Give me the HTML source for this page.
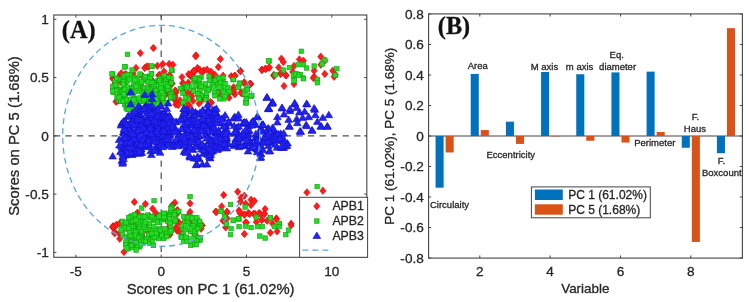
<!DOCTYPE html>
<html><head><meta charset="utf-8"><style>
html,body{margin:0;padding:0;background:#fff;overflow:hidden}
svg{display:block;filter:blur(0.3px)}
text{font-family:"Liberation Sans", sans-serif;stroke:#262626;stroke-width:0.3px}
</style></head><body>
<svg width="749" height="302" viewBox="0 0 749 302">
<rect x="0" y="0" width="749" height="302" fill="#fff"/>
<line x1="53.8" y1="135.85" x2="366.8" y2="135.85" stroke="#505050" stroke-width="1.2" stroke-dasharray="6.3 5.25"/>
<line x1="161.20" y1="15.0" x2="161.20" y2="257.3" stroke="#505050" stroke-width="1.2" stroke-dasharray="6.3 5.9" stroke-dashoffset="1"/>
<path d="M142.0 83.8L145.1 87.5L142.0 91.2L138.8 87.5Z" fill="#ff1c1c" stroke="#dd0a0a" stroke-width="0.6"/>
<path d="M172.1 79.9L175.3 83.6L172.1 87.3L169.0 83.6Z" fill="#ff1c1c" stroke="#dd0a0a" stroke-width="0.6"/>
<path d="M145.5 85.0L148.7 88.7L145.5 92.4L142.4 88.7Z" fill="#ff1c1c" stroke="#dd0a0a" stroke-width="0.6"/>
<path d="M124.8 81.8L128.0 85.5L124.8 89.2L121.7 85.5Z" fill="#ff1c1c" stroke="#dd0a0a" stroke-width="0.6"/>
<path d="M153.3 93.6L156.5 97.3L153.3 101.0L150.2 97.3Z" fill="#ff1c1c" stroke="#dd0a0a" stroke-width="0.6"/>
<path d="M119.0 73.0L122.2 76.7L119.0 80.4L115.9 76.7Z" fill="#ff1c1c" stroke="#dd0a0a" stroke-width="0.6"/>
<path d="M118.8 94.3L122.0 98.0L118.8 101.7L115.7 98.0Z" fill="#ff1c1c" stroke="#dd0a0a" stroke-width="0.6"/>
<path d="M157.4 62.1L160.5 65.8L157.4 69.5L154.2 65.8Z" fill="#ff1c1c" stroke="#dd0a0a" stroke-width="0.6"/>
<path d="M175.9 100.8L179.0 104.5L175.9 108.2L172.7 104.5Z" fill="#ff1c1c" stroke="#dd0a0a" stroke-width="0.6"/>
<path d="M154.9 86.2L158.0 89.9L154.9 93.6L151.7 89.9Z" fill="#ff1c1c" stroke="#dd0a0a" stroke-width="0.6"/>
<path d="M146.8 62.8L150.0 66.5L146.8 70.2L143.7 66.5Z" fill="#ff1c1c" stroke="#dd0a0a" stroke-width="0.6"/>
<path d="M125.2 70.5L128.3 74.2L125.2 77.9L122.0 74.2Z" fill="#ff1c1c" stroke="#dd0a0a" stroke-width="0.6"/>
<path d="M114.9 79.8L118.1 83.5L114.9 87.2L111.8 83.5Z" fill="#ff1c1c" stroke="#dd0a0a" stroke-width="0.6"/>
<path d="M141.2 95.7L144.3 99.4L141.2 103.1L138.0 99.4Z" fill="#ff1c1c" stroke="#dd0a0a" stroke-width="0.6"/>
<path d="M146.2 87.2L149.4 90.9L146.2 94.6L143.1 90.9Z" fill="#ff1c1c" stroke="#dd0a0a" stroke-width="0.6"/>
<path d="M145.0 88.1L148.1 91.8L145.0 95.5L141.8 91.8Z" fill="#ff1c1c" stroke="#dd0a0a" stroke-width="0.6"/>
<path d="M142.3 72.0L145.4 75.7L142.3 79.4L139.1 75.7Z" fill="#ff1c1c" stroke="#dd0a0a" stroke-width="0.6"/>
<path d="M166.8 90.0L169.9 93.7L166.8 97.4L163.6 93.7Z" fill="#ff1c1c" stroke="#dd0a0a" stroke-width="0.6"/>
<path d="M133.2 69.9L136.3 73.6L133.2 77.3L130.0 73.6Z" fill="#ff1c1c" stroke="#dd0a0a" stroke-width="0.6"/>
<path d="M162.0 77.1L165.2 80.8L162.0 84.5L158.9 80.8Z" fill="#ff1c1c" stroke="#dd0a0a" stroke-width="0.6"/>
<path d="M167.2 76.5L170.3 80.2L167.2 83.9L164.0 80.2Z" fill="#ff1c1c" stroke="#dd0a0a" stroke-width="0.6"/>
<path d="M174.3 95.9L177.5 99.6L174.3 103.3L171.2 99.6Z" fill="#ff1c1c" stroke="#dd0a0a" stroke-width="0.6"/>
<path d="M171.3 80.0L174.4 83.7L171.3 87.4L168.1 83.7Z" fill="#ff1c1c" stroke="#dd0a0a" stroke-width="0.6"/>
<path d="M117.7 86.7L120.8 90.4L117.7 94.1L114.5 90.4Z" fill="#ff1c1c" stroke="#dd0a0a" stroke-width="0.6"/>
<path d="M162.8 71.6L166.0 75.3L162.8 79.0L159.7 75.3Z" fill="#ff1c1c" stroke="#dd0a0a" stroke-width="0.6"/>
<path d="M118.6 74.3L121.7 78.0L118.6 81.7L115.4 78.0Z" fill="#ff1c1c" stroke="#dd0a0a" stroke-width="0.6"/>
<path d="M174.7 92.1L177.9 95.8L174.7 99.5L171.6 95.8Z" fill="#ff1c1c" stroke="#dd0a0a" stroke-width="0.6"/>
<path d="M120.6 70.6L123.7 74.3L120.6 78.0L117.4 74.3Z" fill="#ff1c1c" stroke="#dd0a0a" stroke-width="0.6"/>
<path d="M164.0 67.8L167.2 71.5L164.0 75.2L160.9 71.5Z" fill="#ff1c1c" stroke="#dd0a0a" stroke-width="0.6"/>
<path d="M148.8 79.1L151.9 82.8L148.8 86.5L145.6 82.8Z" fill="#ff1c1c" stroke="#dd0a0a" stroke-width="0.6"/>
<path d="M125.2 91.0L128.4 94.7L125.2 98.4L122.1 94.7Z" fill="#ff1c1c" stroke="#dd0a0a" stroke-width="0.6"/>
<path d="M121.4 87.3L124.5 91.0L121.4 94.7L118.2 91.0Z" fill="#ff1c1c" stroke="#dd0a0a" stroke-width="0.6"/>
<path d="M120.5 78.0L123.6 81.7L120.5 85.4L117.3 81.7Z" fill="#ff1c1c" stroke="#dd0a0a" stroke-width="0.6"/>
<path d="M126.6 71.6L129.8 75.3L126.6 79.0L123.5 75.3Z" fill="#ff1c1c" stroke="#dd0a0a" stroke-width="0.6"/>
<path d="M175.1 94.0L178.3 97.7L175.1 101.4L172.0 97.7Z" fill="#ff1c1c" stroke="#dd0a0a" stroke-width="0.6"/>
<path d="M132.5 97.5L135.6 101.2L132.5 104.9L129.3 101.2Z" fill="#ff1c1c" stroke="#dd0a0a" stroke-width="0.6"/>
<path d="M126.5 76.9L129.6 80.6L126.5 84.3L123.3 80.6Z" fill="#ff1c1c" stroke="#dd0a0a" stroke-width="0.6"/>
<path d="M167.7 87.3L170.8 91.0L167.7 94.7L164.5 91.0Z" fill="#ff1c1c" stroke="#dd0a0a" stroke-width="0.6"/>
<path d="M126.6 71.1L129.8 74.8L126.6 78.5L123.5 74.8Z" fill="#ff1c1c" stroke="#dd0a0a" stroke-width="0.6"/>
<path d="M162.5 74.1L165.6 77.8L162.5 81.5L159.3 77.8Z" fill="#ff1c1c" stroke="#dd0a0a" stroke-width="0.6"/>
<path d="M195.2 67.2L198.3 70.9L195.2 74.6L192.0 70.9Z" fill="#ff1c1c" stroke="#dd0a0a" stroke-width="0.6"/>
<path d="M183.2 87.6L186.4 91.3L183.2 95.0L180.1 91.3Z" fill="#ff1c1c" stroke="#dd0a0a" stroke-width="0.6"/>
<path d="M192.1 88.4L195.2 92.1L192.1 95.8L188.9 92.1Z" fill="#ff1c1c" stroke="#dd0a0a" stroke-width="0.6"/>
<path d="M199.6 82.4L202.7 86.1L199.6 89.8L196.4 86.1Z" fill="#ff1c1c" stroke="#dd0a0a" stroke-width="0.6"/>
<path d="M233.6 83.6L236.8 87.3L233.6 91.0L230.5 87.3Z" fill="#ff1c1c" stroke="#dd0a0a" stroke-width="0.6"/>
<path d="M211.3 99.0L214.5 102.7L211.3 106.4L208.2 102.7Z" fill="#ff1c1c" stroke="#dd0a0a" stroke-width="0.6"/>
<path d="M188.6 70.5L191.8 74.2L188.6 77.9L185.5 74.2Z" fill="#ff1c1c" stroke="#dd0a0a" stroke-width="0.6"/>
<path d="M192.5 71.9L195.6 75.6L192.5 79.3L189.3 75.6Z" fill="#ff1c1c" stroke="#dd0a0a" stroke-width="0.6"/>
<path d="M189.4 102.3L192.6 106.0L189.4 109.7L186.3 106.0Z" fill="#ff1c1c" stroke="#dd0a0a" stroke-width="0.6"/>
<path d="M229.2 88.4L232.3 92.1L229.2 95.8L226.0 92.1Z" fill="#ff1c1c" stroke="#dd0a0a" stroke-width="0.6"/>
<path d="M202.4 68.5L205.6 72.2L202.4 75.9L199.3 72.2Z" fill="#ff1c1c" stroke="#dd0a0a" stroke-width="0.6"/>
<path d="M191.8 92.5L195.0 96.2L191.8 99.9L188.7 96.2Z" fill="#ff1c1c" stroke="#dd0a0a" stroke-width="0.6"/>
<path d="M192.9 97.2L196.1 100.9L192.9 104.6L189.8 100.9Z" fill="#ff1c1c" stroke="#dd0a0a" stroke-width="0.6"/>
<path d="M212.6 76.0L215.7 79.7L212.6 83.4L209.4 79.7Z" fill="#ff1c1c" stroke="#dd0a0a" stroke-width="0.6"/>
<path d="M188.2 93.1L191.3 96.8L188.2 100.5L185.0 96.8Z" fill="#ff1c1c" stroke="#dd0a0a" stroke-width="0.6"/>
<path d="M182.0 73.4L185.1 77.1L182.0 80.8L178.8 77.1Z" fill="#ff1c1c" stroke="#dd0a0a" stroke-width="0.6"/>
<path d="M210.4 98.4L213.6 102.1L210.4 105.8L207.3 102.1Z" fill="#ff1c1c" stroke="#dd0a0a" stroke-width="0.6"/>
<path d="M213.6 75.5L216.8 79.2L213.6 82.9L210.5 79.2Z" fill="#ff1c1c" stroke="#dd0a0a" stroke-width="0.6"/>
<path d="M231.2 72.5L234.4 76.2L231.2 79.9L228.1 76.2Z" fill="#ff1c1c" stroke="#dd0a0a" stroke-width="0.6"/>
<path d="M203.9 66.7L207.0 70.4L203.9 74.1L200.7 70.4Z" fill="#ff1c1c" stroke="#dd0a0a" stroke-width="0.6"/>
<path d="M188.2 79.1L191.4 82.8L188.2 86.5L185.1 82.8Z" fill="#ff1c1c" stroke="#dd0a0a" stroke-width="0.6"/>
<path d="M211.2 69.6L214.3 73.3L211.2 77.0L208.0 73.3Z" fill="#ff1c1c" stroke="#dd0a0a" stroke-width="0.6"/>
<path d="M199.0 99.9L202.2 103.6L199.0 107.3L195.9 103.6Z" fill="#ff1c1c" stroke="#dd0a0a" stroke-width="0.6"/>
<path d="M234.9 90.6L238.0 94.3L234.9 98.0L231.7 94.3Z" fill="#ff1c1c" stroke="#dd0a0a" stroke-width="0.6"/>
<path d="M218.1 87.7L221.2 91.4L218.1 95.1L214.9 91.4Z" fill="#ff1c1c" stroke="#dd0a0a" stroke-width="0.6"/>
<path d="M206.0 93.5L209.1 97.2L206.0 100.9L202.8 97.2Z" fill="#ff1c1c" stroke="#dd0a0a" stroke-width="0.6"/>
<path d="M182.4 86.1L185.5 89.8L182.4 93.5L179.2 89.8Z" fill="#ff1c1c" stroke="#dd0a0a" stroke-width="0.6"/>
<path d="M220.8 92.4L223.9 96.1L220.8 99.8L217.6 96.1Z" fill="#ff1c1c" stroke="#dd0a0a" stroke-width="0.6"/>
<path d="M198.4 91.7L201.6 95.4L198.4 99.1L195.3 95.4Z" fill="#ff1c1c" stroke="#dd0a0a" stroke-width="0.6"/>
<path d="M202.2 95.9L205.3 99.6L202.2 103.3L199.0 99.6Z" fill="#ff1c1c" stroke="#dd0a0a" stroke-width="0.6"/>
<path d="M191.4 227.1L194.6 230.8L191.4 234.5L188.3 230.8Z" fill="#ff1c1c" stroke="#dd0a0a" stroke-width="0.6"/>
<path d="M169.5 218.5L172.6 222.2L169.5 225.9L166.3 222.2Z" fill="#ff1c1c" stroke="#dd0a0a" stroke-width="0.6"/>
<path d="M165.6 228.7L168.8 232.4L165.6 236.1L162.5 232.4Z" fill="#ff1c1c" stroke="#dd0a0a" stroke-width="0.6"/>
<path d="M119.4 230.1L122.5 233.8L119.4 237.5L116.2 233.8Z" fill="#ff1c1c" stroke="#dd0a0a" stroke-width="0.6"/>
<path d="M179.0 218.8L182.1 222.5L179.0 226.2L175.8 222.5Z" fill="#ff1c1c" stroke="#dd0a0a" stroke-width="0.6"/>
<path d="M179.6 227.4L182.8 231.1L179.6 234.8L176.5 231.1Z" fill="#ff1c1c" stroke="#dd0a0a" stroke-width="0.6"/>
<path d="M119.7 235.1L122.9 238.8L119.7 242.5L116.6 238.8Z" fill="#ff1c1c" stroke="#dd0a0a" stroke-width="0.6"/>
<path d="M114.7 228.4L117.9 232.1L114.7 235.8L111.6 232.1Z" fill="#ff1c1c" stroke="#dd0a0a" stroke-width="0.6"/>
<path d="M156.2 211.7L159.4 215.4L156.2 219.1L153.1 215.4Z" fill="#ff1c1c" stroke="#dd0a0a" stroke-width="0.6"/>
<path d="M176.2 223.7L179.4 227.4L176.2 231.1L173.1 227.4Z" fill="#ff1c1c" stroke="#dd0a0a" stroke-width="0.6"/>
<path d="M139.7 231.8L142.8 235.5L139.7 239.2L136.5 235.5Z" fill="#ff1c1c" stroke="#dd0a0a" stroke-width="0.6"/>
<path d="M195.3 231.0L198.5 234.7L195.3 238.4L192.2 234.7Z" fill="#ff1c1c" stroke="#dd0a0a" stroke-width="0.6"/>
<path d="M142.1 231.3L145.2 235.0L142.1 238.7L138.9 235.0Z" fill="#ff1c1c" stroke="#dd0a0a" stroke-width="0.6"/>
<path d="M130.3 220.7L133.4 224.4L130.3 228.1L127.1 224.4Z" fill="#ff1c1c" stroke="#dd0a0a" stroke-width="0.6"/>
<path d="M193.0 218.6L196.1 222.3L193.0 226.0L189.8 222.3Z" fill="#ff1c1c" stroke="#dd0a0a" stroke-width="0.6"/>
<path d="M165.6 215.5L168.8 219.2L165.6 222.9L162.5 219.2Z" fill="#ff1c1c" stroke="#dd0a0a" stroke-width="0.6"/>
<path d="M124.5 223.6L127.7 227.3L124.5 231.0L121.4 227.3Z" fill="#ff1c1c" stroke="#dd0a0a" stroke-width="0.6"/>
<path d="M137.5 208.9L140.6 212.6L137.5 216.3L134.3 212.6Z" fill="#ff1c1c" stroke="#dd0a0a" stroke-width="0.6"/>
<path d="M153.5 213.7L156.6 217.4L153.5 221.1L150.3 217.4Z" fill="#ff1c1c" stroke="#dd0a0a" stroke-width="0.6"/>
<path d="M131.7 219.9L134.8 223.6L131.7 227.3L128.5 223.6Z" fill="#ff1c1c" stroke="#dd0a0a" stroke-width="0.6"/>
<path d="M169.6 223.5L172.7 227.2L169.6 230.9L166.4 227.2Z" fill="#ff1c1c" stroke="#dd0a0a" stroke-width="0.6"/>
<path d="M141.0 239.1L144.2 242.8L141.0 246.5L137.9 242.8Z" fill="#ff1c1c" stroke="#dd0a0a" stroke-width="0.6"/>
<path d="M202.3 221.7L205.5 225.4L202.3 229.1L199.2 225.4Z" fill="#ff1c1c" stroke="#dd0a0a" stroke-width="0.6"/>
<path d="M177.2 227.0L180.3 230.7L177.2 234.4L174.0 230.7Z" fill="#ff1c1c" stroke="#dd0a0a" stroke-width="0.6"/>
<path d="M140.4 236.9L143.6 240.6L140.4 244.3L137.3 240.6Z" fill="#ff1c1c" stroke="#dd0a0a" stroke-width="0.6"/>
<path d="M188.3 212.0L191.5 215.7L188.3 219.4L185.2 215.7Z" fill="#ff1c1c" stroke="#dd0a0a" stroke-width="0.6"/>
<path d="M169.9 221.4L173.0 225.1L169.9 228.8L166.7 225.1Z" fill="#ff1c1c" stroke="#dd0a0a" stroke-width="0.6"/>
<path d="M170.0 230.8L173.1 234.5L170.0 238.2L166.8 234.5Z" fill="#ff1c1c" stroke="#dd0a0a" stroke-width="0.6"/>
<path d="M175.0 210.3L178.1 214.0L175.0 217.7L171.8 214.0Z" fill="#ff1c1c" stroke="#dd0a0a" stroke-width="0.6"/>
<path d="M155.7 209.3L158.9 213.0L155.7 216.7L152.6 213.0Z" fill="#ff1c1c" stroke="#dd0a0a" stroke-width="0.6"/>
<path d="M113.0 222.5L116.1 226.2L113.0 229.9L109.8 226.2Z" fill="#ff1c1c" stroke="#dd0a0a" stroke-width="0.6"/>
<path d="M177.7 209.4L180.9 213.1L177.7 216.8L174.6 213.1Z" fill="#ff1c1c" stroke="#dd0a0a" stroke-width="0.6"/>
<path d="M137.1 216.9L140.2 220.6L137.1 224.3L133.9 220.6Z" fill="#ff1c1c" stroke="#dd0a0a" stroke-width="0.6"/>
<path d="M176.2 224.7L179.3 228.4L176.2 232.1L173.0 228.4Z" fill="#ff1c1c" stroke="#dd0a0a" stroke-width="0.6"/>
<path d="M124.0 221.7L127.1 225.4L124.0 229.1L120.8 225.4Z" fill="#ff1c1c" stroke="#dd0a0a" stroke-width="0.6"/>
<path d="M146.7 226.9L149.8 230.6L146.7 234.3L143.5 230.6Z" fill="#ff1c1c" stroke="#dd0a0a" stroke-width="0.6"/>
<path d="M198.9 222.2L202.0 225.9L198.9 229.6L195.7 225.9Z" fill="#ff1c1c" stroke="#dd0a0a" stroke-width="0.6"/>
<path d="M171.9 210.5L175.1 214.2L171.9 217.9L168.8 214.2Z" fill="#ff1c1c" stroke="#dd0a0a" stroke-width="0.6"/>
<path d="M131.6 241.8L134.8 245.5L131.6 249.2L128.5 245.5Z" fill="#ff1c1c" stroke="#dd0a0a" stroke-width="0.6"/>
<path d="M190.7 217.0L193.9 220.7L190.7 224.4L187.6 220.7Z" fill="#ff1c1c" stroke="#dd0a0a" stroke-width="0.6"/>
<path d="M153.4 44.3L156.6 48.0L153.4 51.7L150.2 48.0Z" fill="#ff1c1c" stroke="#dd0a0a" stroke-width="0.6"/>
<path d="M140.3 49.4L143.5 53.1L140.3 56.8L137.2 53.1Z" fill="#ff1c1c" stroke="#dd0a0a" stroke-width="0.6"/>
<path d="M162.8 60.3L166.0 64.0L162.8 67.7L159.7 64.0Z" fill="#ff1c1c" stroke="#dd0a0a" stroke-width="0.6"/>
<path d="M169.2 60.3L172.3 64.0L169.2 67.7L166.0 64.0Z" fill="#ff1c1c" stroke="#dd0a0a" stroke-width="0.6"/>
<path d="M172.8 61.0L176.0 64.7L172.8 68.4L169.7 64.7Z" fill="#ff1c1c" stroke="#dd0a0a" stroke-width="0.6"/>
<path d="M196.1 51.7L199.2 55.4L196.1 59.1L192.9 55.4Z" fill="#ff1c1c" stroke="#dd0a0a" stroke-width="0.6"/>
<path d="M136.0 64.3L139.2 68.0L136.0 71.7L132.8 68.0Z" fill="#ff1c1c" stroke="#dd0a0a" stroke-width="0.6"/>
<path d="M144.7 64.3L147.8 68.0L144.7 71.7L141.5 68.0Z" fill="#ff1c1c" stroke="#dd0a0a" stroke-width="0.6"/>
<path d="M148.7 63.0L151.8 66.7L148.7 70.4L145.5 66.7Z" fill="#ff1c1c" stroke="#dd0a0a" stroke-width="0.6"/>
<path d="M121.4 69.7L124.6 73.4L121.4 77.1L118.2 73.4Z" fill="#ff1c1c" stroke="#dd0a0a" stroke-width="0.6"/>
<path d="M158.7 71.7L161.8 75.4L158.7 79.1L155.5 75.4Z" fill="#ff1c1c" stroke="#dd0a0a" stroke-width="0.6"/>
<path d="M169.4 72.3L172.6 76.0L169.4 79.7L166.2 76.0Z" fill="#ff1c1c" stroke="#dd0a0a" stroke-width="0.6"/>
<path d="M193.5 67.7L196.7 71.4L193.5 75.1L190.3 71.4Z" fill="#ff1c1c" stroke="#dd0a0a" stroke-width="0.6"/>
<path d="M190.8 71.7L194.0 75.4L190.8 79.1L187.7 75.4Z" fill="#ff1c1c" stroke="#dd0a0a" stroke-width="0.6"/>
<path d="M197.5 64.3L200.7 68.0L197.5 71.7L194.3 68.0Z" fill="#ff1c1c" stroke="#dd0a0a" stroke-width="0.6"/>
<path d="M112.7 74.6L115.9 78.3L112.7 82.0L109.5 78.3Z" fill="#ff1c1c" stroke="#dd0a0a" stroke-width="0.6"/>
<path d="M117.4 96.7L120.6 100.4L117.4 104.1L114.2 100.4Z" fill="#ff1c1c" stroke="#dd0a0a" stroke-width="0.6"/>
<path d="M116.0 98.0L119.2 101.7L116.0 105.4L112.8 101.7Z" fill="#ff1c1c" stroke="#dd0a0a" stroke-width="0.6"/>
<path d="M176.1 88.7L179.2 92.4L176.1 96.1L172.9 92.4Z" fill="#ff1c1c" stroke="#dd0a0a" stroke-width="0.6"/>
<path d="M177.4 100.0L180.6 103.7L177.4 107.4L174.2 103.7Z" fill="#ff1c1c" stroke="#dd0a0a" stroke-width="0.6"/>
<path d="M182.8 79.3L186.0 83.0L182.8 86.7L179.7 83.0Z" fill="#ff1c1c" stroke="#dd0a0a" stroke-width="0.6"/>
<path d="M188.1 89.3L191.2 93.0L188.1 96.7L184.9 93.0Z" fill="#ff1c1c" stroke="#dd0a0a" stroke-width="0.6"/>
<path d="M188.1 101.3L191.2 105.0L188.1 108.7L184.9 105.0Z" fill="#ff1c1c" stroke="#dd0a0a" stroke-width="0.6"/>
<path d="M180.1 96.7L183.2 100.4L180.1 104.1L176.9 100.4Z" fill="#ff1c1c" stroke="#dd0a0a" stroke-width="0.6"/>
<path d="M190.8 72.6L194.0 76.3L190.8 80.0L187.7 76.3Z" fill="#ff1c1c" stroke="#dd0a0a" stroke-width="0.6"/>
<path d="M198.1 79.3L201.2 83.0L198.1 86.7L194.9 83.0Z" fill="#ff1c1c" stroke="#dd0a0a" stroke-width="0.6"/>
<path d="M150.7 75.3L153.8 79.0L150.7 82.7L147.5 79.0Z" fill="#ff1c1c" stroke="#dd0a0a" stroke-width="0.6"/>
<path d="M146.7 88.7L149.8 92.4L146.7 96.1L143.5 92.4Z" fill="#ff1c1c" stroke="#dd0a0a" stroke-width="0.6"/>
<path d="M160.1 96.7L163.2 100.4L160.1 104.1L156.9 100.4Z" fill="#ff1c1c" stroke="#dd0a0a" stroke-width="0.6"/>
<path d="M126.7 75.3L129.8 79.0L126.7 82.7L123.5 79.0Z" fill="#ff1c1c" stroke="#dd0a0a" stroke-width="0.6"/>
<path d="M113.9 76.1L117.1 79.8L113.9 83.5L110.8 79.8Z" fill="#ff1c1c" stroke="#dd0a0a" stroke-width="0.6"/>
<path d="M151.6 76.1L154.8 79.8L151.6 83.5L148.4 79.8Z" fill="#ff1c1c" stroke="#dd0a0a" stroke-width="0.6"/>
<path d="M159.6 71.2L162.8 74.9L159.6 78.6L156.4 74.9Z" fill="#ff1c1c" stroke="#dd0a0a" stroke-width="0.6"/>
<path d="M169.5 71.2L172.7 74.9L169.5 78.6L166.3 74.9Z" fill="#ff1c1c" stroke="#dd0a0a" stroke-width="0.6"/>
<path d="M175.5 87.0L178.7 90.7L175.5 94.4L172.3 90.7Z" fill="#ff1c1c" stroke="#dd0a0a" stroke-width="0.6"/>
<path d="M117.9 97.0L121.1 100.7L117.9 104.4L114.8 100.7Z" fill="#ff1c1c" stroke="#dd0a0a" stroke-width="0.6"/>
<path d="M159.6 97.0L162.8 100.7L159.6 104.4L156.4 100.7Z" fill="#ff1c1c" stroke="#dd0a0a" stroke-width="0.6"/>
<path d="M195.7 52.6L198.8 56.3L195.7 60.0L192.5 56.3Z" fill="#ff1c1c" stroke="#dd0a0a" stroke-width="0.6"/>
<path d="M220.4 55.3L223.6 59.0L220.4 62.7L217.2 59.0Z" fill="#ff1c1c" stroke="#dd0a0a" stroke-width="0.6"/>
<path d="M218.4 63.3L221.6 67.0L218.4 70.7L215.2 67.0Z" fill="#ff1c1c" stroke="#dd0a0a" stroke-width="0.6"/>
<path d="M191.0 71.3L194.2 75.0L191.0 78.7L187.8 75.0Z" fill="#ff1c1c" stroke="#dd0a0a" stroke-width="0.6"/>
<path d="M193.7 67.3L196.8 71.0L193.7 74.7L190.5 71.0Z" fill="#ff1c1c" stroke="#dd0a0a" stroke-width="0.6"/>
<path d="M199.7 66.0L202.8 69.7L199.7 73.4L196.5 69.7Z" fill="#ff1c1c" stroke="#dd0a0a" stroke-width="0.6"/>
<path d="M201.7 68.0L204.8 71.7L201.7 75.4L198.5 71.7Z" fill="#ff1c1c" stroke="#dd0a0a" stroke-width="0.6"/>
<path d="M207.0 66.0L210.2 69.7L207.0 73.4L203.8 69.7Z" fill="#ff1c1c" stroke="#dd0a0a" stroke-width="0.6"/>
<path d="M211.0 68.0L214.2 71.7L211.0 75.4L207.8 71.7Z" fill="#ff1c1c" stroke="#dd0a0a" stroke-width="0.6"/>
<path d="M215.0 71.3L218.2 75.0L215.0 78.7L211.8 75.0Z" fill="#ff1c1c" stroke="#dd0a0a" stroke-width="0.6"/>
<path d="M223.1 72.0L226.2 75.7L223.1 79.4L219.9 75.7Z" fill="#ff1c1c" stroke="#dd0a0a" stroke-width="0.6"/>
<path d="M235.1 72.0L238.2 75.7L235.1 79.4L231.9 75.7Z" fill="#ff1c1c" stroke="#dd0a0a" stroke-width="0.6"/>
<path d="M240.4 67.3L243.6 71.0L240.4 74.7L237.2 71.0Z" fill="#ff1c1c" stroke="#dd0a0a" stroke-width="0.6"/>
<path d="M244.4 78.7L247.6 82.4L244.4 86.1L241.2 82.4Z" fill="#ff1c1c" stroke="#dd0a0a" stroke-width="0.6"/>
<path d="M250.4 80.0L253.6 83.7L250.4 87.4L247.2 83.7Z" fill="#ff1c1c" stroke="#dd0a0a" stroke-width="0.6"/>
<path d="M233.1 87.3L236.2 91.0L233.1 94.7L229.9 91.0Z" fill="#ff1c1c" stroke="#dd0a0a" stroke-width="0.6"/>
<path d="M183.0 80.0L186.2 83.7L183.0 87.4L179.8 83.7Z" fill="#ff1c1c" stroke="#dd0a0a" stroke-width="0.6"/>
<path d="M175.0 87.3L178.2 91.0L175.0 94.7L171.8 91.0Z" fill="#ff1c1c" stroke="#dd0a0a" stroke-width="0.6"/>
<path d="M261.8 66.0L264.9 69.7L261.8 73.4L258.7 69.7Z" fill="#ff1c1c" stroke="#dd0a0a" stroke-width="0.6"/>
<path d="M265.8 65.3L268.9 69.0L265.8 72.7L262.7 69.0Z" fill="#ff1c1c" stroke="#dd0a0a" stroke-width="0.6"/>
<path d="M269.1 64.0L272.2 67.7L269.1 71.4L266.0 67.7Z" fill="#ff1c1c" stroke="#dd0a0a" stroke-width="0.6"/>
<path d="M273.8 71.3L276.9 75.0L273.8 78.7L270.7 75.0Z" fill="#ff1c1c" stroke="#dd0a0a" stroke-width="0.6"/>
<path d="M187.7 101.3L190.8 105.0L187.7 108.7L184.5 105.0Z" fill="#ff1c1c" stroke="#dd0a0a" stroke-width="0.6"/>
<path d="M178.3 101.3L181.5 105.0L178.3 108.7L175.2 105.0Z" fill="#ff1c1c" stroke="#dd0a0a" stroke-width="0.6"/>
<path d="M229.1 94.0L232.2 97.7L229.1 101.4L225.9 97.7Z" fill="#ff1c1c" stroke="#dd0a0a" stroke-width="0.6"/>
<path d="M232.4 87.3L235.6 91.0L232.4 94.7L229.2 91.0Z" fill="#ff1c1c" stroke="#dd0a0a" stroke-width="0.6"/>
<path d="M241.1 88.7L244.2 92.4L241.1 96.1L237.9 92.4Z" fill="#ff1c1c" stroke="#dd0a0a" stroke-width="0.6"/>
<path d="M262.0 66.3L265.1 70.0L262.0 73.7L258.9 70.0Z" fill="#ff1c1c" stroke="#dd0a0a" stroke-width="0.6"/>
<path d="M265.4 65.0L268.5 68.7L265.4 72.4L262.2 68.7Z" fill="#ff1c1c" stroke="#dd0a0a" stroke-width="0.6"/>
<path d="M269.4 63.7L272.5 67.4L269.4 71.1L266.2 67.4Z" fill="#ff1c1c" stroke="#dd0a0a" stroke-width="0.6"/>
<path d="M281.4 55.0L284.5 58.7L281.4 62.4L278.2 58.7Z" fill="#ff1c1c" stroke="#dd0a0a" stroke-width="0.6"/>
<path d="M283.4 58.3L286.5 62.0L283.4 65.7L280.2 62.0Z" fill="#ff1c1c" stroke="#dd0a0a" stroke-width="0.6"/>
<path d="M278.7 63.7L281.8 67.4L278.7 71.1L275.6 67.4Z" fill="#ff1c1c" stroke="#dd0a0a" stroke-width="0.6"/>
<path d="M274.0 71.7L277.1 75.4L274.0 79.1L270.9 75.4Z" fill="#ff1c1c" stroke="#dd0a0a" stroke-width="0.6"/>
<path d="M280.7 69.7L283.8 73.4L280.7 77.1L277.6 73.4Z" fill="#ff1c1c" stroke="#dd0a0a" stroke-width="0.6"/>
<path d="M286.0 71.7L289.1 75.4L286.0 79.1L282.9 75.4Z" fill="#ff1c1c" stroke="#dd0a0a" stroke-width="0.6"/>
<path d="M294.0 62.3L297.1 66.0L294.0 69.7L290.9 66.0Z" fill="#ff1c1c" stroke="#dd0a0a" stroke-width="0.6"/>
<path d="M292.7 68.3L295.8 72.0L292.7 75.7L289.6 72.0Z" fill="#ff1c1c" stroke="#dd0a0a" stroke-width="0.6"/>
<path d="M299.4 55.7L302.5 59.4L299.4 63.1L296.2 59.4Z" fill="#ff1c1c" stroke="#dd0a0a" stroke-width="0.6"/>
<path d="M303.4 57.0L306.5 60.7L303.4 64.4L300.2 60.7Z" fill="#ff1c1c" stroke="#dd0a0a" stroke-width="0.6"/>
<path d="M314.1 67.0L317.2 70.7L314.1 74.4L311.0 70.7Z" fill="#ff1c1c" stroke="#dd0a0a" stroke-width="0.6"/>
<path d="M314.1 73.0L317.2 76.7L314.1 80.4L311.0 76.7Z" fill="#ff1c1c" stroke="#dd0a0a" stroke-width="0.6"/>
<path d="M320.8 53.0L323.9 56.7L320.8 60.4L317.7 56.7Z" fill="#ff1c1c" stroke="#dd0a0a" stroke-width="0.6"/>
<path d="M324.8 57.0L327.9 60.7L324.8 64.4L321.7 60.7Z" fill="#ff1c1c" stroke="#dd0a0a" stroke-width="0.6"/>
<path d="M320.8 61.0L323.9 64.7L320.8 68.4L317.7 64.7Z" fill="#ff1c1c" stroke="#dd0a0a" stroke-width="0.6"/>
<path d="M324.8 70.3L327.9 74.0L324.8 77.7L321.7 74.0Z" fill="#ff1c1c" stroke="#dd0a0a" stroke-width="0.6"/>
<path d="M332.8 67.0L335.9 70.7L332.8 74.4L329.7 70.7Z" fill="#ff1c1c" stroke="#dd0a0a" stroke-width="0.6"/>
<path d="M335.4 71.0L338.5 74.7L335.4 78.4L332.2 74.7Z" fill="#ff1c1c" stroke="#dd0a0a" stroke-width="0.6"/>
<path d="M284.0 82.3L287.1 86.0L284.0 89.7L280.9 86.0Z" fill="#ff1c1c" stroke="#dd0a0a" stroke-width="0.6"/>
<path d="M294.0 80.3L297.1 84.0L294.0 87.7L290.9 84.0Z" fill="#ff1c1c" stroke="#dd0a0a" stroke-width="0.6"/>
<path d="M313.4 74.3L316.5 78.0L313.4 81.7L310.2 78.0Z" fill="#ff1c1c" stroke="#dd0a0a" stroke-width="0.6"/>
<path d="M334.1 73.0L337.2 76.7L334.1 80.4L331.0 76.7Z" fill="#ff1c1c" stroke="#dd0a0a" stroke-width="0.6"/>
<path d="M250.7 80.3L253.8 84.0L250.7 87.7L247.5 84.0Z" fill="#ff1c1c" stroke="#dd0a0a" stroke-width="0.6"/>
<path d="M274.0 72.3L277.1 76.0L274.0 79.7L270.9 76.0Z" fill="#ff1c1c" stroke="#dd0a0a" stroke-width="0.6"/>
<path d="M286.0 71.6L289.1 75.3L286.0 79.0L282.9 75.3Z" fill="#ff1c1c" stroke="#dd0a0a" stroke-width="0.6"/>
<path d="M280.7 70.3L283.8 74.0L280.7 77.7L277.6 74.0Z" fill="#ff1c1c" stroke="#dd0a0a" stroke-width="0.6"/>
<path d="M240.4 67.6L243.6 71.3L240.4 75.0L237.2 71.3Z" fill="#ff1c1c" stroke="#dd0a0a" stroke-width="0.6"/>
<path d="M234.6 72.2L237.8 75.9L234.6 79.6L231.4 75.9Z" fill="#ff1c1c" stroke="#dd0a0a" stroke-width="0.6"/>
<path d="M233.5 87.3L236.7 91.0L233.5 94.7L230.3 91.0Z" fill="#ff1c1c" stroke="#dd0a0a" stroke-width="0.6"/>
<path d="M243.9 79.2L247.1 82.9L243.9 86.6L240.8 82.9Z" fill="#ff1c1c" stroke="#dd0a0a" stroke-width="0.6"/>
<path d="M249.7 80.3L252.8 84.0L249.7 87.7L246.5 84.0Z" fill="#ff1c1c" stroke="#dd0a0a" stroke-width="0.6"/>
<path d="M241.6 89.6L244.8 93.3L241.6 97.0L238.4 93.3Z" fill="#ff1c1c" stroke="#dd0a0a" stroke-width="0.6"/>
<path d="M306.9 188.7L310.0 192.4L306.9 196.1L303.8 192.4Z" fill="#ff1c1c" stroke="#dd0a0a" stroke-width="0.6"/>
<path d="M322.9 187.1L326.0 190.8L322.9 194.5L319.8 190.8Z" fill="#ff1c1c" stroke="#dd0a0a" stroke-width="0.6"/>
<path d="M134.4 198.3L137.6 202.0L134.4 205.7L131.2 202.0Z" fill="#ff1c1c" stroke="#dd0a0a" stroke-width="0.6"/>
<path d="M145.4 200.3L148.6 204.0L145.4 207.7L142.2 204.0Z" fill="#ff1c1c" stroke="#dd0a0a" stroke-width="0.6"/>
<path d="M152.7 205.0L155.8 208.7L152.7 212.4L149.5 208.7Z" fill="#ff1c1c" stroke="#dd0a0a" stroke-width="0.6"/>
<path d="M174.8 199.0L178.0 202.7L174.8 206.4L171.7 202.7Z" fill="#ff1c1c" stroke="#dd0a0a" stroke-width="0.6"/>
<path d="M172.1 201.7L175.2 205.4L172.1 209.1L168.9 205.4Z" fill="#ff1c1c" stroke="#dd0a0a" stroke-width="0.6"/>
<path d="M190.1 199.7L193.2 203.4L190.1 207.1L186.9 203.4Z" fill="#ff1c1c" stroke="#dd0a0a" stroke-width="0.6"/>
<path d="M190.1 208.3L193.2 212.0L190.1 215.7L186.9 212.0Z" fill="#ff1c1c" stroke="#dd0a0a" stroke-width="0.6"/>
<path d="M177.4 206.3L180.6 210.0L177.4 213.7L174.2 210.0Z" fill="#ff1c1c" stroke="#dd0a0a" stroke-width="0.6"/>
<path d="M176.1 216.3L179.2 220.0L176.1 223.7L172.9 220.0Z" fill="#ff1c1c" stroke="#dd0a0a" stroke-width="0.6"/>
<path d="M184.8 217.7L188.0 221.4L184.8 225.1L181.7 221.4Z" fill="#ff1c1c" stroke="#dd0a0a" stroke-width="0.6"/>
<path d="M157.4 213.0L160.6 216.7L157.4 220.4L154.2 216.7Z" fill="#ff1c1c" stroke="#dd0a0a" stroke-width="0.6"/>
<path d="M149.4 212.3L152.6 216.0L149.4 219.7L146.2 216.0Z" fill="#ff1c1c" stroke="#dd0a0a" stroke-width="0.6"/>
<path d="M136.0 211.0L139.2 214.7L136.0 218.4L132.8 214.7Z" fill="#ff1c1c" stroke="#dd0a0a" stroke-width="0.6"/>
<path d="M120.0 219.7L123.2 223.4L120.0 227.1L116.8 223.4Z" fill="#ff1c1c" stroke="#dd0a0a" stroke-width="0.6"/>
<path d="M116.0 221.7L119.2 225.4L116.0 229.1L112.8 225.4Z" fill="#ff1c1c" stroke="#dd0a0a" stroke-width="0.6"/>
<path d="M112.7 223.7L115.9 227.4L112.7 231.1L109.5 227.4Z" fill="#ff1c1c" stroke="#dd0a0a" stroke-width="0.6"/>
<path d="M113.4 223.0L116.6 226.7L113.4 230.4L110.2 226.7Z" fill="#ff1c1c" stroke="#dd0a0a" stroke-width="0.6"/>
<path d="M116.7 221.0L119.9 224.7L116.7 228.4L113.5 224.7Z" fill="#ff1c1c" stroke="#dd0a0a" stroke-width="0.6"/>
<path d="M120.0 219.6L123.2 223.3L120.0 227.0L116.8 223.3Z" fill="#ff1c1c" stroke="#dd0a0a" stroke-width="0.6"/>
<path d="M114.7 229.7L117.9 233.4L114.7 237.1L111.5 233.4Z" fill="#ff1c1c" stroke="#dd0a0a" stroke-width="0.6"/>
<path d="M124.0 248.3L127.2 252.0L124.0 255.7L120.8 252.0Z" fill="#ff1c1c" stroke="#dd0a0a" stroke-width="0.6"/>
<path d="M144.0 236.3L147.2 240.0L144.0 243.7L140.8 240.0Z" fill="#ff1c1c" stroke="#dd0a0a" stroke-width="0.6"/>
<path d="M149.4 233.0L152.6 236.7L149.4 240.4L146.2 236.7Z" fill="#ff1c1c" stroke="#dd0a0a" stroke-width="0.6"/>
<path d="M160.1 229.7L163.2 233.4L160.1 237.1L156.9 233.4Z" fill="#ff1c1c" stroke="#dd0a0a" stroke-width="0.6"/>
<path d="M223.7 191.3L226.8 195.0L223.7 198.7L220.5 195.0Z" fill="#ff1c1c" stroke="#dd0a0a" stroke-width="0.6"/>
<path d="M237.7 188.0L240.8 191.7L237.7 195.4L234.5 191.7Z" fill="#ff1c1c" stroke="#dd0a0a" stroke-width="0.6"/>
<path d="M241.1 194.0L244.2 197.7L241.1 201.4L237.9 197.7Z" fill="#ff1c1c" stroke="#dd0a0a" stroke-width="0.6"/>
<path d="M244.4 192.0L247.6 195.7L244.4 199.4L241.2 195.7Z" fill="#ff1c1c" stroke="#dd0a0a" stroke-width="0.6"/>
<path d="M240.4 198.0L243.6 201.7L240.4 205.4L237.2 201.7Z" fill="#ff1c1c" stroke="#dd0a0a" stroke-width="0.6"/>
<path d="M251.1 196.0L254.2 199.7L251.1 203.4L247.9 199.7Z" fill="#ff1c1c" stroke="#dd0a0a" stroke-width="0.6"/>
<path d="M254.4 197.3L257.6 201.0L254.4 204.7L251.2 201.0Z" fill="#ff1c1c" stroke="#dd0a0a" stroke-width="0.6"/>
<path d="M251.1 201.3L254.2 205.0L251.1 208.7L247.9 205.0Z" fill="#ff1c1c" stroke="#dd0a0a" stroke-width="0.6"/>
<path d="M245.7 200.0L248.8 203.7L245.7 207.4L242.5 203.7Z" fill="#ff1c1c" stroke="#dd0a0a" stroke-width="0.6"/>
<path d="M221.7 202.7L224.8 206.4L221.7 210.1L218.5 206.4Z" fill="#ff1c1c" stroke="#dd0a0a" stroke-width="0.6"/>
<path d="M215.7 208.0L218.8 211.7L215.7 215.4L212.5 211.7Z" fill="#ff1c1c" stroke="#dd0a0a" stroke-width="0.6"/>
<path d="M227.0 208.0L230.2 211.7L227.0 215.4L223.8 211.7Z" fill="#ff1c1c" stroke="#dd0a0a" stroke-width="0.6"/>
<path d="M239.1 206.7L242.2 210.4L239.1 214.1L235.9 210.4Z" fill="#ff1c1c" stroke="#dd0a0a" stroke-width="0.6"/>
<path d="M240.4 210.0L243.6 213.7L240.4 217.4L237.2 213.7Z" fill="#ff1c1c" stroke="#dd0a0a" stroke-width="0.6"/>
<path d="M244.4 210.7L247.6 214.4L244.4 218.1L241.2 214.4Z" fill="#ff1c1c" stroke="#dd0a0a" stroke-width="0.6"/>
<path d="M248.4 209.3L251.6 213.0L248.4 216.7L245.2 213.0Z" fill="#ff1c1c" stroke="#dd0a0a" stroke-width="0.6"/>
<path d="M253.7 210.0L256.8 213.7L253.7 217.4L250.5 213.7Z" fill="#ff1c1c" stroke="#dd0a0a" stroke-width="0.6"/>
<path d="M259.1 209.3L262.2 213.0L259.1 216.7L256.0 213.0Z" fill="#ff1c1c" stroke="#dd0a0a" stroke-width="0.6"/>
<path d="M265.1 205.3L268.2 209.0L265.1 212.7L262.0 209.0Z" fill="#ff1c1c" stroke="#dd0a0a" stroke-width="0.6"/>
<path d="M264.4 210.0L267.5 213.7L264.4 217.4L261.2 213.7Z" fill="#ff1c1c" stroke="#dd0a0a" stroke-width="0.6"/>
<path d="M261.8 216.0L264.9 219.7L261.8 223.4L258.7 219.7Z" fill="#ff1c1c" stroke="#dd0a0a" stroke-width="0.6"/>
<path d="M276.4 214.7L279.5 218.4L276.4 222.1L273.2 218.4Z" fill="#ff1c1c" stroke="#dd0a0a" stroke-width="0.6"/>
<path d="M291.1 220.0L294.2 223.7L291.1 227.4L288.0 223.7Z" fill="#ff1c1c" stroke="#dd0a0a" stroke-width="0.6"/>
<path d="M245.7 218.7L248.8 222.4L245.7 226.1L242.5 222.4Z" fill="#ff1c1c" stroke="#dd0a0a" stroke-width="0.6"/>
<path d="M196.3 215.3L199.5 219.0L196.3 222.7L193.2 219.0Z" fill="#ff1c1c" stroke="#dd0a0a" stroke-width="0.6"/>
<path d="M227.0 214.7L230.2 218.4L227.0 222.1L223.8 218.4Z" fill="#ff1c1c" stroke="#dd0a0a" stroke-width="0.6"/>
<path d="M216.4 208.3L219.6 212.0L216.4 215.7L213.2 212.0Z" fill="#ff1c1c" stroke="#dd0a0a" stroke-width="0.6"/>
<path d="M227.0 209.0L230.2 212.7L227.0 216.4L223.8 212.7Z" fill="#ff1c1c" stroke="#dd0a0a" stroke-width="0.6"/>
<path d="M239.7 208.3L242.8 212.0L239.7 215.7L236.5 212.0Z" fill="#ff1c1c" stroke="#dd0a0a" stroke-width="0.6"/>
<path d="M244.4 211.0L247.6 214.7L244.4 218.4L241.2 214.7Z" fill="#ff1c1c" stroke="#dd0a0a" stroke-width="0.6"/>
<path d="M249.7 210.3L252.8 214.0L249.7 217.7L246.5 214.0Z" fill="#ff1c1c" stroke="#dd0a0a" stroke-width="0.6"/>
<path d="M255.1 210.3L258.2 214.0L255.1 217.7L251.9 214.0Z" fill="#ff1c1c" stroke="#dd0a0a" stroke-width="0.6"/>
<path d="M260.4 210.3L263.5 214.0L260.4 217.7L257.2 214.0Z" fill="#ff1c1c" stroke="#dd0a0a" stroke-width="0.6"/>
<path d="M264.4 210.3L267.5 214.0L264.4 217.7L261.2 214.0Z" fill="#ff1c1c" stroke="#dd0a0a" stroke-width="0.6"/>
<path d="M246.4 219.0L249.6 222.7L246.4 226.4L243.2 222.7Z" fill="#ff1c1c" stroke="#dd0a0a" stroke-width="0.6"/>
<path d="M256.4 218.3L259.5 222.0L256.4 225.7L253.2 222.0Z" fill="#ff1c1c" stroke="#dd0a0a" stroke-width="0.6"/>
<path d="M261.8 216.3L264.9 220.0L261.8 223.7L258.7 220.0Z" fill="#ff1c1c" stroke="#dd0a0a" stroke-width="0.6"/>
<path d="M267.1 217.0L270.2 220.7L267.1 224.4L264.0 220.7Z" fill="#ff1c1c" stroke="#dd0a0a" stroke-width="0.6"/>
<path d="M276.4 215.6L279.5 219.3L276.4 223.0L273.2 219.3Z" fill="#ff1c1c" stroke="#dd0a0a" stroke-width="0.6"/>
<path d="M272.4 219.7L275.5 223.4L272.4 227.1L269.2 223.4Z" fill="#ff1c1c" stroke="#dd0a0a" stroke-width="0.6"/>
<path d="M277.1 227.7L280.2 231.4L277.1 235.1L274.0 231.4Z" fill="#ff1c1c" stroke="#dd0a0a" stroke-width="0.6"/>
<path d="M270.4 229.0L273.5 232.7L270.4 236.4L267.2 232.7Z" fill="#ff1c1c" stroke="#dd0a0a" stroke-width="0.6"/>
<path d="M244.4 230.3L247.6 234.0L244.4 237.7L241.2 234.0Z" fill="#ff1c1c" stroke="#dd0a0a" stroke-width="0.6"/>
<path d="M291.1 221.7L294.2 225.4L291.1 229.1L288.0 225.4Z" fill="#ff1c1c" stroke="#dd0a0a" stroke-width="0.6"/>
<path d="M225.7 223.7L228.8 227.4L225.7 231.1L222.5 227.4Z" fill="#ff1c1c" stroke="#dd0a0a" stroke-width="0.6"/>
<path d="M223.0 217.0L226.2 220.7L223.0 224.4L219.8 220.7Z" fill="#ff1c1c" stroke="#dd0a0a" stroke-width="0.6"/>
<path d="M201.0 225.0L204.2 228.7L201.0 232.4L197.8 228.7Z" fill="#ff1c1c" stroke="#dd0a0a" stroke-width="0.6"/>
<path d="M197.0 215.6L200.2 219.3L197.0 223.0L193.8 219.3Z" fill="#ff1c1c" stroke="#dd0a0a" stroke-width="0.6"/>
<rect x="114.8" y="87.6" width="4.5" height="4.5" fill="#22dd22" stroke="#14a314" stroke-width="0.6"/>
<rect x="143.3" y="99.4" width="4.5" height="4.5" fill="#22dd22" stroke="#14a314" stroke-width="0.6"/>
<rect x="158.5" y="78.0" width="4.5" height="4.5" fill="#22dd22" stroke="#14a314" stroke-width="0.6"/>
<rect x="130.2" y="100.1" width="4.5" height="4.5" fill="#22dd22" stroke="#14a314" stroke-width="0.6"/>
<rect x="118.3" y="77.1" width="4.5" height="4.5" fill="#22dd22" stroke="#14a314" stroke-width="0.6"/>
<rect x="141.3" y="97.8" width="4.5" height="4.5" fill="#22dd22" stroke="#14a314" stroke-width="0.6"/>
<rect x="161.0" y="96.6" width="4.5" height="4.5" fill="#22dd22" stroke="#14a314" stroke-width="0.6"/>
<rect x="167.4" y="89.5" width="4.5" height="4.5" fill="#22dd22" stroke="#14a314" stroke-width="0.6"/>
<rect x="123.3" y="90.7" width="4.5" height="4.5" fill="#22dd22" stroke="#14a314" stroke-width="0.6"/>
<rect x="127.5" y="98.0" width="4.5" height="4.5" fill="#22dd22" stroke="#14a314" stroke-width="0.6"/>
<rect x="148.7" y="90.6" width="4.5" height="4.5" fill="#22dd22" stroke="#14a314" stroke-width="0.6"/>
<rect x="161.2" y="91.9" width="4.5" height="4.5" fill="#22dd22" stroke="#14a314" stroke-width="0.6"/>
<rect x="128.8" y="85.5" width="4.5" height="4.5" fill="#22dd22" stroke="#14a314" stroke-width="0.6"/>
<rect x="122.5" y="102.4" width="4.5" height="4.5" fill="#22dd22" stroke="#14a314" stroke-width="0.6"/>
<rect x="168.8" y="90.6" width="4.5" height="4.5" fill="#22dd22" stroke="#14a314" stroke-width="0.6"/>
<rect x="144.7" y="79.0" width="4.5" height="4.5" fill="#22dd22" stroke="#14a314" stroke-width="0.6"/>
<rect x="142.4" y="89.9" width="4.5" height="4.5" fill="#22dd22" stroke="#14a314" stroke-width="0.6"/>
<rect x="168.9" y="90.3" width="4.5" height="4.5" fill="#22dd22" stroke="#14a314" stroke-width="0.6"/>
<rect x="134.2" y="100.6" width="4.5" height="4.5" fill="#22dd22" stroke="#14a314" stroke-width="0.6"/>
<rect x="144.1" y="89.4" width="4.5" height="4.5" fill="#22dd22" stroke="#14a314" stroke-width="0.6"/>
<rect x="142.6" y="86.6" width="4.5" height="4.5" fill="#22dd22" stroke="#14a314" stroke-width="0.6"/>
<rect x="126.2" y="88.8" width="4.5" height="4.5" fill="#22dd22" stroke="#14a314" stroke-width="0.6"/>
<rect x="117.5" y="87.4" width="4.5" height="4.5" fill="#22dd22" stroke="#14a314" stroke-width="0.6"/>
<rect x="138.8" y="83.2" width="4.5" height="4.5" fill="#22dd22" stroke="#14a314" stroke-width="0.6"/>
<rect x="121.4" y="94.0" width="4.5" height="4.5" fill="#22dd22" stroke="#14a314" stroke-width="0.6"/>
<rect x="166.2" y="76.4" width="4.5" height="4.5" fill="#22dd22" stroke="#14a314" stroke-width="0.6"/>
<rect x="121.6" y="79.9" width="4.5" height="4.5" fill="#22dd22" stroke="#14a314" stroke-width="0.6"/>
<rect x="151.7" y="83.3" width="4.5" height="4.5" fill="#22dd22" stroke="#14a314" stroke-width="0.6"/>
<rect x="131.4" y="94.1" width="4.5" height="4.5" fill="#22dd22" stroke="#14a314" stroke-width="0.6"/>
<rect x="116.1" y="98.1" width="4.5" height="4.5" fill="#22dd22" stroke="#14a314" stroke-width="0.6"/>
<rect x="117.2" y="90.1" width="4.5" height="4.5" fill="#22dd22" stroke="#14a314" stroke-width="0.6"/>
<rect x="125.0" y="78.9" width="4.5" height="4.5" fill="#22dd22" stroke="#14a314" stroke-width="0.6"/>
<rect x="142.1" y="87.5" width="4.5" height="4.5" fill="#22dd22" stroke="#14a314" stroke-width="0.6"/>
<rect x="132.7" y="86.6" width="4.5" height="4.5" fill="#22dd22" stroke="#14a314" stroke-width="0.6"/>
<rect x="142.0" y="77.5" width="4.5" height="4.5" fill="#22dd22" stroke="#14a314" stroke-width="0.6"/>
<rect x="122.2" y="94.5" width="4.5" height="4.5" fill="#22dd22" stroke="#14a314" stroke-width="0.6"/>
<rect x="148.7" y="90.8" width="4.5" height="4.5" fill="#22dd22" stroke="#14a314" stroke-width="0.6"/>
<rect x="161.7" y="93.8" width="4.5" height="4.5" fill="#22dd22" stroke="#14a314" stroke-width="0.6"/>
<rect x="162.0" y="80.1" width="4.5" height="4.5" fill="#22dd22" stroke="#14a314" stroke-width="0.6"/>
<rect x="154.9" y="100.9" width="4.5" height="4.5" fill="#22dd22" stroke="#14a314" stroke-width="0.6"/>
<rect x="164.8" y="83.1" width="4.5" height="4.5" fill="#22dd22" stroke="#14a314" stroke-width="0.6"/>
<rect x="129.0" y="105.0" width="4.5" height="4.5" fill="#22dd22" stroke="#14a314" stroke-width="0.6"/>
<rect x="163.9" y="76.6" width="4.5" height="4.5" fill="#22dd22" stroke="#14a314" stroke-width="0.6"/>
<rect x="124.4" y="97.9" width="4.5" height="4.5" fill="#22dd22" stroke="#14a314" stroke-width="0.6"/>
<rect x="125.6" y="75.2" width="4.5" height="4.5" fill="#22dd22" stroke="#14a314" stroke-width="0.6"/>
<rect x="160.5" y="86.9" width="4.5" height="4.5" fill="#22dd22" stroke="#14a314" stroke-width="0.6"/>
<rect x="157.9" y="76.3" width="4.5" height="4.5" fill="#22dd22" stroke="#14a314" stroke-width="0.6"/>
<rect x="134.3" y="96.4" width="4.5" height="4.5" fill="#22dd22" stroke="#14a314" stroke-width="0.6"/>
<rect x="168.8" y="75.9" width="4.5" height="4.5" fill="#22dd22" stroke="#14a314" stroke-width="0.6"/>
<rect x="140.6" y="99.0" width="4.5" height="4.5" fill="#22dd22" stroke="#14a314" stroke-width="0.6"/>
<rect x="140.4" y="96.4" width="4.5" height="4.5" fill="#22dd22" stroke="#14a314" stroke-width="0.6"/>
<rect x="121.3" y="74.3" width="4.5" height="4.5" fill="#22dd22" stroke="#14a314" stroke-width="0.6"/>
<rect x="143.4" y="90.3" width="4.5" height="4.5" fill="#22dd22" stroke="#14a314" stroke-width="0.6"/>
<rect x="144.4" y="77.0" width="4.5" height="4.5" fill="#22dd22" stroke="#14a314" stroke-width="0.6"/>
<rect x="121.0" y="79.1" width="4.5" height="4.5" fill="#22dd22" stroke="#14a314" stroke-width="0.6"/>
<rect x="166.3" y="75.2" width="4.5" height="4.5" fill="#22dd22" stroke="#14a314" stroke-width="0.6"/>
<rect x="137.9" y="99.3" width="4.5" height="4.5" fill="#22dd22" stroke="#14a314" stroke-width="0.6"/>
<rect x="129.7" y="88.6" width="4.5" height="4.5" fill="#22dd22" stroke="#14a314" stroke-width="0.6"/>
<rect x="141.2" y="87.2" width="4.5" height="4.5" fill="#22dd22" stroke="#14a314" stroke-width="0.6"/>
<rect x="152.5" y="102.1" width="4.5" height="4.5" fill="#22dd22" stroke="#14a314" stroke-width="0.6"/>
<rect x="120.8" y="88.1" width="4.5" height="4.5" fill="#22dd22" stroke="#14a314" stroke-width="0.6"/>
<rect x="154.8" y="86.3" width="4.5" height="4.5" fill="#22dd22" stroke="#14a314" stroke-width="0.6"/>
<rect x="121.7" y="77.7" width="4.5" height="4.5" fill="#22dd22" stroke="#14a314" stroke-width="0.6"/>
<rect x="164.2" y="100.6" width="4.5" height="4.5" fill="#22dd22" stroke="#14a314" stroke-width="0.6"/>
<rect x="152.7" y="102.7" width="4.5" height="4.5" fill="#22dd22" stroke="#14a314" stroke-width="0.6"/>
<rect x="148.1" y="86.3" width="4.5" height="4.5" fill="#22dd22" stroke="#14a314" stroke-width="0.6"/>
<rect x="146.3" y="89.9" width="4.5" height="4.5" fill="#22dd22" stroke="#14a314" stroke-width="0.6"/>
<rect x="125.5" y="104.6" width="4.5" height="4.5" fill="#22dd22" stroke="#14a314" stroke-width="0.6"/>
<rect x="155.2" y="99.8" width="4.5" height="4.5" fill="#22dd22" stroke="#14a314" stroke-width="0.6"/>
<rect x="159.4" y="86.4" width="4.5" height="4.5" fill="#22dd22" stroke="#14a314" stroke-width="0.6"/>
<rect x="152.1" y="99.4" width="4.5" height="4.5" fill="#22dd22" stroke="#14a314" stroke-width="0.6"/>
<rect x="156.4" y="86.4" width="4.5" height="4.5" fill="#22dd22" stroke="#14a314" stroke-width="0.6"/>
<rect x="130.6" y="88.6" width="4.5" height="4.5" fill="#22dd22" stroke="#14a314" stroke-width="0.6"/>
<rect x="110.4" y="84.6" width="4.5" height="4.5" fill="#22dd22" stroke="#14a314" stroke-width="0.6"/>
<rect x="148.7" y="94.2" width="4.5" height="4.5" fill="#22dd22" stroke="#14a314" stroke-width="0.6"/>
<rect x="123.9" y="105.8" width="4.5" height="4.5" fill="#22dd22" stroke="#14a314" stroke-width="0.6"/>
<rect x="150.4" y="83.9" width="4.5" height="4.5" fill="#22dd22" stroke="#14a314" stroke-width="0.6"/>
<rect x="150.0" y="92.3" width="4.5" height="4.5" fill="#22dd22" stroke="#14a314" stroke-width="0.6"/>
<rect x="142.3" y="85.8" width="4.5" height="4.5" fill="#22dd22" stroke="#14a314" stroke-width="0.6"/>
<rect x="170.7" y="94.9" width="4.5" height="4.5" fill="#22dd22" stroke="#14a314" stroke-width="0.6"/>
<rect x="152.5" y="99.2" width="4.5" height="4.5" fill="#22dd22" stroke="#14a314" stroke-width="0.6"/>
<rect x="147.3" y="98.3" width="4.5" height="4.5" fill="#22dd22" stroke="#14a314" stroke-width="0.6"/>
<rect x="125.4" y="86.2" width="4.5" height="4.5" fill="#22dd22" stroke="#14a314" stroke-width="0.6"/>
<rect x="112.8" y="78.8" width="4.5" height="4.5" fill="#22dd22" stroke="#14a314" stroke-width="0.6"/>
<rect x="132.7" y="75.3" width="4.5" height="4.5" fill="#22dd22" stroke="#14a314" stroke-width="0.6"/>
<rect x="125.1" y="104.4" width="4.5" height="4.5" fill="#22dd22" stroke="#14a314" stroke-width="0.6"/>
<rect x="143.3" y="90.0" width="4.5" height="4.5" fill="#22dd22" stroke="#14a314" stroke-width="0.6"/>
<rect x="168.7" y="92.2" width="4.5" height="4.5" fill="#22dd22" stroke="#14a314" stroke-width="0.6"/>
<rect x="170.5" y="94.7" width="4.5" height="4.5" fill="#22dd22" stroke="#14a314" stroke-width="0.6"/>
<rect x="146.2" y="99.1" width="4.5" height="4.5" fill="#22dd22" stroke="#14a314" stroke-width="0.6"/>
<rect x="119.5" y="88.7" width="4.5" height="4.5" fill="#22dd22" stroke="#14a314" stroke-width="0.6"/>
<rect x="120.1" y="89.6" width="4.5" height="4.5" fill="#22dd22" stroke="#14a314" stroke-width="0.6"/>
<rect x="147.0" y="73.9" width="4.5" height="4.5" fill="#22dd22" stroke="#14a314" stroke-width="0.6"/>
<rect x="167.4" y="86.9" width="4.5" height="4.5" fill="#22dd22" stroke="#14a314" stroke-width="0.6"/>
<rect x="141.9" y="93.3" width="4.5" height="4.5" fill="#22dd22" stroke="#14a314" stroke-width="0.6"/>
<rect x="132.1" y="82.0" width="4.5" height="4.5" fill="#22dd22" stroke="#14a314" stroke-width="0.6"/>
<rect x="149.7" y="91.9" width="4.5" height="4.5" fill="#22dd22" stroke="#14a314" stroke-width="0.6"/>
<rect x="127.0" y="97.5" width="4.5" height="4.5" fill="#22dd22" stroke="#14a314" stroke-width="0.6"/>
<rect x="127.8" y="72.3" width="4.5" height="4.5" fill="#22dd22" stroke="#14a314" stroke-width="0.6"/>
<rect x="124.7" y="73.3" width="4.5" height="4.5" fill="#22dd22" stroke="#14a314" stroke-width="0.6"/>
<rect x="119.3" y="98.9" width="4.5" height="4.5" fill="#22dd22" stroke="#14a314" stroke-width="0.6"/>
<rect x="133.5" y="104.1" width="4.5" height="4.5" fill="#22dd22" stroke="#14a314" stroke-width="0.6"/>
<rect x="136.0" y="88.9" width="4.5" height="4.5" fill="#22dd22" stroke="#14a314" stroke-width="0.6"/>
<rect x="169.1" y="80.5" width="4.5" height="4.5" fill="#22dd22" stroke="#14a314" stroke-width="0.6"/>
<rect x="141.7" y="105.5" width="4.5" height="4.5" fill="#22dd22" stroke="#14a314" stroke-width="0.6"/>
<rect x="153.8" y="88.6" width="4.5" height="4.5" fill="#22dd22" stroke="#14a314" stroke-width="0.6"/>
<rect x="146.6" y="75.9" width="4.5" height="4.5" fill="#22dd22" stroke="#14a314" stroke-width="0.6"/>
<rect x="147.8" y="88.2" width="4.5" height="4.5" fill="#22dd22" stroke="#14a314" stroke-width="0.6"/>
<rect x="122.2" y="73.6" width="4.5" height="4.5" fill="#22dd22" stroke="#14a314" stroke-width="0.6"/>
<rect x="142.0" y="76.2" width="4.5" height="4.5" fill="#22dd22" stroke="#14a314" stroke-width="0.6"/>
<rect x="136.8" y="95.8" width="4.5" height="4.5" fill="#22dd22" stroke="#14a314" stroke-width="0.6"/>
<rect x="137.5" y="81.2" width="4.5" height="4.5" fill="#22dd22" stroke="#14a314" stroke-width="0.6"/>
<rect x="145.3" y="86.9" width="4.5" height="4.5" fill="#22dd22" stroke="#14a314" stroke-width="0.6"/>
<rect x="157.2" y="90.9" width="4.5" height="4.5" fill="#22dd22" stroke="#14a314" stroke-width="0.6"/>
<rect x="154.5" y="80.3" width="4.5" height="4.5" fill="#22dd22" stroke="#14a314" stroke-width="0.6"/>
<rect x="157.6" y="94.2" width="4.5" height="4.5" fill="#22dd22" stroke="#14a314" stroke-width="0.6"/>
<rect x="131.7" y="81.5" width="4.5" height="4.5" fill="#22dd22" stroke="#14a314" stroke-width="0.6"/>
<rect x="151.5" y="92.1" width="4.5" height="4.5" fill="#22dd22" stroke="#14a314" stroke-width="0.6"/>
<rect x="145.8" y="94.5" width="4.5" height="4.5" fill="#22dd22" stroke="#14a314" stroke-width="0.6"/>
<rect x="155.7" y="78.6" width="4.5" height="4.5" fill="#22dd22" stroke="#14a314" stroke-width="0.6"/>
<rect x="124.9" y="107.0" width="4.5" height="4.5" fill="#22dd22" stroke="#14a314" stroke-width="0.6"/>
<rect x="126.3" y="87.1" width="4.5" height="4.5" fill="#22dd22" stroke="#14a314" stroke-width="0.6"/>
<rect x="147.8" y="75.4" width="4.5" height="4.5" fill="#22dd22" stroke="#14a314" stroke-width="0.6"/>
<rect x="142.8" y="74.4" width="4.5" height="4.5" fill="#22dd22" stroke="#14a314" stroke-width="0.6"/>
<rect x="115.0" y="96.1" width="4.5" height="4.5" fill="#22dd22" stroke="#14a314" stroke-width="0.6"/>
<rect x="143.3" y="94.5" width="4.5" height="4.5" fill="#22dd22" stroke="#14a314" stroke-width="0.6"/>
<rect x="132.5" y="89.0" width="4.5" height="4.5" fill="#22dd22" stroke="#14a314" stroke-width="0.6"/>
<rect x="122.6" y="84.1" width="4.5" height="4.5" fill="#22dd22" stroke="#14a314" stroke-width="0.6"/>
<rect x="155.2" y="101.9" width="4.5" height="4.5" fill="#22dd22" stroke="#14a314" stroke-width="0.6"/>
<rect x="114.3" y="76.1" width="4.5" height="4.5" fill="#22dd22" stroke="#14a314" stroke-width="0.6"/>
<rect x="159.1" y="94.2" width="4.5" height="4.5" fill="#22dd22" stroke="#14a314" stroke-width="0.6"/>
<rect x="156.6" y="79.4" width="4.5" height="4.5" fill="#22dd22" stroke="#14a314" stroke-width="0.6"/>
<rect x="135.6" y="81.0" width="4.5" height="4.5" fill="#22dd22" stroke="#14a314" stroke-width="0.6"/>
<rect x="159.2" y="85.0" width="4.5" height="4.5" fill="#22dd22" stroke="#14a314" stroke-width="0.6"/>
<rect x="129.6" y="91.5" width="4.5" height="4.5" fill="#22dd22" stroke="#14a314" stroke-width="0.6"/>
<rect x="135.8" y="85.0" width="4.5" height="4.5" fill="#22dd22" stroke="#14a314" stroke-width="0.6"/>
<rect x="144.2" y="89.2" width="4.5" height="4.5" fill="#22dd22" stroke="#14a314" stroke-width="0.6"/>
<rect x="151.6" y="82.5" width="4.5" height="4.5" fill="#22dd22" stroke="#14a314" stroke-width="0.6"/>
<rect x="122.8" y="95.6" width="4.5" height="4.5" fill="#22dd22" stroke="#14a314" stroke-width="0.6"/>
<rect x="114.7" y="82.7" width="4.5" height="4.5" fill="#22dd22" stroke="#14a314" stroke-width="0.6"/>
<rect x="154.0" y="96.7" width="4.5" height="4.5" fill="#22dd22" stroke="#14a314" stroke-width="0.6"/>
<rect x="127.0" y="76.9" width="4.5" height="4.5" fill="#22dd22" stroke="#14a314" stroke-width="0.6"/>
<rect x="131.6" y="97.9" width="4.5" height="4.5" fill="#22dd22" stroke="#14a314" stroke-width="0.6"/>
<rect x="132.1" y="76.0" width="4.5" height="4.5" fill="#22dd22" stroke="#14a314" stroke-width="0.6"/>
<rect x="153.0" y="92.2" width="4.5" height="4.5" fill="#22dd22" stroke="#14a314" stroke-width="0.6"/>
<rect x="165.5" y="87.5" width="4.5" height="4.5" fill="#22dd22" stroke="#14a314" stroke-width="0.6"/>
<rect x="158.7" y="82.7" width="4.5" height="4.5" fill="#22dd22" stroke="#14a314" stroke-width="0.6"/>
<rect x="129.1" y="86.1" width="4.5" height="4.5" fill="#22dd22" stroke="#14a314" stroke-width="0.6"/>
<rect x="124.9" y="84.8" width="4.5" height="4.5" fill="#22dd22" stroke="#14a314" stroke-width="0.6"/>
<rect x="132.0" y="84.8" width="4.5" height="4.5" fill="#22dd22" stroke="#14a314" stroke-width="0.6"/>
<rect x="133.9" y="85.7" width="4.5" height="4.5" fill="#22dd22" stroke="#14a314" stroke-width="0.6"/>
<rect x="121.6" y="92.0" width="4.5" height="4.5" fill="#22dd22" stroke="#14a314" stroke-width="0.6"/>
<rect x="158.4" y="91.2" width="4.5" height="4.5" fill="#22dd22" stroke="#14a314" stroke-width="0.6"/>
<rect x="160.8" y="92.0" width="4.5" height="4.5" fill="#22dd22" stroke="#14a314" stroke-width="0.6"/>
<rect x="120.5" y="99.1" width="4.5" height="4.5" fill="#22dd22" stroke="#14a314" stroke-width="0.6"/>
<rect x="163.5" y="81.9" width="4.5" height="4.5" fill="#22dd22" stroke="#14a314" stroke-width="0.6"/>
<rect x="111.1" y="90.3" width="4.5" height="4.5" fill="#22dd22" stroke="#14a314" stroke-width="0.6"/>
<rect x="142.9" y="92.2" width="4.5" height="4.5" fill="#22dd22" stroke="#14a314" stroke-width="0.6"/>
<rect x="168.7" y="95.2" width="4.5" height="4.5" fill="#22dd22" stroke="#14a314" stroke-width="0.6"/>
<rect x="143.1" y="100.1" width="4.5" height="4.5" fill="#22dd22" stroke="#14a314" stroke-width="0.6"/>
<rect x="114.9" y="94.6" width="4.5" height="4.5" fill="#22dd22" stroke="#14a314" stroke-width="0.6"/>
<rect x="118.5" y="98.6" width="4.5" height="4.5" fill="#22dd22" stroke="#14a314" stroke-width="0.6"/>
<rect x="149.3" y="80.6" width="4.5" height="4.5" fill="#22dd22" stroke="#14a314" stroke-width="0.6"/>
<rect x="123.2" y="99.3" width="4.5" height="4.5" fill="#22dd22" stroke="#14a314" stroke-width="0.6"/>
<rect x="141.6" y="99.3" width="4.5" height="4.5" fill="#22dd22" stroke="#14a314" stroke-width="0.6"/>
<rect x="133.8" y="83.9" width="4.5" height="4.5" fill="#22dd22" stroke="#14a314" stroke-width="0.6"/>
<rect x="168.8" y="96.0" width="4.5" height="4.5" fill="#22dd22" stroke="#14a314" stroke-width="0.6"/>
<rect x="139.9" y="91.1" width="4.5" height="4.5" fill="#22dd22" stroke="#14a314" stroke-width="0.6"/>
<rect x="153.7" y="97.2" width="4.5" height="4.5" fill="#22dd22" stroke="#14a314" stroke-width="0.6"/>
<rect x="165.6" y="86.5" width="4.5" height="4.5" fill="#22dd22" stroke="#14a314" stroke-width="0.6"/>
<rect x="160.2" y="95.8" width="4.5" height="4.5" fill="#22dd22" stroke="#14a314" stroke-width="0.6"/>
<rect x="161.8" y="100.8" width="4.5" height="4.5" fill="#22dd22" stroke="#14a314" stroke-width="0.6"/>
<rect x="168.2" y="94.8" width="4.5" height="4.5" fill="#22dd22" stroke="#14a314" stroke-width="0.6"/>
<rect x="141.7" y="97.3" width="4.5" height="4.5" fill="#22dd22" stroke="#14a314" stroke-width="0.6"/>
<rect x="158.7" y="86.9" width="4.5" height="4.5" fill="#22dd22" stroke="#14a314" stroke-width="0.6"/>
<rect x="135.4" y="77.0" width="4.5" height="4.5" fill="#22dd22" stroke="#14a314" stroke-width="0.6"/>
<rect x="132.7" y="77.8" width="4.5" height="4.5" fill="#22dd22" stroke="#14a314" stroke-width="0.6"/>
<rect x="122.2" y="87.0" width="4.5" height="4.5" fill="#22dd22" stroke="#14a314" stroke-width="0.6"/>
<rect x="127.6" y="106.7" width="4.5" height="4.5" fill="#22dd22" stroke="#14a314" stroke-width="0.6"/>
<rect x="113.4" y="82.9" width="4.5" height="4.5" fill="#22dd22" stroke="#14a314" stroke-width="0.6"/>
<rect x="116.8" y="95.1" width="4.5" height="4.5" fill="#22dd22" stroke="#14a314" stroke-width="0.6"/>
<rect x="157.1" y="78.2" width="4.5" height="4.5" fill="#22dd22" stroke="#14a314" stroke-width="0.6"/>
<rect x="113.6" y="88.3" width="4.5" height="4.5" fill="#22dd22" stroke="#14a314" stroke-width="0.6"/>
<rect x="145.4" y="104.5" width="4.5" height="4.5" fill="#22dd22" stroke="#14a314" stroke-width="0.6"/>
<rect x="121.0" y="79.6" width="4.5" height="4.5" fill="#22dd22" stroke="#14a314" stroke-width="0.6"/>
<rect x="124.1" y="97.6" width="4.5" height="4.5" fill="#22dd22" stroke="#14a314" stroke-width="0.6"/>
<rect x="146.0" y="79.8" width="4.5" height="4.5" fill="#22dd22" stroke="#14a314" stroke-width="0.6"/>
<rect x="121.0" y="81.9" width="4.5" height="4.5" fill="#22dd22" stroke="#14a314" stroke-width="0.6"/>
<rect x="120.3" y="99.0" width="4.5" height="4.5" fill="#22dd22" stroke="#14a314" stroke-width="0.6"/>
<rect x="128.8" y="91.5" width="4.5" height="4.5" fill="#22dd22" stroke="#14a314" stroke-width="0.6"/>
<rect x="159.6" y="89.0" width="4.5" height="4.5" fill="#22dd22" stroke="#14a314" stroke-width="0.6"/>
<rect x="125.6" y="103.7" width="4.5" height="4.5" fill="#22dd22" stroke="#14a314" stroke-width="0.6"/>
<rect x="165.5" y="84.1" width="4.5" height="4.5" fill="#22dd22" stroke="#14a314" stroke-width="0.6"/>
<rect x="143.1" y="106.2" width="4.5" height="4.5" fill="#22dd22" stroke="#14a314" stroke-width="0.6"/>
<rect x="139.2" y="79.7" width="4.5" height="4.5" fill="#22dd22" stroke="#14a314" stroke-width="0.6"/>
<rect x="158.6" y="85.6" width="4.5" height="4.5" fill="#22dd22" stroke="#14a314" stroke-width="0.6"/>
<rect x="141.9" y="90.3" width="4.5" height="4.5" fill="#22dd22" stroke="#14a314" stroke-width="0.6"/>
<rect x="126.5" y="107.4" width="4.5" height="4.5" fill="#22dd22" stroke="#14a314" stroke-width="0.6"/>
<rect x="149.9" y="80.3" width="4.5" height="4.5" fill="#22dd22" stroke="#14a314" stroke-width="0.6"/>
<rect x="110.4" y="88.8" width="4.5" height="4.5" fill="#22dd22" stroke="#14a314" stroke-width="0.6"/>
<rect x="197.1" y="95.9" width="4.5" height="4.5" fill="#22dd22" stroke="#14a314" stroke-width="0.6"/>
<rect x="214.8" y="90.3" width="4.5" height="4.5" fill="#22dd22" stroke="#14a314" stroke-width="0.6"/>
<rect x="194.5" y="80.3" width="4.5" height="4.5" fill="#22dd22" stroke="#14a314" stroke-width="0.6"/>
<rect x="223.0" y="87.7" width="4.5" height="4.5" fill="#22dd22" stroke="#14a314" stroke-width="0.6"/>
<rect x="191.6" y="88.3" width="4.5" height="4.5" fill="#22dd22" stroke="#14a314" stroke-width="0.6"/>
<rect x="185.6" y="95.1" width="4.5" height="4.5" fill="#22dd22" stroke="#14a314" stroke-width="0.6"/>
<rect x="221.8" y="96.6" width="4.5" height="4.5" fill="#22dd22" stroke="#14a314" stroke-width="0.6"/>
<rect x="215.0" y="75.6" width="4.5" height="4.5" fill="#22dd22" stroke="#14a314" stroke-width="0.6"/>
<rect x="202.7" y="86.3" width="4.5" height="4.5" fill="#22dd22" stroke="#14a314" stroke-width="0.6"/>
<rect x="227.4" y="89.8" width="4.5" height="4.5" fill="#22dd22" stroke="#14a314" stroke-width="0.6"/>
<rect x="222.3" y="81.6" width="4.5" height="4.5" fill="#22dd22" stroke="#14a314" stroke-width="0.6"/>
<rect x="218.8" y="84.8" width="4.5" height="4.5" fill="#22dd22" stroke="#14a314" stroke-width="0.6"/>
<rect x="220.7" y="78.8" width="4.5" height="4.5" fill="#22dd22" stroke="#14a314" stroke-width="0.6"/>
<rect x="206.0" y="88.0" width="4.5" height="4.5" fill="#22dd22" stroke="#14a314" stroke-width="0.6"/>
<rect x="185.9" y="96.9" width="4.5" height="4.5" fill="#22dd22" stroke="#14a314" stroke-width="0.6"/>
<rect x="193.9" y="81.8" width="4.5" height="4.5" fill="#22dd22" stroke="#14a314" stroke-width="0.6"/>
<rect x="202.0" y="93.5" width="4.5" height="4.5" fill="#22dd22" stroke="#14a314" stroke-width="0.6"/>
<rect x="196.5" y="92.7" width="4.5" height="4.5" fill="#22dd22" stroke="#14a314" stroke-width="0.6"/>
<rect x="183.2" y="84.2" width="4.5" height="4.5" fill="#22dd22" stroke="#14a314" stroke-width="0.6"/>
<rect x="220.9" y="91.7" width="4.5" height="4.5" fill="#22dd22" stroke="#14a314" stroke-width="0.6"/>
<rect x="214.7" y="79.6" width="4.5" height="4.5" fill="#22dd22" stroke="#14a314" stroke-width="0.6"/>
<rect x="207.1" y="86.0" width="4.5" height="4.5" fill="#22dd22" stroke="#14a314" stroke-width="0.6"/>
<rect x="219.3" y="78.7" width="4.5" height="4.5" fill="#22dd22" stroke="#14a314" stroke-width="0.6"/>
<rect x="209.8" y="81.2" width="4.5" height="4.5" fill="#22dd22" stroke="#14a314" stroke-width="0.6"/>
<rect x="197.3" y="88.4" width="4.5" height="4.5" fill="#22dd22" stroke="#14a314" stroke-width="0.6"/>
<rect x="193.3" y="82.5" width="4.5" height="4.5" fill="#22dd22" stroke="#14a314" stroke-width="0.6"/>
<rect x="198.1" y="92.1" width="4.5" height="4.5" fill="#22dd22" stroke="#14a314" stroke-width="0.6"/>
<rect x="191.1" y="78.5" width="4.5" height="4.5" fill="#22dd22" stroke="#14a314" stroke-width="0.6"/>
<rect x="215.8" y="82.3" width="4.5" height="4.5" fill="#22dd22" stroke="#14a314" stroke-width="0.6"/>
<rect x="226.9" y="89.1" width="4.5" height="4.5" fill="#22dd22" stroke="#14a314" stroke-width="0.6"/>
<rect x="215.4" y="82.4" width="4.5" height="4.5" fill="#22dd22" stroke="#14a314" stroke-width="0.6"/>
<rect x="220.7" y="75.4" width="4.5" height="4.5" fill="#22dd22" stroke="#14a314" stroke-width="0.6"/>
<rect x="213.0" y="93.3" width="4.5" height="4.5" fill="#22dd22" stroke="#14a314" stroke-width="0.6"/>
<rect x="187.1" y="84.4" width="4.5" height="4.5" fill="#22dd22" stroke="#14a314" stroke-width="0.6"/>
<rect x="221.3" y="89.9" width="4.5" height="4.5" fill="#22dd22" stroke="#14a314" stroke-width="0.6"/>
<rect x="198.9" y="74.9" width="4.5" height="4.5" fill="#22dd22" stroke="#14a314" stroke-width="0.6"/>
<rect x="225.6" y="85.1" width="4.5" height="4.5" fill="#22dd22" stroke="#14a314" stroke-width="0.6"/>
<rect x="204.4" y="91.5" width="4.5" height="4.5" fill="#22dd22" stroke="#14a314" stroke-width="0.6"/>
<rect x="217.6" y="96.6" width="4.5" height="4.5" fill="#22dd22" stroke="#14a314" stroke-width="0.6"/>
<rect x="197.8" y="82.4" width="4.5" height="4.5" fill="#22dd22" stroke="#14a314" stroke-width="0.6"/>
<rect x="198.6" y="93.0" width="4.5" height="4.5" fill="#22dd22" stroke="#14a314" stroke-width="0.6"/>
<rect x="212.1" y="90.4" width="4.5" height="4.5" fill="#22dd22" stroke="#14a314" stroke-width="0.6"/>
<rect x="195.5" y="91.6" width="4.5" height="4.5" fill="#22dd22" stroke="#14a314" stroke-width="0.6"/>
<rect x="183.3" y="83.7" width="4.5" height="4.5" fill="#22dd22" stroke="#14a314" stroke-width="0.6"/>
<rect x="204.2" y="95.6" width="4.5" height="4.5" fill="#22dd22" stroke="#14a314" stroke-width="0.6"/>
<rect x="165.0" y="230.7" width="4.5" height="4.5" fill="#22dd22" stroke="#14a314" stroke-width="0.6"/>
<rect x="127.6" y="237.5" width="4.5" height="4.5" fill="#22dd22" stroke="#14a314" stroke-width="0.6"/>
<rect x="169.3" y="227.9" width="4.5" height="4.5" fill="#22dd22" stroke="#14a314" stroke-width="0.6"/>
<rect x="138.5" y="225.8" width="4.5" height="4.5" fill="#22dd22" stroke="#14a314" stroke-width="0.6"/>
<rect x="126.7" y="235.1" width="4.5" height="4.5" fill="#22dd22" stroke="#14a314" stroke-width="0.6"/>
<rect x="129.8" y="245.3" width="4.5" height="4.5" fill="#22dd22" stroke="#14a314" stroke-width="0.6"/>
<rect x="151.0" y="234.4" width="4.5" height="4.5" fill="#22dd22" stroke="#14a314" stroke-width="0.6"/>
<rect x="137.2" y="244.6" width="4.5" height="4.5" fill="#22dd22" stroke="#14a314" stroke-width="0.6"/>
<rect x="139.0" y="224.1" width="4.5" height="4.5" fill="#22dd22" stroke="#14a314" stroke-width="0.6"/>
<rect x="125.7" y="246.6" width="4.5" height="4.5" fill="#22dd22" stroke="#14a314" stroke-width="0.6"/>
<rect x="126.3" y="243.5" width="4.5" height="4.5" fill="#22dd22" stroke="#14a314" stroke-width="0.6"/>
<rect x="149.2" y="228.4" width="4.5" height="4.5" fill="#22dd22" stroke="#14a314" stroke-width="0.6"/>
<rect x="150.1" y="215.4" width="4.5" height="4.5" fill="#22dd22" stroke="#14a314" stroke-width="0.6"/>
<rect x="164.5" y="230.2" width="4.5" height="4.5" fill="#22dd22" stroke="#14a314" stroke-width="0.6"/>
<rect x="125.6" y="240.0" width="4.5" height="4.5" fill="#22dd22" stroke="#14a314" stroke-width="0.6"/>
<rect x="134.9" y="243.2" width="4.5" height="4.5" fill="#22dd22" stroke="#14a314" stroke-width="0.6"/>
<rect x="132.2" y="229.0" width="4.5" height="4.5" fill="#22dd22" stroke="#14a314" stroke-width="0.6"/>
<rect x="165.3" y="211.9" width="4.5" height="4.5" fill="#22dd22" stroke="#14a314" stroke-width="0.6"/>
<rect x="155.6" y="217.3" width="4.5" height="4.5" fill="#22dd22" stroke="#14a314" stroke-width="0.6"/>
<rect x="156.3" y="236.2" width="4.5" height="4.5" fill="#22dd22" stroke="#14a314" stroke-width="0.6"/>
<rect x="140.1" y="229.8" width="4.5" height="4.5" fill="#22dd22" stroke="#14a314" stroke-width="0.6"/>
<rect x="129.9" y="224.3" width="4.5" height="4.5" fill="#22dd22" stroke="#14a314" stroke-width="0.6"/>
<rect x="126.8" y="220.8" width="4.5" height="4.5" fill="#22dd22" stroke="#14a314" stroke-width="0.6"/>
<rect x="147.9" y="215.4" width="4.5" height="4.5" fill="#22dd22" stroke="#14a314" stroke-width="0.6"/>
<rect x="150.6" y="218.4" width="4.5" height="4.5" fill="#22dd22" stroke="#14a314" stroke-width="0.6"/>
<rect x="145.1" y="221.9" width="4.5" height="4.5" fill="#22dd22" stroke="#14a314" stroke-width="0.6"/>
<rect x="153.7" y="234.1" width="4.5" height="4.5" fill="#22dd22" stroke="#14a314" stroke-width="0.6"/>
<rect x="141.7" y="222.8" width="4.5" height="4.5" fill="#22dd22" stroke="#14a314" stroke-width="0.6"/>
<rect x="148.2" y="226.9" width="4.5" height="4.5" fill="#22dd22" stroke="#14a314" stroke-width="0.6"/>
<rect x="159.7" y="230.0" width="4.5" height="4.5" fill="#22dd22" stroke="#14a314" stroke-width="0.6"/>
<rect x="160.9" y="217.2" width="4.5" height="4.5" fill="#22dd22" stroke="#14a314" stroke-width="0.6"/>
<rect x="125.7" y="223.4" width="4.5" height="4.5" fill="#22dd22" stroke="#14a314" stroke-width="0.6"/>
<rect x="146.9" y="221.2" width="4.5" height="4.5" fill="#22dd22" stroke="#14a314" stroke-width="0.6"/>
<rect x="121.7" y="234.3" width="4.5" height="4.5" fill="#22dd22" stroke="#14a314" stroke-width="0.6"/>
<rect x="148.2" y="214.3" width="4.5" height="4.5" fill="#22dd22" stroke="#14a314" stroke-width="0.6"/>
<rect x="135.9" y="221.2" width="4.5" height="4.5" fill="#22dd22" stroke="#14a314" stroke-width="0.6"/>
<rect x="142.3" y="239.2" width="4.5" height="4.5" fill="#22dd22" stroke="#14a314" stroke-width="0.6"/>
<rect x="131.2" y="236.6" width="4.5" height="4.5" fill="#22dd22" stroke="#14a314" stroke-width="0.6"/>
<rect x="124.3" y="238.6" width="4.5" height="4.5" fill="#22dd22" stroke="#14a314" stroke-width="0.6"/>
<rect x="125.7" y="227.4" width="4.5" height="4.5" fill="#22dd22" stroke="#14a314" stroke-width="0.6"/>
<rect x="132.4" y="216.9" width="4.5" height="4.5" fill="#22dd22" stroke="#14a314" stroke-width="0.6"/>
<rect x="141.0" y="219.4" width="4.5" height="4.5" fill="#22dd22" stroke="#14a314" stroke-width="0.6"/>
<rect x="136.0" y="225.7" width="4.5" height="4.5" fill="#22dd22" stroke="#14a314" stroke-width="0.6"/>
<rect x="145.2" y="212.8" width="4.5" height="4.5" fill="#22dd22" stroke="#14a314" stroke-width="0.6"/>
<rect x="135.3" y="244.3" width="4.5" height="4.5" fill="#22dd22" stroke="#14a314" stroke-width="0.6"/>
<rect x="169.0" y="212.4" width="4.5" height="4.5" fill="#22dd22" stroke="#14a314" stroke-width="0.6"/>
<rect x="165.7" y="219.3" width="4.5" height="4.5" fill="#22dd22" stroke="#14a314" stroke-width="0.6"/>
<rect x="130.1" y="231.6" width="4.5" height="4.5" fill="#22dd22" stroke="#14a314" stroke-width="0.6"/>
<rect x="129.5" y="242.5" width="4.5" height="4.5" fill="#22dd22" stroke="#14a314" stroke-width="0.6"/>
<rect x="159.4" y="217.5" width="4.5" height="4.5" fill="#22dd22" stroke="#14a314" stroke-width="0.6"/>
<rect x="131.3" y="217.3" width="4.5" height="4.5" fill="#22dd22" stroke="#14a314" stroke-width="0.6"/>
<rect x="158.5" y="212.4" width="4.5" height="4.5" fill="#22dd22" stroke="#14a314" stroke-width="0.6"/>
<rect x="128.9" y="214.1" width="4.5" height="4.5" fill="#22dd22" stroke="#14a314" stroke-width="0.6"/>
<rect x="139.6" y="232.9" width="4.5" height="4.5" fill="#22dd22" stroke="#14a314" stroke-width="0.6"/>
<rect x="168.3" y="229.7" width="4.5" height="4.5" fill="#22dd22" stroke="#14a314" stroke-width="0.6"/>
<rect x="131.6" y="217.0" width="4.5" height="4.5" fill="#22dd22" stroke="#14a314" stroke-width="0.6"/>
<rect x="134.3" y="231.9" width="4.5" height="4.5" fill="#22dd22" stroke="#14a314" stroke-width="0.6"/>
<rect x="143.4" y="227.0" width="4.5" height="4.5" fill="#22dd22" stroke="#14a314" stroke-width="0.6"/>
<rect x="152.3" y="216.3" width="4.5" height="4.5" fill="#22dd22" stroke="#14a314" stroke-width="0.6"/>
<rect x="132.8" y="239.1" width="4.5" height="4.5" fill="#22dd22" stroke="#14a314" stroke-width="0.6"/>
<rect x="161.1" y="214.6" width="4.5" height="4.5" fill="#22dd22" stroke="#14a314" stroke-width="0.6"/>
<rect x="134.4" y="227.9" width="4.5" height="4.5" fill="#22dd22" stroke="#14a314" stroke-width="0.6"/>
<rect x="129.2" y="243.2" width="4.5" height="4.5" fill="#22dd22" stroke="#14a314" stroke-width="0.6"/>
<rect x="144.6" y="236.8" width="4.5" height="4.5" fill="#22dd22" stroke="#14a314" stroke-width="0.6"/>
<rect x="149.9" y="232.1" width="4.5" height="4.5" fill="#22dd22" stroke="#14a314" stroke-width="0.6"/>
<rect x="138.9" y="232.7" width="4.5" height="4.5" fill="#22dd22" stroke="#14a314" stroke-width="0.6"/>
<rect x="162.6" y="226.5" width="4.5" height="4.5" fill="#22dd22" stroke="#14a314" stroke-width="0.6"/>
<rect x="147.1" y="240.9" width="4.5" height="4.5" fill="#22dd22" stroke="#14a314" stroke-width="0.6"/>
<rect x="157.1" y="226.7" width="4.5" height="4.5" fill="#22dd22" stroke="#14a314" stroke-width="0.6"/>
<rect x="172.0" y="211.4" width="4.5" height="4.5" fill="#22dd22" stroke="#14a314" stroke-width="0.6"/>
<rect x="162.4" y="211.0" width="4.5" height="4.5" fill="#22dd22" stroke="#14a314" stroke-width="0.6"/>
<rect x="143.4" y="237.8" width="4.5" height="4.5" fill="#22dd22" stroke="#14a314" stroke-width="0.6"/>
<rect x="132.0" y="225.3" width="4.5" height="4.5" fill="#22dd22" stroke="#14a314" stroke-width="0.6"/>
<rect x="131.1" y="229.3" width="4.5" height="4.5" fill="#22dd22" stroke="#14a314" stroke-width="0.6"/>
<rect x="152.2" y="235.2" width="4.5" height="4.5" fill="#22dd22" stroke="#14a314" stroke-width="0.6"/>
<rect x="119.7" y="225.6" width="4.5" height="4.5" fill="#22dd22" stroke="#14a314" stroke-width="0.6"/>
<rect x="143.1" y="223.2" width="4.5" height="4.5" fill="#22dd22" stroke="#14a314" stroke-width="0.6"/>
<rect x="133.5" y="238.9" width="4.5" height="4.5" fill="#22dd22" stroke="#14a314" stroke-width="0.6"/>
<rect x="150.6" y="227.7" width="4.5" height="4.5" fill="#22dd22" stroke="#14a314" stroke-width="0.6"/>
<rect x="163.1" y="214.2" width="4.5" height="4.5" fill="#22dd22" stroke="#14a314" stroke-width="0.6"/>
<rect x="126.9" y="217.4" width="4.5" height="4.5" fill="#22dd22" stroke="#14a314" stroke-width="0.6"/>
<rect x="153.5" y="226.9" width="4.5" height="4.5" fill="#22dd22" stroke="#14a314" stroke-width="0.6"/>
<rect x="133.6" y="229.7" width="4.5" height="4.5" fill="#22dd22" stroke="#14a314" stroke-width="0.6"/>
<rect x="123.7" y="239.9" width="4.5" height="4.5" fill="#22dd22" stroke="#14a314" stroke-width="0.6"/>
<rect x="128.4" y="215.0" width="4.5" height="4.5" fill="#22dd22" stroke="#14a314" stroke-width="0.6"/>
<rect x="127.7" y="234.1" width="4.5" height="4.5" fill="#22dd22" stroke="#14a314" stroke-width="0.6"/>
<rect x="122.2" y="221.8" width="4.5" height="4.5" fill="#22dd22" stroke="#14a314" stroke-width="0.6"/>
<rect x="139.2" y="213.3" width="4.5" height="4.5" fill="#22dd22" stroke="#14a314" stroke-width="0.6"/>
<rect x="146.2" y="237.2" width="4.5" height="4.5" fill="#22dd22" stroke="#14a314" stroke-width="0.6"/>
<rect x="174.0" y="210.1" width="4.5" height="4.5" fill="#22dd22" stroke="#14a314" stroke-width="0.6"/>
<rect x="144.2" y="236.5" width="4.5" height="4.5" fill="#22dd22" stroke="#14a314" stroke-width="0.6"/>
<rect x="168.6" y="210.0" width="4.5" height="4.5" fill="#22dd22" stroke="#14a314" stroke-width="0.6"/>
<rect x="140.8" y="216.9" width="4.5" height="4.5" fill="#22dd22" stroke="#14a314" stroke-width="0.6"/>
<rect x="161.5" y="236.0" width="4.5" height="4.5" fill="#22dd22" stroke="#14a314" stroke-width="0.6"/>
<rect x="131.6" y="214.9" width="4.5" height="4.5" fill="#22dd22" stroke="#14a314" stroke-width="0.6"/>
<rect x="149.7" y="214.4" width="4.5" height="4.5" fill="#22dd22" stroke="#14a314" stroke-width="0.6"/>
<rect x="139.1" y="218.6" width="4.5" height="4.5" fill="#22dd22" stroke="#14a314" stroke-width="0.6"/>
<rect x="121.0" y="221.5" width="4.5" height="4.5" fill="#22dd22" stroke="#14a314" stroke-width="0.6"/>
<rect x="138.0" y="234.3" width="4.5" height="4.5" fill="#22dd22" stroke="#14a314" stroke-width="0.6"/>
<rect x="167.2" y="229.7" width="4.5" height="4.5" fill="#22dd22" stroke="#14a314" stroke-width="0.6"/>
<rect x="168.4" y="224.1" width="4.5" height="4.5" fill="#22dd22" stroke="#14a314" stroke-width="0.6"/>
<rect x="140.8" y="240.8" width="4.5" height="4.5" fill="#22dd22" stroke="#14a314" stroke-width="0.6"/>
<rect x="140.1" y="238.1" width="4.5" height="4.5" fill="#22dd22" stroke="#14a314" stroke-width="0.6"/>
<rect x="130.8" y="219.0" width="4.5" height="4.5" fill="#22dd22" stroke="#14a314" stroke-width="0.6"/>
<rect x="129.0" y="227.9" width="4.5" height="4.5" fill="#22dd22" stroke="#14a314" stroke-width="0.6"/>
<rect x="130.8" y="224.3" width="4.5" height="4.5" fill="#22dd22" stroke="#14a314" stroke-width="0.6"/>
<rect x="136.0" y="223.4" width="4.5" height="4.5" fill="#22dd22" stroke="#14a314" stroke-width="0.6"/>
<rect x="167.1" y="212.8" width="4.5" height="4.5" fill="#22dd22" stroke="#14a314" stroke-width="0.6"/>
<rect x="157.5" y="219.7" width="4.5" height="4.5" fill="#22dd22" stroke="#14a314" stroke-width="0.6"/>
<rect x="128.9" y="215.3" width="4.5" height="4.5" fill="#22dd22" stroke="#14a314" stroke-width="0.6"/>
<rect x="158.8" y="215.6" width="4.5" height="4.5" fill="#22dd22" stroke="#14a314" stroke-width="0.6"/>
<rect x="171.2" y="219.6" width="4.5" height="4.5" fill="#22dd22" stroke="#14a314" stroke-width="0.6"/>
<rect x="161.6" y="235.6" width="4.5" height="4.5" fill="#22dd22" stroke="#14a314" stroke-width="0.6"/>
<rect x="169.5" y="204.6" width="4.5" height="4.5" fill="#22dd22" stroke="#14a314" stroke-width="0.6"/>
<rect x="136.8" y="220.7" width="4.5" height="4.5" fill="#22dd22" stroke="#14a314" stroke-width="0.6"/>
<rect x="123.4" y="242.6" width="4.5" height="4.5" fill="#22dd22" stroke="#14a314" stroke-width="0.6"/>
<rect x="137.0" y="237.7" width="4.5" height="4.5" fill="#22dd22" stroke="#14a314" stroke-width="0.6"/>
<rect x="140.8" y="214.2" width="4.5" height="4.5" fill="#22dd22" stroke="#14a314" stroke-width="0.6"/>
<rect x="136.2" y="222.4" width="4.5" height="4.5" fill="#22dd22" stroke="#14a314" stroke-width="0.6"/>
<rect x="158.3" y="215.2" width="4.5" height="4.5" fill="#22dd22" stroke="#14a314" stroke-width="0.6"/>
<rect x="159.4" y="233.1" width="4.5" height="4.5" fill="#22dd22" stroke="#14a314" stroke-width="0.6"/>
<rect x="134.4" y="235.1" width="4.5" height="4.5" fill="#22dd22" stroke="#14a314" stroke-width="0.6"/>
<rect x="141.4" y="220.8" width="4.5" height="4.5" fill="#22dd22" stroke="#14a314" stroke-width="0.6"/>
<rect x="167.2" y="213.7" width="4.5" height="4.5" fill="#22dd22" stroke="#14a314" stroke-width="0.6"/>
<rect x="135.1" y="218.9" width="4.5" height="4.5" fill="#22dd22" stroke="#14a314" stroke-width="0.6"/>
<rect x="120.1" y="231.5" width="4.5" height="4.5" fill="#22dd22" stroke="#14a314" stroke-width="0.6"/>
<rect x="150.4" y="239.3" width="4.5" height="4.5" fill="#22dd22" stroke="#14a314" stroke-width="0.6"/>
<rect x="173.4" y="216.9" width="4.5" height="4.5" fill="#22dd22" stroke="#14a314" stroke-width="0.6"/>
<rect x="130.9" y="234.1" width="4.5" height="4.5" fill="#22dd22" stroke="#14a314" stroke-width="0.6"/>
<rect x="167.4" y="214.1" width="4.5" height="4.5" fill="#22dd22" stroke="#14a314" stroke-width="0.6"/>
<rect x="142.7" y="221.0" width="4.5" height="4.5" fill="#22dd22" stroke="#14a314" stroke-width="0.6"/>
<rect x="122.1" y="220.6" width="4.5" height="4.5" fill="#22dd22" stroke="#14a314" stroke-width="0.6"/>
<rect x="137.1" y="225.6" width="4.5" height="4.5" fill="#22dd22" stroke="#14a314" stroke-width="0.6"/>
<rect x="141.3" y="224.7" width="4.5" height="4.5" fill="#22dd22" stroke="#14a314" stroke-width="0.6"/>
<rect x="128.1" y="233.0" width="4.5" height="4.5" fill="#22dd22" stroke="#14a314" stroke-width="0.6"/>
<rect x="137.9" y="222.3" width="4.5" height="4.5" fill="#22dd22" stroke="#14a314" stroke-width="0.6"/>
<rect x="127.2" y="229.4" width="4.5" height="4.5" fill="#22dd22" stroke="#14a314" stroke-width="0.6"/>
<rect x="158.0" y="228.1" width="4.5" height="4.5" fill="#22dd22" stroke="#14a314" stroke-width="0.6"/>
<rect x="140.7" y="219.8" width="4.5" height="4.5" fill="#22dd22" stroke="#14a314" stroke-width="0.6"/>
<rect x="122.3" y="221.5" width="4.5" height="4.5" fill="#22dd22" stroke="#14a314" stroke-width="0.6"/>
<rect x="121.8" y="225.6" width="4.5" height="4.5" fill="#22dd22" stroke="#14a314" stroke-width="0.6"/>
<rect x="151.6" y="224.4" width="4.5" height="4.5" fill="#22dd22" stroke="#14a314" stroke-width="0.6"/>
<rect x="137.0" y="214.9" width="4.5" height="4.5" fill="#22dd22" stroke="#14a314" stroke-width="0.6"/>
<rect x="120.1" y="219.0" width="4.5" height="4.5" fill="#22dd22" stroke="#14a314" stroke-width="0.6"/>
<rect x="168.7" y="228.6" width="4.5" height="4.5" fill="#22dd22" stroke="#14a314" stroke-width="0.6"/>
<rect x="133.4" y="233.1" width="4.5" height="4.5" fill="#22dd22" stroke="#14a314" stroke-width="0.6"/>
<rect x="129.2" y="224.4" width="4.5" height="4.5" fill="#22dd22" stroke="#14a314" stroke-width="0.6"/>
<rect x="139.1" y="229.1" width="4.5" height="4.5" fill="#22dd22" stroke="#14a314" stroke-width="0.6"/>
<rect x="153.9" y="231.1" width="4.5" height="4.5" fill="#22dd22" stroke="#14a314" stroke-width="0.6"/>
<rect x="141.8" y="222.0" width="4.5" height="4.5" fill="#22dd22" stroke="#14a314" stroke-width="0.6"/>
<rect x="134.2" y="240.3" width="4.5" height="4.5" fill="#22dd22" stroke="#14a314" stroke-width="0.6"/>
<rect x="168.0" y="220.6" width="4.5" height="4.5" fill="#22dd22" stroke="#14a314" stroke-width="0.6"/>
<rect x="169.7" y="205.4" width="4.5" height="4.5" fill="#22dd22" stroke="#14a314" stroke-width="0.6"/>
<rect x="126.4" y="226.1" width="4.5" height="4.5" fill="#22dd22" stroke="#14a314" stroke-width="0.6"/>
<rect x="136.0" y="219.6" width="4.5" height="4.5" fill="#22dd22" stroke="#14a314" stroke-width="0.6"/>
<rect x="173.5" y="210.3" width="4.5" height="4.5" fill="#22dd22" stroke="#14a314" stroke-width="0.6"/>
<rect x="129.5" y="213.8" width="4.5" height="4.5" fill="#22dd22" stroke="#14a314" stroke-width="0.6"/>
<rect x="156.8" y="214.1" width="4.5" height="4.5" fill="#22dd22" stroke="#14a314" stroke-width="0.6"/>
<rect x="118.8" y="227.7" width="4.5" height="4.5" fill="#22dd22" stroke="#14a314" stroke-width="0.6"/>
<rect x="140.8" y="214.3" width="4.5" height="4.5" fill="#22dd22" stroke="#14a314" stroke-width="0.6"/>
<rect x="146.4" y="232.4" width="4.5" height="4.5" fill="#22dd22" stroke="#14a314" stroke-width="0.6"/>
<rect x="149.4" y="231.2" width="4.5" height="4.5" fill="#22dd22" stroke="#14a314" stroke-width="0.6"/>
<rect x="173.0" y="218.4" width="4.5" height="4.5" fill="#22dd22" stroke="#14a314" stroke-width="0.6"/>
<rect x="138.2" y="242.7" width="4.5" height="4.5" fill="#22dd22" stroke="#14a314" stroke-width="0.6"/>
<rect x="136.3" y="235.3" width="4.5" height="4.5" fill="#22dd22" stroke="#14a314" stroke-width="0.6"/>
<rect x="192.4" y="233.4" width="4.5" height="4.5" fill="#22dd22" stroke="#14a314" stroke-width="0.6"/>
<rect x="198.0" y="238.0" width="4.5" height="4.5" fill="#22dd22" stroke="#14a314" stroke-width="0.6"/>
<rect x="181.1" y="231.3" width="4.5" height="4.5" fill="#22dd22" stroke="#14a314" stroke-width="0.6"/>
<rect x="188.1" y="229.4" width="4.5" height="4.5" fill="#22dd22" stroke="#14a314" stroke-width="0.6"/>
<rect x="185.5" y="220.2" width="4.5" height="4.5" fill="#22dd22" stroke="#14a314" stroke-width="0.6"/>
<rect x="193.5" y="228.4" width="4.5" height="4.5" fill="#22dd22" stroke="#14a314" stroke-width="0.6"/>
<rect x="182.7" y="219.0" width="4.5" height="4.5" fill="#22dd22" stroke="#14a314" stroke-width="0.6"/>
<rect x="184.6" y="216.6" width="4.5" height="4.5" fill="#22dd22" stroke="#14a314" stroke-width="0.6"/>
<rect x="188.5" y="214.9" width="4.5" height="4.5" fill="#22dd22" stroke="#14a314" stroke-width="0.6"/>
<rect x="179.9" y="234.0" width="4.5" height="4.5" fill="#22dd22" stroke="#14a314" stroke-width="0.6"/>
<rect x="180.1" y="225.7" width="4.5" height="4.5" fill="#22dd22" stroke="#14a314" stroke-width="0.6"/>
<rect x="194.0" y="226.6" width="4.5" height="4.5" fill="#22dd22" stroke="#14a314" stroke-width="0.6"/>
<rect x="181.2" y="239.3" width="4.5" height="4.5" fill="#22dd22" stroke="#14a314" stroke-width="0.6"/>
<rect x="183.1" y="227.5" width="4.5" height="4.5" fill="#22dd22" stroke="#14a314" stroke-width="0.6"/>
<rect x="194.5" y="223.7" width="4.5" height="4.5" fill="#22dd22" stroke="#14a314" stroke-width="0.6"/>
<rect x="192.8" y="219.1" width="4.5" height="4.5" fill="#22dd22" stroke="#14a314" stroke-width="0.6"/>
<rect x="192.8" y="221.5" width="4.5" height="4.5" fill="#22dd22" stroke="#14a314" stroke-width="0.6"/>
<rect x="184.8" y="235.8" width="4.5" height="4.5" fill="#22dd22" stroke="#14a314" stroke-width="0.6"/>
<rect x="195.4" y="238.1" width="4.5" height="4.5" fill="#22dd22" stroke="#14a314" stroke-width="0.6"/>
<rect x="189.7" y="224.6" width="4.5" height="4.5" fill="#22dd22" stroke="#14a314" stroke-width="0.6"/>
<rect x="192.6" y="231.3" width="4.5" height="4.5" fill="#22dd22" stroke="#14a314" stroke-width="0.6"/>
<rect x="195.2" y="237.2" width="4.5" height="4.5" fill="#22dd22" stroke="#14a314" stroke-width="0.6"/>
<rect x="180.4" y="223.2" width="4.5" height="4.5" fill="#22dd22" stroke="#14a314" stroke-width="0.6"/>
<rect x="191.8" y="218.4" width="4.5" height="4.5" fill="#22dd22" stroke="#14a314" stroke-width="0.6"/>
<rect x="190.0" y="241.8" width="4.5" height="4.5" fill="#22dd22" stroke="#14a314" stroke-width="0.6"/>
<rect x="192.2" y="224.6" width="4.5" height="4.5" fill="#22dd22" stroke="#14a314" stroke-width="0.6"/>
<rect x="191.0" y="223.8" width="4.5" height="4.5" fill="#22dd22" stroke="#14a314" stroke-width="0.6"/>
<rect x="178.8" y="234.3" width="4.5" height="4.5" fill="#22dd22" stroke="#14a314" stroke-width="0.6"/>
<rect x="183.8" y="234.9" width="4.5" height="4.5" fill="#22dd22" stroke="#14a314" stroke-width="0.6"/>
<rect x="189.1" y="226.7" width="4.5" height="4.5" fill="#22dd22" stroke="#14a314" stroke-width="0.6"/>
<rect x="185.6" y="221.0" width="4.5" height="4.5" fill="#22dd22" stroke="#14a314" stroke-width="0.6"/>
<rect x="194.6" y="238.4" width="4.5" height="4.5" fill="#22dd22" stroke="#14a314" stroke-width="0.6"/>
<rect x="183.7" y="223.7" width="4.5" height="4.5" fill="#22dd22" stroke="#14a314" stroke-width="0.6"/>
<rect x="190.7" y="236.0" width="4.5" height="4.5" fill="#22dd22" stroke="#14a314" stroke-width="0.6"/>
<rect x="198.4" y="223.6" width="4.5" height="4.5" fill="#22dd22" stroke="#14a314" stroke-width="0.6"/>
<rect x="192.3" y="228.8" width="4.5" height="4.5" fill="#22dd22" stroke="#14a314" stroke-width="0.6"/>
<rect x="194.6" y="215.6" width="4.5" height="4.5" fill="#22dd22" stroke="#14a314" stroke-width="0.6"/>
<rect x="181.4" y="214.3" width="4.5" height="4.5" fill="#22dd22" stroke="#14a314" stroke-width="0.6"/>
<rect x="197.4" y="219.0" width="4.5" height="4.5" fill="#22dd22" stroke="#14a314" stroke-width="0.6"/>
<rect x="188.0" y="214.7" width="4.5" height="4.5" fill="#22dd22" stroke="#14a314" stroke-width="0.6"/>
<rect x="125.2" y="52.1" width="4.5" height="4.5" fill="#22dd22" stroke="#14a314" stroke-width="0.6"/>
<rect x="122.8" y="64.5" width="4.5" height="4.5" fill="#22dd22" stroke="#14a314" stroke-width="0.6"/>
<rect x="149.8" y="64.2" width="4.5" height="4.5" fill="#22dd22" stroke="#14a314" stroke-width="0.6"/>
<rect x="169.8" y="68.2" width="4.5" height="4.5" fill="#22dd22" stroke="#14a314" stroke-width="0.6"/>
<rect x="110.5" y="71.8" width="4.5" height="4.5" fill="#22dd22" stroke="#14a314" stroke-width="0.6"/>
<rect x="129.8" y="67.8" width="4.5" height="4.5" fill="#22dd22" stroke="#14a314" stroke-width="0.6"/>
<rect x="125.2" y="72.5" width="4.5" height="4.5" fill="#22dd22" stroke="#14a314" stroke-width="0.6"/>
<rect x="137.8" y="71.8" width="4.5" height="4.5" fill="#22dd22" stroke="#14a314" stroke-width="0.6"/>
<rect x="149.2" y="71.2" width="4.5" height="4.5" fill="#22dd22" stroke="#14a314" stroke-width="0.6"/>
<rect x="161.8" y="73.2" width="4.5" height="4.5" fill="#22dd22" stroke="#14a314" stroke-width="0.6"/>
<rect x="193.8" y="75.8" width="4.5" height="4.5" fill="#22dd22" stroke="#14a314" stroke-width="0.6"/>
<rect x="122.5" y="64.7" width="4.5" height="4.5" fill="#22dd22" stroke="#14a314" stroke-width="0.6"/>
<rect x="149.3" y="63.7" width="4.5" height="4.5" fill="#22dd22" stroke="#14a314" stroke-width="0.6"/>
<rect x="169.2" y="67.7" width="4.5" height="4.5" fill="#22dd22" stroke="#14a314" stroke-width="0.6"/>
<rect x="149.3" y="71.7" width="4.5" height="4.5" fill="#22dd22" stroke="#14a314" stroke-width="0.6"/>
<rect x="109.7" y="71.7" width="4.5" height="4.5" fill="#22dd22" stroke="#14a314" stroke-width="0.6"/>
<rect x="179.2" y="86.2" width="4.5" height="4.5" fill="#22dd22" stroke="#14a314" stroke-width="0.6"/>
<rect x="184.6" y="85.5" width="4.5" height="4.5" fill="#22dd22" stroke="#14a314" stroke-width="0.6"/>
<rect x="180.6" y="90.8" width="4.5" height="4.5" fill="#22dd22" stroke="#14a314" stroke-width="0.6"/>
<rect x="183.2" y="95.5" width="4.5" height="4.5" fill="#22dd22" stroke="#14a314" stroke-width="0.6"/>
<rect x="181.2" y="100.8" width="4.5" height="4.5" fill="#22dd22" stroke="#14a314" stroke-width="0.6"/>
<rect x="191.2" y="88.8" width="4.5" height="4.5" fill="#22dd22" stroke="#14a314" stroke-width="0.6"/>
<rect x="192.6" y="76.8" width="4.5" height="4.5" fill="#22dd22" stroke="#14a314" stroke-width="0.6"/>
<rect x="196.6" y="95.5" width="4.5" height="4.5" fill="#22dd22" stroke="#14a314" stroke-width="0.6"/>
<rect x="266.9" y="58.8" width="4.5" height="4.5" fill="#22dd22" stroke="#14a314" stroke-width="0.6"/>
<rect x="192.8" y="76.2" width="4.5" height="4.5" fill="#22dd22" stroke="#14a314" stroke-width="0.6"/>
<rect x="197.4" y="77.5" width="4.5" height="4.5" fill="#22dd22" stroke="#14a314" stroke-width="0.6"/>
<rect x="206.8" y="74.2" width="4.5" height="4.5" fill="#22dd22" stroke="#14a314" stroke-width="0.6"/>
<rect x="207.4" y="78.2" width="4.5" height="4.5" fill="#22dd22" stroke="#14a314" stroke-width="0.6"/>
<rect x="212.8" y="78.2" width="4.5" height="4.5" fill="#22dd22" stroke="#14a314" stroke-width="0.6"/>
<rect x="216.8" y="76.8" width="4.5" height="4.5" fill="#22dd22" stroke="#14a314" stroke-width="0.6"/>
<rect x="218.2" y="80.2" width="4.5" height="4.5" fill="#22dd22" stroke="#14a314" stroke-width="0.6"/>
<rect x="222.8" y="81.5" width="4.5" height="4.5" fill="#22dd22" stroke="#14a314" stroke-width="0.6"/>
<rect x="203.4" y="81.5" width="4.5" height="4.5" fill="#22dd22" stroke="#14a314" stroke-width="0.6"/>
<rect x="198.8" y="84.2" width="4.5" height="4.5" fill="#22dd22" stroke="#14a314" stroke-width="0.6"/>
<rect x="192.8" y="83.5" width="4.5" height="4.5" fill="#22dd22" stroke="#14a314" stroke-width="0.6"/>
<rect x="184.8" y="84.8" width="4.5" height="4.5" fill="#22dd22" stroke="#14a314" stroke-width="0.6"/>
<rect x="178.1" y="86.2" width="4.5" height="4.5" fill="#22dd22" stroke="#14a314" stroke-width="0.6"/>
<rect x="230.8" y="77.5" width="4.5" height="4.5" fill="#22dd22" stroke="#14a314" stroke-width="0.6"/>
<rect x="237.6" y="80.8" width="4.5" height="4.5" fill="#22dd22" stroke="#14a314" stroke-width="0.6"/>
<rect x="236.2" y="84.8" width="4.5" height="4.5" fill="#22dd22" stroke="#14a314" stroke-width="0.6"/>
<rect x="244.8" y="85.5" width="4.5" height="4.5" fill="#22dd22" stroke="#14a314" stroke-width="0.6"/>
<rect x="242.2" y="88.8" width="4.5" height="4.5" fill="#22dd22" stroke="#14a314" stroke-width="0.6"/>
<rect x="211.4" y="84.8" width="4.5" height="4.5" fill="#22dd22" stroke="#14a314" stroke-width="0.6"/>
<rect x="216.8" y="84.8" width="4.5" height="4.5" fill="#22dd22" stroke="#14a314" stroke-width="0.6"/>
<rect x="206.2" y="87.5" width="4.5" height="4.5" fill="#22dd22" stroke="#14a314" stroke-width="0.6"/>
<rect x="180.8" y="100.2" width="4.5" height="4.5" fill="#22dd22" stroke="#14a314" stroke-width="0.6"/>
<rect x="203.4" y="97.5" width="4.5" height="4.5" fill="#22dd22" stroke="#14a314" stroke-width="0.6"/>
<rect x="196.8" y="96.8" width="4.5" height="4.5" fill="#22dd22" stroke="#14a314" stroke-width="0.6"/>
<rect x="212.8" y="93.5" width="4.5" height="4.5" fill="#22dd22" stroke="#14a314" stroke-width="0.6"/>
<rect x="222.8" y="94.2" width="4.5" height="4.5" fill="#22dd22" stroke="#14a314" stroke-width="0.6"/>
<rect x="243.6" y="100.2" width="4.5" height="4.5" fill="#22dd22" stroke="#14a314" stroke-width="0.6"/>
<rect x="244.2" y="96.2" width="4.5" height="4.5" fill="#22dd22" stroke="#14a314" stroke-width="0.6"/>
<rect x="249.6" y="93.5" width="4.5" height="4.5" fill="#22dd22" stroke="#14a314" stroke-width="0.6"/>
<rect x="242.2" y="92.2" width="4.5" height="4.5" fill="#22dd22" stroke="#14a314" stroke-width="0.6"/>
<rect x="244.8" y="87.5" width="4.5" height="4.5" fill="#22dd22" stroke="#14a314" stroke-width="0.6"/>
<rect x="236.2" y="84.8" width="4.5" height="4.5" fill="#22dd22" stroke="#14a314" stroke-width="0.6"/>
<rect x="299.1" y="49.0" width="4.5" height="4.5" fill="#22dd22" stroke="#14a314" stroke-width="0.6"/>
<rect x="266.4" y="58.5" width="4.5" height="4.5" fill="#22dd22" stroke="#14a314" stroke-width="0.6"/>
<rect x="287.1" y="65.2" width="4.5" height="4.5" fill="#22dd22" stroke="#14a314" stroke-width="0.6"/>
<rect x="295.9" y="62.5" width="4.5" height="4.5" fill="#22dd22" stroke="#14a314" stroke-width="0.6"/>
<rect x="301.1" y="62.5" width="4.5" height="4.5" fill="#22dd22" stroke="#14a314" stroke-width="0.6"/>
<rect x="304.4" y="65.8" width="4.5" height="4.5" fill="#22dd22" stroke="#14a314" stroke-width="0.6"/>
<rect x="281.1" y="67.8" width="4.5" height="4.5" fill="#22dd22" stroke="#14a314" stroke-width="0.6"/>
<rect x="273.1" y="72.5" width="4.5" height="4.5" fill="#22dd22" stroke="#14a314" stroke-width="0.6"/>
<rect x="291.8" y="71.8" width="4.5" height="4.5" fill="#22dd22" stroke="#14a314" stroke-width="0.6"/>
<rect x="295.1" y="71.8" width="4.5" height="4.5" fill="#22dd22" stroke="#14a314" stroke-width="0.6"/>
<rect x="298.4" y="72.5" width="4.5" height="4.5" fill="#22dd22" stroke="#14a314" stroke-width="0.6"/>
<rect x="311.9" y="63.8" width="4.5" height="4.5" fill="#22dd22" stroke="#14a314" stroke-width="0.6"/>
<rect x="322.6" y="57.8" width="4.5" height="4.5" fill="#22dd22" stroke="#14a314" stroke-width="0.6"/>
<rect x="319.9" y="61.8" width="4.5" height="4.5" fill="#22dd22" stroke="#14a314" stroke-width="0.6"/>
<rect x="334.6" y="66.5" width="4.5" height="4.5" fill="#22dd22" stroke="#14a314" stroke-width="0.6"/>
<rect x="333.1" y="73.2" width="4.5" height="4.5" fill="#22dd22" stroke="#14a314" stroke-width="0.6"/>
<rect x="301.1" y="75.8" width="4.5" height="4.5" fill="#22dd22" stroke="#14a314" stroke-width="0.6"/>
<rect x="315.1" y="77.2" width="4.5" height="4.5" fill="#22dd22" stroke="#14a314" stroke-width="0.6"/>
<rect x="291.8" y="76.5" width="4.5" height="4.5" fill="#22dd22" stroke="#14a314" stroke-width="0.6"/>
<rect x="291.8" y="78.5" width="4.5" height="4.5" fill="#22dd22" stroke="#14a314" stroke-width="0.6"/>
<rect x="301.1" y="76.5" width="4.5" height="4.5" fill="#22dd22" stroke="#14a314" stroke-width="0.6"/>
<rect x="315.1" y="77.8" width="4.5" height="4.5" fill="#22dd22" stroke="#14a314" stroke-width="0.6"/>
<rect x="315.1" y="80.5" width="4.5" height="4.5" fill="#22dd22" stroke="#14a314" stroke-width="0.6"/>
<rect x="333.1" y="73.0" width="4.5" height="4.5" fill="#22dd22" stroke="#14a314" stroke-width="0.6"/>
<rect x="291.1" y="73.0" width="4.5" height="4.5" fill="#22dd22" stroke="#14a314" stroke-width="0.6"/>
<rect x="293.8" y="71.8" width="4.5" height="4.5" fill="#22dd22" stroke="#14a314" stroke-width="0.6"/>
<rect x="296.4" y="73.0" width="4.5" height="4.5" fill="#22dd22" stroke="#14a314" stroke-width="0.6"/>
<rect x="249.1" y="93.8" width="4.5" height="4.5" fill="#22dd22" stroke="#14a314" stroke-width="0.6"/>
<rect x="231.2" y="77.2" width="4.5" height="4.5" fill="#22dd22" stroke="#14a314" stroke-width="0.6"/>
<rect x="237.1" y="81.8" width="4.5" height="4.5" fill="#22dd22" stroke="#14a314" stroke-width="0.6"/>
<rect x="235.8" y="85.2" width="4.5" height="4.5" fill="#22dd22" stroke="#14a314" stroke-width="0.6"/>
<rect x="245.2" y="87.5" width="4.5" height="4.5" fill="#22dd22" stroke="#14a314" stroke-width="0.6"/>
<rect x="242.8" y="92.2" width="4.5" height="4.5" fill="#22dd22" stroke="#14a314" stroke-width="0.6"/>
<rect x="248.7" y="93.3" width="4.5" height="4.5" fill="#22dd22" stroke="#14a314" stroke-width="0.6"/>
<rect x="243.9" y="96.8" width="4.5" height="4.5" fill="#22dd22" stroke="#14a314" stroke-width="0.6"/>
<rect x="243.9" y="100.8" width="4.5" height="4.5" fill="#22dd22" stroke="#14a314" stroke-width="0.6"/>
<rect x="314.9" y="184.3" width="4.5" height="4.5" fill="#22dd22" stroke="#14a314" stroke-width="0.6"/>
<rect x="151.8" y="198.4" width="4.5" height="4.5" fill="#22dd22" stroke="#14a314" stroke-width="0.6"/>
<rect x="139.4" y="205.8" width="4.5" height="4.5" fill="#22dd22" stroke="#14a314" stroke-width="0.6"/>
<rect x="187.8" y="194.4" width="4.5" height="4.5" fill="#22dd22" stroke="#14a314" stroke-width="0.6"/>
<rect x="168.6" y="206.4" width="4.5" height="4.5" fill="#22dd22" stroke="#14a314" stroke-width="0.6"/>
<rect x="176.6" y="209.2" width="4.5" height="4.5" fill="#22dd22" stroke="#14a314" stroke-width="0.6"/>
<rect x="161.8" y="211.2" width="4.5" height="4.5" fill="#22dd22" stroke="#14a314" stroke-width="0.6"/>
<rect x="171.8" y="212.4" width="4.5" height="4.5" fill="#22dd22" stroke="#14a314" stroke-width="0.6"/>
<rect x="126.4" y="215.2" width="4.5" height="4.5" fill="#22dd22" stroke="#14a314" stroke-width="0.6"/>
<rect x="132.4" y="212.4" width="4.5" height="4.5" fill="#22dd22" stroke="#14a314" stroke-width="0.6"/>
<rect x="142.4" y="214.4" width="4.5" height="4.5" fill="#22dd22" stroke="#14a314" stroke-width="0.6"/>
<rect x="123.8" y="220.4" width="4.5" height="4.5" fill="#22dd22" stroke="#14a314" stroke-width="0.6"/>
<rect x="155.2" y="219.8" width="4.5" height="4.5" fill="#22dd22" stroke="#14a314" stroke-width="0.6"/>
<rect x="161.8" y="215.2" width="4.5" height="4.5" fill="#22dd22" stroke="#14a314" stroke-width="0.6"/>
<rect x="167.2" y="216.4" width="4.5" height="4.5" fill="#22dd22" stroke="#14a314" stroke-width="0.6"/>
<rect x="185.2" y="215.2" width="4.5" height="4.5" fill="#22dd22" stroke="#14a314" stroke-width="0.6"/>
<rect x="189.8" y="215.8" width="4.5" height="4.5" fill="#22dd22" stroke="#14a314" stroke-width="0.6"/>
<rect x="196.6" y="225.2" width="4.5" height="4.5" fill="#22dd22" stroke="#14a314" stroke-width="0.6"/>
<rect x="133.8" y="217.8" width="4.5" height="4.5" fill="#22dd22" stroke="#14a314" stroke-width="0.6"/>
<rect x="143.2" y="219.8" width="4.5" height="4.5" fill="#22dd22" stroke="#14a314" stroke-width="0.6"/>
<rect x="124.5" y="245.8" width="4.5" height="4.5" fill="#22dd22" stroke="#14a314" stroke-width="0.6"/>
<rect x="133.8" y="247.8" width="4.5" height="4.5" fill="#22dd22" stroke="#14a314" stroke-width="0.6"/>
<rect x="151.2" y="243.2" width="4.5" height="4.5" fill="#22dd22" stroke="#14a314" stroke-width="0.6"/>
<rect x="143.2" y="239.2" width="4.5" height="4.5" fill="#22dd22" stroke="#14a314" stroke-width="0.6"/>
<rect x="164.6" y="234.4" width="4.5" height="4.5" fill="#22dd22" stroke="#14a314" stroke-width="0.6"/>
<rect x="188.6" y="243.2" width="4.5" height="4.5" fill="#22dd22" stroke="#14a314" stroke-width="0.6"/>
<rect x="192.6" y="241.8" width="4.5" height="4.5" fill="#22dd22" stroke="#14a314" stroke-width="0.6"/>
<rect x="179.2" y="235.2" width="4.5" height="4.5" fill="#22dd22" stroke="#14a314" stroke-width="0.6"/>
<rect x="184.6" y="239.2" width="4.5" height="4.5" fill="#22dd22" stroke="#14a314" stroke-width="0.6"/>
<rect x="228.2" y="202.2" width="4.5" height="4.5" fill="#22dd22" stroke="#14a314" stroke-width="0.6"/>
<rect x="242.8" y="204.8" width="4.5" height="4.5" fill="#22dd22" stroke="#14a314" stroke-width="0.6"/>
<rect x="218.8" y="208.8" width="4.5" height="4.5" fill="#22dd22" stroke="#14a314" stroke-width="0.6"/>
<rect x="222.2" y="214.8" width="4.5" height="4.5" fill="#22dd22" stroke="#14a314" stroke-width="0.6"/>
<rect x="231.4" y="218.2" width="4.5" height="4.5" fill="#22dd22" stroke="#14a314" stroke-width="0.6"/>
<rect x="236.8" y="216.8" width="4.5" height="4.5" fill="#22dd22" stroke="#14a314" stroke-width="0.6"/>
<rect x="254.1" y="214.8" width="4.5" height="4.5" fill="#22dd22" stroke="#14a314" stroke-width="0.6"/>
<rect x="268.1" y="215.4" width="4.5" height="4.5" fill="#22dd22" stroke="#14a314" stroke-width="0.6"/>
<rect x="276.9" y="221.4" width="4.5" height="4.5" fill="#22dd22" stroke="#14a314" stroke-width="0.6"/>
<rect x="218.8" y="209.1" width="4.5" height="4.5" fill="#22dd22" stroke="#14a314" stroke-width="0.6"/>
<rect x="222.2" y="214.4" width="4.5" height="4.5" fill="#22dd22" stroke="#14a314" stroke-width="0.6"/>
<rect x="230.8" y="217.8" width="4.5" height="4.5" fill="#22dd22" stroke="#14a314" stroke-width="0.6"/>
<rect x="236.2" y="216.4" width="4.5" height="4.5" fill="#22dd22" stroke="#14a314" stroke-width="0.6"/>
<rect x="224.2" y="221.8" width="4.5" height="4.5" fill="#22dd22" stroke="#14a314" stroke-width="0.6"/>
<rect x="228.8" y="226.4" width="4.5" height="4.5" fill="#22dd22" stroke="#14a314" stroke-width="0.6"/>
<rect x="236.8" y="224.4" width="4.5" height="4.5" fill="#22dd22" stroke="#14a314" stroke-width="0.6"/>
<rect x="243.4" y="223.8" width="4.5" height="4.5" fill="#22dd22" stroke="#14a314" stroke-width="0.6"/>
<rect x="248.8" y="225.2" width="4.5" height="4.5" fill="#22dd22" stroke="#14a314" stroke-width="0.6"/>
<rect x="255.4" y="224.4" width="4.5" height="4.5" fill="#22dd22" stroke="#14a314" stroke-width="0.6"/>
<rect x="260.1" y="224.4" width="4.5" height="4.5" fill="#22dd22" stroke="#14a314" stroke-width="0.6"/>
<rect x="254.1" y="215.1" width="4.5" height="4.5" fill="#22dd22" stroke="#14a314" stroke-width="0.6"/>
<rect x="268.1" y="215.8" width="4.5" height="4.5" fill="#22dd22" stroke="#14a314" stroke-width="0.6"/>
<rect x="272.1" y="224.4" width="4.5" height="4.5" fill="#22dd22" stroke="#14a314" stroke-width="0.6"/>
<rect x="276.9" y="221.2" width="4.5" height="4.5" fill="#22dd22" stroke="#14a314" stroke-width="0.6"/>
<rect x="276.9" y="224.4" width="4.5" height="4.5" fill="#22dd22" stroke="#14a314" stroke-width="0.6"/>
<rect x="286.2" y="227.8" width="4.5" height="4.5" fill="#22dd22" stroke="#14a314" stroke-width="0.6"/>
<rect x="283.6" y="232.4" width="4.5" height="4.5" fill="#22dd22" stroke="#14a314" stroke-width="0.6"/>
<rect x="228.2" y="232.4" width="4.5" height="4.5" fill="#22dd22" stroke="#14a314" stroke-width="0.6"/>
<rect x="257.6" y="233.8" width="4.5" height="4.5" fill="#22dd22" stroke="#14a314" stroke-width="0.6"/>
<rect x="262.9" y="235.8" width="4.5" height="4.5" fill="#22dd22" stroke="#14a314" stroke-width="0.6"/>
<rect x="195.4" y="226.4" width="4.5" height="4.5" fill="#22dd22" stroke="#14a314" stroke-width="0.6"/>
<rect x="198.1" y="235.2" width="4.5" height="4.5" fill="#22dd22" stroke="#14a314" stroke-width="0.6"/>
<rect x="194.1" y="242.4" width="4.5" height="4.5" fill="#22dd22" stroke="#14a314" stroke-width="0.6"/>
<path d="M154.0 107.2L157.9 113.6L150.2 113.6Z" fill="#2222f4" stroke="#1010c4" stroke-width="0.6"/>
<path d="M158.1 115.8L162.0 122.2L154.3 122.2Z" fill="#2222f4" stroke="#1010c4" stroke-width="0.6"/>
<path d="M130.7 129.5L134.6 136.0L126.9 136.0Z" fill="#2222f4" stroke="#1010c4" stroke-width="0.6"/>
<path d="M140.2 114.8L144.1 121.3L136.4 121.3Z" fill="#2222f4" stroke="#1010c4" stroke-width="0.6"/>
<path d="M176.6 118.1L180.4 124.6L172.7 124.6Z" fill="#2222f4" stroke="#1010c4" stroke-width="0.6"/>
<path d="M148.4 125.0L152.3 131.5L144.6 131.5Z" fill="#2222f4" stroke="#1010c4" stroke-width="0.6"/>
<path d="M170.7 123.8L174.5 130.3L166.8 130.3Z" fill="#2222f4" stroke="#1010c4" stroke-width="0.6"/>
<path d="M160.3 138.8L164.2 145.2L156.5 145.2Z" fill="#2222f4" stroke="#1010c4" stroke-width="0.6"/>
<path d="M165.0 109.3L168.9 115.8L161.2 115.8Z" fill="#2222f4" stroke="#1010c4" stroke-width="0.6"/>
<path d="M139.8 147.4L143.6 153.8L135.9 153.8Z" fill="#2222f4" stroke="#1010c4" stroke-width="0.6"/>
<path d="M136.4 131.6L140.2 138.1L132.5 138.1Z" fill="#2222f4" stroke="#1010c4" stroke-width="0.6"/>
<path d="M151.4 151.1L155.2 157.6L147.5 157.6Z" fill="#2222f4" stroke="#1010c4" stroke-width="0.6"/>
<path d="M163.7 114.2L167.5 120.7L159.8 120.7Z" fill="#2222f4" stroke="#1010c4" stroke-width="0.6"/>
<path d="M154.8 112.7L158.6 119.1L150.9 119.1Z" fill="#2222f4" stroke="#1010c4" stroke-width="0.6"/>
<path d="M141.8 122.0L145.6 128.5L137.9 128.5Z" fill="#2222f4" stroke="#1010c4" stroke-width="0.6"/>
<path d="M140.2 139.7L144.0 146.2L136.3 146.2Z" fill="#2222f4" stroke="#1010c4" stroke-width="0.6"/>
<path d="M139.4 116.1L143.3 122.6L135.6 122.6Z" fill="#2222f4" stroke="#1010c4" stroke-width="0.6"/>
<path d="M121.5 119.8L125.3 126.2L117.6 126.2Z" fill="#2222f4" stroke="#1010c4" stroke-width="0.6"/>
<path d="M166.2 111.6L170.0 118.1L162.3 118.1Z" fill="#2222f4" stroke="#1010c4" stroke-width="0.6"/>
<path d="M166.3 133.7L170.1 140.2L162.4 140.2Z" fill="#2222f4" stroke="#1010c4" stroke-width="0.6"/>
<path d="M161.9 109.4L165.8 115.9L158.1 115.9Z" fill="#2222f4" stroke="#1010c4" stroke-width="0.6"/>
<path d="M139.2 126.1L143.0 132.6L135.3 132.6Z" fill="#2222f4" stroke="#1010c4" stroke-width="0.6"/>
<path d="M142.8 118.9L146.7 125.4L139.0 125.4Z" fill="#2222f4" stroke="#1010c4" stroke-width="0.6"/>
<path d="M137.1 147.4L141.0 153.9L133.3 153.9Z" fill="#2222f4" stroke="#1010c4" stroke-width="0.6"/>
<path d="M130.2 124.6L134.0 131.1L126.3 131.1Z" fill="#2222f4" stroke="#1010c4" stroke-width="0.6"/>
<path d="M163.7 109.4L167.6 115.9L159.9 115.9Z" fill="#2222f4" stroke="#1010c4" stroke-width="0.6"/>
<path d="M133.9 142.3L137.7 148.8L130.0 148.8Z" fill="#2222f4" stroke="#1010c4" stroke-width="0.6"/>
<path d="M127.7 121.2L131.5 127.7L123.8 127.7Z" fill="#2222f4" stroke="#1010c4" stroke-width="0.6"/>
<path d="M158.8 122.6L162.6 129.1L154.9 129.1Z" fill="#2222f4" stroke="#1010c4" stroke-width="0.6"/>
<path d="M159.4 111.7L163.3 118.2L155.6 118.2Z" fill="#2222f4" stroke="#1010c4" stroke-width="0.6"/>
<path d="M174.1 139.1L177.9 145.6L170.2 145.6Z" fill="#2222f4" stroke="#1010c4" stroke-width="0.6"/>
<path d="M149.8 135.1L153.7 141.6L146.0 141.6Z" fill="#2222f4" stroke="#1010c4" stroke-width="0.6"/>
<path d="M122.9 152.9L126.7 159.4L119.0 159.4Z" fill="#2222f4" stroke="#1010c4" stroke-width="0.6"/>
<path d="M162.6 127.6L166.4 134.0L158.7 134.0Z" fill="#2222f4" stroke="#1010c4" stroke-width="0.6"/>
<path d="M160.9 125.3L164.8 131.8L157.1 131.8Z" fill="#2222f4" stroke="#1010c4" stroke-width="0.6"/>
<path d="M141.5 112.9L145.4 119.3L137.7 119.3Z" fill="#2222f4" stroke="#1010c4" stroke-width="0.6"/>
<path d="M156.4 135.4L160.3 141.9L152.6 141.9Z" fill="#2222f4" stroke="#1010c4" stroke-width="0.6"/>
<path d="M158.3 127.1L162.1 133.6L154.4 133.6Z" fill="#2222f4" stroke="#1010c4" stroke-width="0.6"/>
<path d="M155.9 136.9L159.8 143.4L152.1 143.4Z" fill="#2222f4" stroke="#1010c4" stroke-width="0.6"/>
<path d="M165.9 118.3L169.8 124.8L162.1 124.8Z" fill="#2222f4" stroke="#1010c4" stroke-width="0.6"/>
<path d="M148.9 113.1L152.7 119.6L145.0 119.6Z" fill="#2222f4" stroke="#1010c4" stroke-width="0.6"/>
<path d="M173.0 140.5L176.8 147.0L169.1 147.0Z" fill="#2222f4" stroke="#1010c4" stroke-width="0.6"/>
<path d="M170.0 131.4L173.9 137.9L166.2 137.9Z" fill="#2222f4" stroke="#1010c4" stroke-width="0.6"/>
<path d="M132.3 150.9L136.1 157.4L128.4 157.4Z" fill="#2222f4" stroke="#1010c4" stroke-width="0.6"/>
<path d="M146.3 133.0L150.2 139.5L142.5 139.5Z" fill="#2222f4" stroke="#1010c4" stroke-width="0.6"/>
<path d="M134.3 140.1L138.1 146.6L130.4 146.6Z" fill="#2222f4" stroke="#1010c4" stroke-width="0.6"/>
<path d="M169.3 130.0L173.2 136.5L165.5 136.5Z" fill="#2222f4" stroke="#1010c4" stroke-width="0.6"/>
<path d="M131.7 150.4L135.5 156.9L127.8 156.9Z" fill="#2222f4" stroke="#1010c4" stroke-width="0.6"/>
<path d="M140.2 104.3L144.1 110.8L136.4 110.8Z" fill="#2222f4" stroke="#1010c4" stroke-width="0.6"/>
<path d="M129.3 139.2L133.1 145.6L125.4 145.6Z" fill="#2222f4" stroke="#1010c4" stroke-width="0.6"/>
<path d="M128.6 141.7L132.4 148.2L124.7 148.2Z" fill="#2222f4" stroke="#1010c4" stroke-width="0.6"/>
<path d="M138.4 118.5L142.3 125.0L134.6 125.0Z" fill="#2222f4" stroke="#1010c4" stroke-width="0.6"/>
<path d="M158.4 116.1L162.3 122.5L154.6 122.5Z" fill="#2222f4" stroke="#1010c4" stroke-width="0.6"/>
<path d="M156.6 143.5L160.5 150.0L152.8 150.0Z" fill="#2222f4" stroke="#1010c4" stroke-width="0.6"/>
<path d="M162.9 128.4L166.7 134.9L159.0 134.9Z" fill="#2222f4" stroke="#1010c4" stroke-width="0.6"/>
<path d="M179.9 137.9L183.8 144.4L176.1 144.4Z" fill="#2222f4" stroke="#1010c4" stroke-width="0.6"/>
<path d="M139.7 110.6L143.5 117.1L135.8 117.1Z" fill="#2222f4" stroke="#1010c4" stroke-width="0.6"/>
<path d="M165.8 121.4L169.7 127.9L162.0 127.9Z" fill="#2222f4" stroke="#1010c4" stroke-width="0.6"/>
<path d="M136.4 124.6L140.3 131.1L132.6 131.1Z" fill="#2222f4" stroke="#1010c4" stroke-width="0.6"/>
<path d="M125.1 139.3L128.9 145.8L121.2 145.8Z" fill="#2222f4" stroke="#1010c4" stroke-width="0.6"/>
<path d="M143.2 127.8L147.1 134.3L139.4 134.3Z" fill="#2222f4" stroke="#1010c4" stroke-width="0.6"/>
<path d="M138.9 144.1L142.7 150.5L135.0 150.5Z" fill="#2222f4" stroke="#1010c4" stroke-width="0.6"/>
<path d="M131.2 135.9L135.1 142.3L127.4 142.3Z" fill="#2222f4" stroke="#1010c4" stroke-width="0.6"/>
<path d="M161.7 127.7L165.5 134.2L157.8 134.2Z" fill="#2222f4" stroke="#1010c4" stroke-width="0.6"/>
<path d="M166.3 137.3L170.1 143.8L162.4 143.8Z" fill="#2222f4" stroke="#1010c4" stroke-width="0.6"/>
<path d="M145.9 101.9L149.8 108.4L142.1 108.4Z" fill="#2222f4" stroke="#1010c4" stroke-width="0.6"/>
<path d="M143.9 116.2L147.8 122.7L140.1 122.7Z" fill="#2222f4" stroke="#1010c4" stroke-width="0.6"/>
<path d="M135.2 143.5L139.1 150.0L131.4 150.0Z" fill="#2222f4" stroke="#1010c4" stroke-width="0.6"/>
<path d="M161.4 113.8L165.2 120.3L157.5 120.3Z" fill="#2222f4" stroke="#1010c4" stroke-width="0.6"/>
<path d="M143.4 106.4L147.2 112.9L139.5 112.9Z" fill="#2222f4" stroke="#1010c4" stroke-width="0.6"/>
<path d="M144.0 120.2L147.9 126.7L140.2 126.7Z" fill="#2222f4" stroke="#1010c4" stroke-width="0.6"/>
<path d="M155.8 133.7L159.6 140.2L151.9 140.2Z" fill="#2222f4" stroke="#1010c4" stroke-width="0.6"/>
<path d="M121.9 156.8L125.7 163.3L118.0 163.3Z" fill="#2222f4" stroke="#1010c4" stroke-width="0.6"/>
<path d="M121.1 121.7L124.9 128.1L117.2 128.1Z" fill="#2222f4" stroke="#1010c4" stroke-width="0.6"/>
<path d="M140.8 145.4L144.7 151.8L137.0 151.8Z" fill="#2222f4" stroke="#1010c4" stroke-width="0.6"/>
<path d="M161.2 120.4L165.0 126.8L157.3 126.8Z" fill="#2222f4" stroke="#1010c4" stroke-width="0.6"/>
<path d="M147.4 121.5L151.2 128.0L143.5 128.0Z" fill="#2222f4" stroke="#1010c4" stroke-width="0.6"/>
<path d="M147.1 118.5L150.9 125.0L143.2 125.0Z" fill="#2222f4" stroke="#1010c4" stroke-width="0.6"/>
<path d="M161.3 137.6L165.1 144.1L157.4 144.1Z" fill="#2222f4" stroke="#1010c4" stroke-width="0.6"/>
<path d="M172.2 140.5L176.0 147.0L168.3 147.0Z" fill="#2222f4" stroke="#1010c4" stroke-width="0.6"/>
<path d="M142.7 140.9L146.5 147.4L138.8 147.4Z" fill="#2222f4" stroke="#1010c4" stroke-width="0.6"/>
<path d="M129.5 122.1L133.3 128.6L125.6 128.6Z" fill="#2222f4" stroke="#1010c4" stroke-width="0.6"/>
<path d="M124.9 123.7L128.7 130.2L121.0 130.2Z" fill="#2222f4" stroke="#1010c4" stroke-width="0.6"/>
<path d="M126.5 140.5L130.4 146.9L122.7 146.9Z" fill="#2222f4" stroke="#1010c4" stroke-width="0.6"/>
<path d="M158.0 146.6L161.8 153.1L154.1 153.1Z" fill="#2222f4" stroke="#1010c4" stroke-width="0.6"/>
<path d="M123.3 128.6L127.1 135.1L119.4 135.1Z" fill="#2222f4" stroke="#1010c4" stroke-width="0.6"/>
<path d="M152.0 132.9L155.8 139.3L148.1 139.3Z" fill="#2222f4" stroke="#1010c4" stroke-width="0.6"/>
<path d="M122.7 149.7L126.5 156.2L118.8 156.2Z" fill="#2222f4" stroke="#1010c4" stroke-width="0.6"/>
<path d="M135.8 131.1L139.7 137.6L132.0 137.6Z" fill="#2222f4" stroke="#1010c4" stroke-width="0.6"/>
<path d="M123.6 135.1L127.4 141.6L119.7 141.6Z" fill="#2222f4" stroke="#1010c4" stroke-width="0.6"/>
<path d="M150.3 117.1L154.2 123.5L146.5 123.5Z" fill="#2222f4" stroke="#1010c4" stroke-width="0.6"/>
<path d="M168.6 114.0L172.5 120.4L164.8 120.4Z" fill="#2222f4" stroke="#1010c4" stroke-width="0.6"/>
<path d="M130.0 127.5L133.9 133.9L126.2 133.9Z" fill="#2222f4" stroke="#1010c4" stroke-width="0.6"/>
<path d="M153.5 128.0L157.4 134.4L149.7 134.4Z" fill="#2222f4" stroke="#1010c4" stroke-width="0.6"/>
<path d="M143.0 138.0L146.9 144.5L139.2 144.5Z" fill="#2222f4" stroke="#1010c4" stroke-width="0.6"/>
<path d="M125.6 151.6L129.5 158.1L121.8 158.1Z" fill="#2222f4" stroke="#1010c4" stroke-width="0.6"/>
<path d="M125.8 132.7L129.7 139.2L122.0 139.2Z" fill="#2222f4" stroke="#1010c4" stroke-width="0.6"/>
<path d="M122.7 158.3L126.6 164.7L118.9 164.7Z" fill="#2222f4" stroke="#1010c4" stroke-width="0.6"/>
<path d="M137.7 129.9L141.5 136.4L133.8 136.4Z" fill="#2222f4" stroke="#1010c4" stroke-width="0.6"/>
<path d="M180.3 135.1L184.2 141.6L176.5 141.6Z" fill="#2222f4" stroke="#1010c4" stroke-width="0.6"/>
<path d="M142.2 117.4L146.1 123.9L138.4 123.9Z" fill="#2222f4" stroke="#1010c4" stroke-width="0.6"/>
<path d="M166.0 114.7L169.9 121.2L162.2 121.2Z" fill="#2222f4" stroke="#1010c4" stroke-width="0.6"/>
<path d="M140.4 126.0L144.2 132.5L136.5 132.5Z" fill="#2222f4" stroke="#1010c4" stroke-width="0.6"/>
<path d="M147.9 121.3L151.8 127.8L144.1 127.8Z" fill="#2222f4" stroke="#1010c4" stroke-width="0.6"/>
<path d="M144.7 127.4L148.6 133.9L140.9 133.9Z" fill="#2222f4" stroke="#1010c4" stroke-width="0.6"/>
<path d="M152.8 124.0L156.6 130.5L148.9 130.5Z" fill="#2222f4" stroke="#1010c4" stroke-width="0.6"/>
<path d="M140.7 118.4L144.5 124.9L136.8 124.9Z" fill="#2222f4" stroke="#1010c4" stroke-width="0.6"/>
<path d="M148.4 112.9L152.2 119.4L144.5 119.4Z" fill="#2222f4" stroke="#1010c4" stroke-width="0.6"/>
<path d="M166.7 129.8L170.6 136.3L162.9 136.3Z" fill="#2222f4" stroke="#1010c4" stroke-width="0.6"/>
<path d="M140.2 137.1L144.1 143.6L136.4 143.6Z" fill="#2222f4" stroke="#1010c4" stroke-width="0.6"/>
<path d="M140.5 117.5L144.3 124.0L136.6 124.0Z" fill="#2222f4" stroke="#1010c4" stroke-width="0.6"/>
<path d="M157.0 136.5L160.9 143.0L153.2 143.0Z" fill="#2222f4" stroke="#1010c4" stroke-width="0.6"/>
<path d="M136.7 130.5L140.6 137.0L132.9 137.0Z" fill="#2222f4" stroke="#1010c4" stroke-width="0.6"/>
<path d="M150.6 147.4L154.5 153.8L146.8 153.8Z" fill="#2222f4" stroke="#1010c4" stroke-width="0.6"/>
<path d="M132.4 115.5L136.2 122.0L128.5 122.0Z" fill="#2222f4" stroke="#1010c4" stroke-width="0.6"/>
<path d="M169.9 125.7L173.7 132.2L166.0 132.2Z" fill="#2222f4" stroke="#1010c4" stroke-width="0.6"/>
<path d="M174.3 124.2L178.2 130.7L170.5 130.7Z" fill="#2222f4" stroke="#1010c4" stroke-width="0.6"/>
<path d="M134.7 142.5L138.6 149.0L130.9 149.0Z" fill="#2222f4" stroke="#1010c4" stroke-width="0.6"/>
<path d="M172.4 119.3L176.2 125.8L168.5 125.8Z" fill="#2222f4" stroke="#1010c4" stroke-width="0.6"/>
<path d="M169.4 140.0L173.2 146.5L165.5 146.5Z" fill="#2222f4" stroke="#1010c4" stroke-width="0.6"/>
<path d="M165.8 125.3L169.7 131.7L162.0 131.7Z" fill="#2222f4" stroke="#1010c4" stroke-width="0.6"/>
<path d="M168.9 126.7L172.8 133.2L165.1 133.2Z" fill="#2222f4" stroke="#1010c4" stroke-width="0.6"/>
<path d="M166.9 122.6L170.7 129.1L163.0 129.1Z" fill="#2222f4" stroke="#1010c4" stroke-width="0.6"/>
<path d="M145.9 126.5L149.7 133.0L142.0 133.0Z" fill="#2222f4" stroke="#1010c4" stroke-width="0.6"/>
<path d="M123.1 118.8L127.0 125.3L119.3 125.3Z" fill="#2222f4" stroke="#1010c4" stroke-width="0.6"/>
<path d="M123.0 152.7L126.8 159.1L119.1 159.1Z" fill="#2222f4" stroke="#1010c4" stroke-width="0.6"/>
<path d="M161.0 133.8L164.8 140.3L157.1 140.3Z" fill="#2222f4" stroke="#1010c4" stroke-width="0.6"/>
<path d="M129.6 125.0L133.4 131.5L125.7 131.5Z" fill="#2222f4" stroke="#1010c4" stroke-width="0.6"/>
<path d="M123.5 155.3L127.4 161.8L119.7 161.8Z" fill="#2222f4" stroke="#1010c4" stroke-width="0.6"/>
<path d="M144.8 122.6L148.7 129.1L141.0 129.1Z" fill="#2222f4" stroke="#1010c4" stroke-width="0.6"/>
<path d="M149.1 143.1L152.9 149.6L145.2 149.6Z" fill="#2222f4" stroke="#1010c4" stroke-width="0.6"/>
<path d="M141.8 149.0L145.6 155.5L137.9 155.5Z" fill="#2222f4" stroke="#1010c4" stroke-width="0.6"/>
<path d="M122.3 146.6L126.1 153.1L118.4 153.1Z" fill="#2222f4" stroke="#1010c4" stroke-width="0.6"/>
<path d="M126.5 136.3L130.3 142.8L122.6 142.8Z" fill="#2222f4" stroke="#1010c4" stroke-width="0.6"/>
<path d="M128.9 120.5L132.8 127.0L125.1 127.0Z" fill="#2222f4" stroke="#1010c4" stroke-width="0.6"/>
<path d="M126.3 120.7L130.2 127.2L122.5 127.2Z" fill="#2222f4" stroke="#1010c4" stroke-width="0.6"/>
<path d="M155.8 132.0L159.7 138.4L152.0 138.4Z" fill="#2222f4" stroke="#1010c4" stroke-width="0.6"/>
<path d="M141.8 135.5L145.7 142.0L138.0 142.0Z" fill="#2222f4" stroke="#1010c4" stroke-width="0.6"/>
<path d="M173.1 121.3L177.0 127.8L169.3 127.8Z" fill="#2222f4" stroke="#1010c4" stroke-width="0.6"/>
<path d="M155.3 129.4L159.1 135.8L151.4 135.8Z" fill="#2222f4" stroke="#1010c4" stroke-width="0.6"/>
<path d="M163.1 113.1L167.0 119.6L159.3 119.6Z" fill="#2222f4" stroke="#1010c4" stroke-width="0.6"/>
<path d="M133.0 145.8L136.9 152.3L129.2 152.3Z" fill="#2222f4" stroke="#1010c4" stroke-width="0.6"/>
<path d="M154.7 114.6L158.5 121.1L150.8 121.1Z" fill="#2222f4" stroke="#1010c4" stroke-width="0.6"/>
<path d="M141.1 144.9L144.9 151.4L137.2 151.4Z" fill="#2222f4" stroke="#1010c4" stroke-width="0.6"/>
<path d="M144.9 138.4L148.7 144.9L141.0 144.9Z" fill="#2222f4" stroke="#1010c4" stroke-width="0.6"/>
<path d="M177.8 127.7L181.6 134.2L173.9 134.2Z" fill="#2222f4" stroke="#1010c4" stroke-width="0.6"/>
<path d="M148.6 112.9L152.4 119.4L144.7 119.4Z" fill="#2222f4" stroke="#1010c4" stroke-width="0.6"/>
<path d="M154.2 134.0L158.0 140.5L150.3 140.5Z" fill="#2222f4" stroke="#1010c4" stroke-width="0.6"/>
<path d="M138.0 107.7L141.8 114.2L134.1 114.2Z" fill="#2222f4" stroke="#1010c4" stroke-width="0.6"/>
<path d="M169.1 112.1L173.0 118.6L165.3 118.6Z" fill="#2222f4" stroke="#1010c4" stroke-width="0.6"/>
<path d="M128.7 133.0L132.6 139.4L124.9 139.4Z" fill="#2222f4" stroke="#1010c4" stroke-width="0.6"/>
<path d="M157.1 105.7L160.9 112.1L153.2 112.1Z" fill="#2222f4" stroke="#1010c4" stroke-width="0.6"/>
<path d="M167.8 136.1L171.6 142.6L163.9 142.6Z" fill="#2222f4" stroke="#1010c4" stroke-width="0.6"/>
<path d="M162.6 121.7L166.4 128.2L158.7 128.2Z" fill="#2222f4" stroke="#1010c4" stroke-width="0.6"/>
<path d="M165.2 115.1L169.0 121.6L161.3 121.6Z" fill="#2222f4" stroke="#1010c4" stroke-width="0.6"/>
<path d="M152.1 114.4L155.9 120.9L148.2 120.9Z" fill="#2222f4" stroke="#1010c4" stroke-width="0.6"/>
<path d="M135.2 114.4L139.1 120.8L131.4 120.8Z" fill="#2222f4" stroke="#1010c4" stroke-width="0.6"/>
<path d="M124.1 129.7L127.9 136.1L120.2 136.1Z" fill="#2222f4" stroke="#1010c4" stroke-width="0.6"/>
<path d="M133.8 116.5L137.7 123.0L130.0 123.0Z" fill="#2222f4" stroke="#1010c4" stroke-width="0.6"/>
<path d="M134.2 131.3L138.0 137.7L130.3 137.7Z" fill="#2222f4" stroke="#1010c4" stroke-width="0.6"/>
<path d="M157.0 133.5L160.9 140.0L153.2 140.0Z" fill="#2222f4" stroke="#1010c4" stroke-width="0.6"/>
<path d="M165.6 132.9L169.5 139.4L161.8 139.4Z" fill="#2222f4" stroke="#1010c4" stroke-width="0.6"/>
<path d="M168.5 114.8L172.3 121.3L164.6 121.3Z" fill="#2222f4" stroke="#1010c4" stroke-width="0.6"/>
<path d="M140.0 149.6L143.9 156.1L136.2 156.1Z" fill="#2222f4" stroke="#1010c4" stroke-width="0.6"/>
<path d="M131.1 127.5L135.0 134.0L127.3 134.0Z" fill="#2222f4" stroke="#1010c4" stroke-width="0.6"/>
<path d="M140.6 145.8L144.4 152.2L136.7 152.2Z" fill="#2222f4" stroke="#1010c4" stroke-width="0.6"/>
<path d="M180.1 131.0L184.0 137.5L176.3 137.5Z" fill="#2222f4" stroke="#1010c4" stroke-width="0.6"/>
<path d="M154.1 120.7L157.9 127.2L150.2 127.2Z" fill="#2222f4" stroke="#1010c4" stroke-width="0.6"/>
<path d="M122.6 159.7L126.5 166.2L118.8 166.2Z" fill="#2222f4" stroke="#1010c4" stroke-width="0.6"/>
<path d="M160.3 102.4L164.2 108.9L156.5 108.9Z" fill="#2222f4" stroke="#1010c4" stroke-width="0.6"/>
<path d="M154.0 105.6L157.9 112.1L150.2 112.1Z" fill="#2222f4" stroke="#1010c4" stroke-width="0.6"/>
<path d="M161.0 102.2L164.8 108.6L157.1 108.6Z" fill="#2222f4" stroke="#1010c4" stroke-width="0.6"/>
<path d="M151.0 102.8L154.8 109.3L147.1 109.3Z" fill="#2222f4" stroke="#1010c4" stroke-width="0.6"/>
<path d="M151.4 109.9L155.2 116.3L147.5 116.3Z" fill="#2222f4" stroke="#1010c4" stroke-width="0.6"/>
<path d="M151.3 121.0L155.2 127.5L147.5 127.5Z" fill="#2222f4" stroke="#1010c4" stroke-width="0.6"/>
<path d="M149.4 110.7L153.3 117.2L145.6 117.2Z" fill="#2222f4" stroke="#1010c4" stroke-width="0.6"/>
<path d="M163.6 125.2L167.5 131.7L159.8 131.7Z" fill="#2222f4" stroke="#1010c4" stroke-width="0.6"/>
<path d="M148.5 102.9L152.4 109.4L144.7 109.4Z" fill="#2222f4" stroke="#1010c4" stroke-width="0.6"/>
<path d="M148.6 134.4L152.4 140.9L144.7 140.9Z" fill="#2222f4" stroke="#1010c4" stroke-width="0.6"/>
<path d="M124.3 117.5L128.2 124.0L120.5 124.0Z" fill="#2222f4" stroke="#1010c4" stroke-width="0.6"/>
<path d="M138.2 144.0L142.0 150.4L134.3 150.4Z" fill="#2222f4" stroke="#1010c4" stroke-width="0.6"/>
<path d="M155.8 142.9L159.6 149.4L151.9 149.4Z" fill="#2222f4" stroke="#1010c4" stroke-width="0.6"/>
<path d="M157.3 138.1L161.1 144.6L153.4 144.6Z" fill="#2222f4" stroke="#1010c4" stroke-width="0.6"/>
<path d="M172.3 143.1L176.1 149.5L168.4 149.5Z" fill="#2222f4" stroke="#1010c4" stroke-width="0.6"/>
<path d="M150.9 135.9L154.7 142.4L147.0 142.4Z" fill="#2222f4" stroke="#1010c4" stroke-width="0.6"/>
<path d="M172.5 124.6L176.4 131.0L168.7 131.0Z" fill="#2222f4" stroke="#1010c4" stroke-width="0.6"/>
<path d="M138.2 120.6L142.0 127.0L134.3 127.0Z" fill="#2222f4" stroke="#1010c4" stroke-width="0.6"/>
<path d="M133.1 136.3L136.9 142.8L129.2 142.8Z" fill="#2222f4" stroke="#1010c4" stroke-width="0.6"/>
<path d="M151.3 119.8L155.2 126.3L147.5 126.3Z" fill="#2222f4" stroke="#1010c4" stroke-width="0.6"/>
<path d="M161.6 127.7L165.4 134.2L157.7 134.2Z" fill="#2222f4" stroke="#1010c4" stroke-width="0.6"/>
<path d="M132.5 129.3L136.3 135.7L128.6 135.7Z" fill="#2222f4" stroke="#1010c4" stroke-width="0.6"/>
<path d="M169.1 119.6L172.9 126.1L165.2 126.1Z" fill="#2222f4" stroke="#1010c4" stroke-width="0.6"/>
<path d="M131.4 140.8L135.3 147.3L127.6 147.3Z" fill="#2222f4" stroke="#1010c4" stroke-width="0.6"/>
<path d="M133.0 132.1L136.8 138.6L129.1 138.6Z" fill="#2222f4" stroke="#1010c4" stroke-width="0.6"/>
<path d="M127.7 113.0L131.6 119.5L123.9 119.5Z" fill="#2222f4" stroke="#1010c4" stroke-width="0.6"/>
<path d="M135.8 119.4L139.7 125.9L132.0 125.9Z" fill="#2222f4" stroke="#1010c4" stroke-width="0.6"/>
<path d="M165.1 142.1L169.0 148.6L161.3 148.6Z" fill="#2222f4" stroke="#1010c4" stroke-width="0.6"/>
<path d="M169.5 133.3L173.4 139.8L165.7 139.8Z" fill="#2222f4" stroke="#1010c4" stroke-width="0.6"/>
<path d="M120.4 148.0L124.3 154.5L116.6 154.5Z" fill="#2222f4" stroke="#1010c4" stroke-width="0.6"/>
<path d="M131.9 112.1L135.7 118.5L128.0 118.5Z" fill="#2222f4" stroke="#1010c4" stroke-width="0.6"/>
<path d="M140.6 121.2L144.4 127.7L136.7 127.7Z" fill="#2222f4" stroke="#1010c4" stroke-width="0.6"/>
<path d="M141.7 106.6L145.6 113.1L137.9 113.1Z" fill="#2222f4" stroke="#1010c4" stroke-width="0.6"/>
<path d="M138.3 149.8L142.2 156.3L134.5 156.3Z" fill="#2222f4" stroke="#1010c4" stroke-width="0.6"/>
<path d="M141.2 116.6L145.0 123.1L137.3 123.1Z" fill="#2222f4" stroke="#1010c4" stroke-width="0.6"/>
<path d="M155.9 146.6L159.8 153.0L152.1 153.0Z" fill="#2222f4" stroke="#1010c4" stroke-width="0.6"/>
<path d="M124.8 144.8L128.6 151.3L120.9 151.3Z" fill="#2222f4" stroke="#1010c4" stroke-width="0.6"/>
<path d="M124.4 142.4L128.2 148.9L120.5 148.9Z" fill="#2222f4" stroke="#1010c4" stroke-width="0.6"/>
<path d="M140.7 105.6L144.5 112.1L136.8 112.1Z" fill="#2222f4" stroke="#1010c4" stroke-width="0.6"/>
<path d="M136.2 109.7L140.0 116.2L132.3 116.2Z" fill="#2222f4" stroke="#1010c4" stroke-width="0.6"/>
<path d="M123.5 132.4L127.3 138.9L119.6 138.9Z" fill="#2222f4" stroke="#1010c4" stroke-width="0.6"/>
<path d="M152.3 135.1L156.1 141.6L148.4 141.6Z" fill="#2222f4" stroke="#1010c4" stroke-width="0.6"/>
<path d="M167.6 132.4L171.4 138.9L163.7 138.9Z" fill="#2222f4" stroke="#1010c4" stroke-width="0.6"/>
<path d="M136.3 147.8L140.2 154.3L132.5 154.3Z" fill="#2222f4" stroke="#1010c4" stroke-width="0.6"/>
<path d="M178.8 130.9L182.6 137.4L174.9 137.4Z" fill="#2222f4" stroke="#1010c4" stroke-width="0.6"/>
<path d="M126.1 119.5L129.9 125.9L122.2 125.9Z" fill="#2222f4" stroke="#1010c4" stroke-width="0.6"/>
<path d="M154.2 117.1L158.1 123.6L150.4 123.6Z" fill="#2222f4" stroke="#1010c4" stroke-width="0.6"/>
<path d="M146.7 137.4L150.6 143.9L142.9 143.9Z" fill="#2222f4" stroke="#1010c4" stroke-width="0.6"/>
<path d="M173.4 128.3L177.2 134.8L169.5 134.8Z" fill="#2222f4" stroke="#1010c4" stroke-width="0.6"/>
<path d="M167.6 124.1L171.5 130.6L163.8 130.6Z" fill="#2222f4" stroke="#1010c4" stroke-width="0.6"/>
<path d="M126.9 146.2L130.8 152.7L123.1 152.7Z" fill="#2222f4" stroke="#1010c4" stroke-width="0.6"/>
<path d="M130.2 150.4L134.0 156.8L126.3 156.8Z" fill="#2222f4" stroke="#1010c4" stroke-width="0.6"/>
<path d="M149.4 140.7L153.3 147.2L145.6 147.2Z" fill="#2222f4" stroke="#1010c4" stroke-width="0.6"/>
<path d="M147.1 109.7L150.9 116.2L143.2 116.2Z" fill="#2222f4" stroke="#1010c4" stroke-width="0.6"/>
<path d="M157.7 122.0L161.5 128.5L153.8 128.5Z" fill="#2222f4" stroke="#1010c4" stroke-width="0.6"/>
<path d="M147.6 138.8L151.5 145.3L143.8 145.3Z" fill="#2222f4" stroke="#1010c4" stroke-width="0.6"/>
<path d="M136.9 121.2L140.7 127.7L133.0 127.7Z" fill="#2222f4" stroke="#1010c4" stroke-width="0.6"/>
<path d="M176.0 136.0L179.8 142.5L172.1 142.5Z" fill="#2222f4" stroke="#1010c4" stroke-width="0.6"/>
<path d="M143.8 133.3L147.6 139.8L139.9 139.8Z" fill="#2222f4" stroke="#1010c4" stroke-width="0.6"/>
<path d="M146.8 119.6L150.6 126.1L142.9 126.1Z" fill="#2222f4" stroke="#1010c4" stroke-width="0.6"/>
<path d="M134.9 109.0L138.8 115.4L131.1 115.4Z" fill="#2222f4" stroke="#1010c4" stroke-width="0.6"/>
<path d="M164.9 113.2L168.8 119.7L161.1 119.7Z" fill="#2222f4" stroke="#1010c4" stroke-width="0.6"/>
<path d="M155.3 108.1L159.1 114.6L151.4 114.6Z" fill="#2222f4" stroke="#1010c4" stroke-width="0.6"/>
<path d="M121.7 143.0L125.5 149.5L117.8 149.5Z" fill="#2222f4" stroke="#1010c4" stroke-width="0.6"/>
<path d="M139.0 134.6L142.8 141.0L135.1 141.0Z" fill="#2222f4" stroke="#1010c4" stroke-width="0.6"/>
<path d="M150.5 122.7L154.3 129.1L146.6 129.1Z" fill="#2222f4" stroke="#1010c4" stroke-width="0.6"/>
<path d="M133.6 135.5L137.4 142.0L129.7 142.0Z" fill="#2222f4" stroke="#1010c4" stroke-width="0.6"/>
<path d="M158.6 128.2L162.5 134.6L154.8 134.6Z" fill="#2222f4" stroke="#1010c4" stroke-width="0.6"/>
<path d="M148.2 140.0L152.1 146.4L144.4 146.4Z" fill="#2222f4" stroke="#1010c4" stroke-width="0.6"/>
<path d="M145.5 103.3L149.4 109.8L141.7 109.8Z" fill="#2222f4" stroke="#1010c4" stroke-width="0.6"/>
<path d="M170.2 113.2L174.0 119.6L166.3 119.6Z" fill="#2222f4" stroke="#1010c4" stroke-width="0.6"/>
<path d="M149.8 125.8L153.6 132.3L145.9 132.3Z" fill="#2222f4" stroke="#1010c4" stroke-width="0.6"/>
<path d="M148.8 129.5L152.7 136.0L145.0 136.0Z" fill="#2222f4" stroke="#1010c4" stroke-width="0.6"/>
<path d="M149.7 120.3L153.6 126.7L145.9 126.7Z" fill="#2222f4" stroke="#1010c4" stroke-width="0.6"/>
<path d="M128.6 111.9L132.4 118.4L124.7 118.4Z" fill="#2222f4" stroke="#1010c4" stroke-width="0.6"/>
<path d="M171.2 117.7L175.1 124.2L167.4 124.2Z" fill="#2222f4" stroke="#1010c4" stroke-width="0.6"/>
<path d="M179.3 140.2L183.2 146.6L175.5 146.6Z" fill="#2222f4" stroke="#1010c4" stroke-width="0.6"/>
<path d="M119.5 141.7L123.3 148.1L115.6 148.1Z" fill="#2222f4" stroke="#1010c4" stroke-width="0.6"/>
<path d="M175.1 118.2L179.0 124.6L171.3 124.6Z" fill="#2222f4" stroke="#1010c4" stroke-width="0.6"/>
<path d="M127.8 143.5L131.7 149.9L124.0 149.9Z" fill="#2222f4" stroke="#1010c4" stroke-width="0.6"/>
<path d="M158.0 106.0L161.8 112.4L154.1 112.4Z" fill="#2222f4" stroke="#1010c4" stroke-width="0.6"/>
<path d="M159.1 130.1L162.9 136.6L155.2 136.6Z" fill="#2222f4" stroke="#1010c4" stroke-width="0.6"/>
<path d="M141.5 121.0L145.4 127.5L137.7 127.5Z" fill="#2222f4" stroke="#1010c4" stroke-width="0.6"/>
<path d="M169.9 112.8L173.8 119.2L166.1 119.2Z" fill="#2222f4" stroke="#1010c4" stroke-width="0.6"/>
<path d="M160.1 148.8L164.0 155.3L156.3 155.3Z" fill="#2222f4" stroke="#1010c4" stroke-width="0.6"/>
<path d="M162.9 131.7L166.8 138.2L159.1 138.2Z" fill="#2222f4" stroke="#1010c4" stroke-width="0.6"/>
<path d="M136.8 115.7L140.7 122.2L133.0 122.2Z" fill="#2222f4" stroke="#1010c4" stroke-width="0.6"/>
<path d="M127.9 140.4L131.8 146.9L124.1 146.9Z" fill="#2222f4" stroke="#1010c4" stroke-width="0.6"/>
<path d="M180.7 138.5L184.5 145.0L176.8 145.0Z" fill="#2222f4" stroke="#1010c4" stroke-width="0.6"/>
<path d="M138.0 116.1L141.8 122.6L134.1 122.6Z" fill="#2222f4" stroke="#1010c4" stroke-width="0.6"/>
<path d="M151.1 129.8L154.9 136.3L147.2 136.3Z" fill="#2222f4" stroke="#1010c4" stroke-width="0.6"/>
<path d="M151.9 128.9L155.8 135.3L148.1 135.3Z" fill="#2222f4" stroke="#1010c4" stroke-width="0.6"/>
<path d="M166.4 114.2L170.2 120.6L162.5 120.6Z" fill="#2222f4" stroke="#1010c4" stroke-width="0.6"/>
<path d="M128.7 136.0L132.6 142.4L124.9 142.4Z" fill="#2222f4" stroke="#1010c4" stroke-width="0.6"/>
<path d="M131.7 119.3L135.5 125.8L127.8 125.8Z" fill="#2222f4" stroke="#1010c4" stroke-width="0.6"/>
<path d="M139.5 132.4L143.4 138.9L135.7 138.9Z" fill="#2222f4" stroke="#1010c4" stroke-width="0.6"/>
<path d="M180.5 139.9L184.3 146.3L176.6 146.3Z" fill="#2222f4" stroke="#1010c4" stroke-width="0.6"/>
<path d="M143.6 124.5L147.4 131.0L139.7 131.0Z" fill="#2222f4" stroke="#1010c4" stroke-width="0.6"/>
<path d="M131.2 128.9L135.1 135.4L127.4 135.4Z" fill="#2222f4" stroke="#1010c4" stroke-width="0.6"/>
<path d="M144.9 142.9L148.7 149.4L141.0 149.4Z" fill="#2222f4" stroke="#1010c4" stroke-width="0.6"/>
<path d="M167.6 134.3L171.5 140.8L163.8 140.8Z" fill="#2222f4" stroke="#1010c4" stroke-width="0.6"/>
<path d="M151.4 110.2L155.3 116.7L147.6 116.7Z" fill="#2222f4" stroke="#1010c4" stroke-width="0.6"/>
<path d="M125.4 134.0L129.2 140.5L121.5 140.5Z" fill="#2222f4" stroke="#1010c4" stroke-width="0.6"/>
<path d="M133.8 145.1L137.7 151.6L130.0 151.6Z" fill="#2222f4" stroke="#1010c4" stroke-width="0.6"/>
<path d="M165.1 118.7L169.0 125.2L161.3 125.2Z" fill="#2222f4" stroke="#1010c4" stroke-width="0.6"/>
<path d="M167.9 140.4L171.8 146.9L164.1 146.9Z" fill="#2222f4" stroke="#1010c4" stroke-width="0.6"/>
<path d="M163.7 127.8L167.6 134.3L159.9 134.3Z" fill="#2222f4" stroke="#1010c4" stroke-width="0.6"/>
<path d="M144.8 104.7L148.7 111.2L141.0 111.2Z" fill="#2222f4" stroke="#1010c4" stroke-width="0.6"/>
<path d="M162.9 126.5L166.8 133.0L159.1 133.0Z" fill="#2222f4" stroke="#1010c4" stroke-width="0.6"/>
<path d="M123.8 125.7L127.7 132.2L120.0 132.2Z" fill="#2222f4" stroke="#1010c4" stroke-width="0.6"/>
<path d="M154.5 146.7L158.4 153.2L150.7 153.2Z" fill="#2222f4" stroke="#1010c4" stroke-width="0.6"/>
<path d="M142.8 140.5L146.7 147.0L139.0 147.0Z" fill="#2222f4" stroke="#1010c4" stroke-width="0.6"/>
<path d="M162.0 138.3L165.9 144.7L158.2 144.7Z" fill="#2222f4" stroke="#1010c4" stroke-width="0.6"/>
<path d="M147.3 104.7L151.2 111.1L143.5 111.1Z" fill="#2222f4" stroke="#1010c4" stroke-width="0.6"/>
<path d="M148.6 136.4L152.4 142.9L144.7 142.9Z" fill="#2222f4" stroke="#1010c4" stroke-width="0.6"/>
<path d="M123.3 117.7L127.1 124.2L119.4 124.2Z" fill="#2222f4" stroke="#1010c4" stroke-width="0.6"/>
<path d="M150.1 124.7L154.0 131.2L146.3 131.2Z" fill="#2222f4" stroke="#1010c4" stroke-width="0.6"/>
<path d="M132.8 149.8L136.6 156.3L128.9 156.3Z" fill="#2222f4" stroke="#1010c4" stroke-width="0.6"/>
<path d="M163.9 127.2L167.7 133.7L160.0 133.7Z" fill="#2222f4" stroke="#1010c4" stroke-width="0.6"/>
<path d="M140.2 126.5L144.1 133.0L136.4 133.0Z" fill="#2222f4" stroke="#1010c4" stroke-width="0.6"/>
<path d="M146.3 118.5L150.1 125.0L142.4 125.0Z" fill="#2222f4" stroke="#1010c4" stroke-width="0.6"/>
<path d="M158.0 124.8L161.9 131.3L154.2 131.3Z" fill="#2222f4" stroke="#1010c4" stroke-width="0.6"/>
<path d="M136.0 148.6L139.8 155.1L132.1 155.1Z" fill="#2222f4" stroke="#1010c4" stroke-width="0.6"/>
<path d="M146.4 128.9L150.3 135.4L142.6 135.4Z" fill="#2222f4" stroke="#1010c4" stroke-width="0.6"/>
<path d="M175.7 127.7L179.5 134.1L171.8 134.1Z" fill="#2222f4" stroke="#1010c4" stroke-width="0.6"/>
<path d="M142.7 141.9L146.5 148.4L138.8 148.4Z" fill="#2222f4" stroke="#1010c4" stroke-width="0.6"/>
<path d="M166.1 117.2L170.0 123.7L162.3 123.7Z" fill="#2222f4" stroke="#1010c4" stroke-width="0.6"/>
<path d="M160.2 141.8L164.1 148.2L156.4 148.2Z" fill="#2222f4" stroke="#1010c4" stroke-width="0.6"/>
<path d="M145.0 140.8L148.9 147.2L141.2 147.2Z" fill="#2222f4" stroke="#1010c4" stroke-width="0.6"/>
<path d="M130.6 148.5L134.4 154.9L126.7 154.9Z" fill="#2222f4" stroke="#1010c4" stroke-width="0.6"/>
<path d="M138.6 144.6L142.4 151.1L134.7 151.1Z" fill="#2222f4" stroke="#1010c4" stroke-width="0.6"/>
<path d="M167.9 114.8L171.7 121.3L164.0 121.3Z" fill="#2222f4" stroke="#1010c4" stroke-width="0.6"/>
<path d="M157.3 112.3L161.2 118.7L153.5 118.7Z" fill="#2222f4" stroke="#1010c4" stroke-width="0.6"/>
<path d="M119.1 136.1L123.0 142.6L115.3 142.6Z" fill="#2222f4" stroke="#1010c4" stroke-width="0.6"/>
<path d="M142.0 136.6L145.8 143.1L138.1 143.1Z" fill="#2222f4" stroke="#1010c4" stroke-width="0.6"/>
<path d="M166.5 135.9L170.4 142.3L162.7 142.3Z" fill="#2222f4" stroke="#1010c4" stroke-width="0.6"/>
<path d="M132.4 144.2L136.2 150.6L128.5 150.6Z" fill="#2222f4" stroke="#1010c4" stroke-width="0.6"/>
<path d="M153.7 133.6L157.6 140.0L149.9 140.0Z" fill="#2222f4" stroke="#1010c4" stroke-width="0.6"/>
<path d="M168.9 119.1L172.7 125.6L165.0 125.6Z" fill="#2222f4" stroke="#1010c4" stroke-width="0.6"/>
<path d="M133.9 135.1L137.8 141.6L130.1 141.6Z" fill="#2222f4" stroke="#1010c4" stroke-width="0.6"/>
<path d="M151.5 130.3L155.3 136.8L147.6 136.8Z" fill="#2222f4" stroke="#1010c4" stroke-width="0.6"/>
<path d="M126.5 138.9L130.4 145.4L122.7 145.4Z" fill="#2222f4" stroke="#1010c4" stroke-width="0.6"/>
<path d="M176.6 141.4L180.5 147.9L172.8 147.9Z" fill="#2222f4" stroke="#1010c4" stroke-width="0.6"/>
<path d="M144.0 107.3L147.8 113.7L140.1 113.7Z" fill="#2222f4" stroke="#1010c4" stroke-width="0.6"/>
<path d="M156.8 128.0L160.7 134.5L153.0 134.5Z" fill="#2222f4" stroke="#1010c4" stroke-width="0.6"/>
<path d="M139.3 147.7L143.2 154.2L135.5 154.2Z" fill="#2222f4" stroke="#1010c4" stroke-width="0.6"/>
<path d="M162.7 143.2L166.6 149.7L158.9 149.7Z" fill="#2222f4" stroke="#1010c4" stroke-width="0.6"/>
<path d="M172.2 122.8L176.0 129.2L168.3 129.2Z" fill="#2222f4" stroke="#1010c4" stroke-width="0.6"/>
<path d="M133.9 121.3L137.7 127.8L130.0 127.8Z" fill="#2222f4" stroke="#1010c4" stroke-width="0.6"/>
<path d="M140.8 141.0L144.7 147.5L137.0 147.5Z" fill="#2222f4" stroke="#1010c4" stroke-width="0.6"/>
<path d="M125.3 118.2L129.1 124.7L121.4 124.7Z" fill="#2222f4" stroke="#1010c4" stroke-width="0.6"/>
<path d="M132.2 109.4L136.1 115.9L128.4 115.9Z" fill="#2222f4" stroke="#1010c4" stroke-width="0.6"/>
<path d="M133.2 129.9L137.1 136.4L129.4 136.4Z" fill="#2222f4" stroke="#1010c4" stroke-width="0.6"/>
<path d="M129.6 144.1L133.4 150.5L125.7 150.5Z" fill="#2222f4" stroke="#1010c4" stroke-width="0.6"/>
<path d="M163.3 119.9L167.1 126.4L159.4 126.4Z" fill="#2222f4" stroke="#1010c4" stroke-width="0.6"/>
<path d="M147.7 118.4L151.6 124.8L143.9 124.8Z" fill="#2222f4" stroke="#1010c4" stroke-width="0.6"/>
<path d="M154.3 137.9L158.2 144.3L150.5 144.3Z" fill="#2222f4" stroke="#1010c4" stroke-width="0.6"/>
<path d="M130.4 138.5L134.2 145.0L126.5 145.0Z" fill="#2222f4" stroke="#1010c4" stroke-width="0.6"/>
<path d="M138.5 126.7L142.4 133.2L134.7 133.2Z" fill="#2222f4" stroke="#1010c4" stroke-width="0.6"/>
<path d="M178.2 142.3L182.0 148.8L174.3 148.8Z" fill="#2222f4" stroke="#1010c4" stroke-width="0.6"/>
<path d="M126.8 121.1L130.7 127.6L123.0 127.6Z" fill="#2222f4" stroke="#1010c4" stroke-width="0.6"/>
<path d="M216.6 112.5L220.4 118.9L212.7 118.9Z" fill="#2222f4" stroke="#1010c4" stroke-width="0.6"/>
<path d="M189.7 121.4L193.5 127.8L185.8 127.8Z" fill="#2222f4" stroke="#1010c4" stroke-width="0.6"/>
<path d="M189.8 142.6L193.7 149.1L186.0 149.1Z" fill="#2222f4" stroke="#1010c4" stroke-width="0.6"/>
<path d="M207.4 134.5L211.3 141.0L203.6 141.0Z" fill="#2222f4" stroke="#1010c4" stroke-width="0.6"/>
<path d="M210.6 151.2L214.5 157.7L206.8 157.7Z" fill="#2222f4" stroke="#1010c4" stroke-width="0.6"/>
<path d="M186.9 115.9L190.7 122.3L183.0 122.3Z" fill="#2222f4" stroke="#1010c4" stroke-width="0.6"/>
<path d="M214.4 141.2L218.2 147.7L210.5 147.7Z" fill="#2222f4" stroke="#1010c4" stroke-width="0.6"/>
<path d="M195.1 127.5L198.9 134.0L191.2 134.0Z" fill="#2222f4" stroke="#1010c4" stroke-width="0.6"/>
<path d="M193.2 133.2L197.0 139.7L189.3 139.7Z" fill="#2222f4" stroke="#1010c4" stroke-width="0.6"/>
<path d="M196.9 121.1L200.8 127.6L193.1 127.6Z" fill="#2222f4" stroke="#1010c4" stroke-width="0.6"/>
<path d="M190.9 117.0L194.8 123.5L187.1 123.5Z" fill="#2222f4" stroke="#1010c4" stroke-width="0.6"/>
<path d="M194.4 135.0L198.2 141.5L190.5 141.5Z" fill="#2222f4" stroke="#1010c4" stroke-width="0.6"/>
<path d="M224.4 127.6L228.2 134.1L220.5 134.1Z" fill="#2222f4" stroke="#1010c4" stroke-width="0.6"/>
<path d="M205.7 118.2L209.5 124.7L201.8 124.7Z" fill="#2222f4" stroke="#1010c4" stroke-width="0.6"/>
<path d="M211.9 139.1L215.7 145.5L208.0 145.5Z" fill="#2222f4" stroke="#1010c4" stroke-width="0.6"/>
<path d="M215.8 129.5L219.6 136.0L211.9 136.0Z" fill="#2222f4" stroke="#1010c4" stroke-width="0.6"/>
<path d="M200.1 122.9L204.0 129.4L196.3 129.4Z" fill="#2222f4" stroke="#1010c4" stroke-width="0.6"/>
<path d="M205.2 127.6L209.1 134.1L201.4 134.1Z" fill="#2222f4" stroke="#1010c4" stroke-width="0.6"/>
<path d="M206.6 131.5L210.5 138.0L202.8 138.0Z" fill="#2222f4" stroke="#1010c4" stroke-width="0.6"/>
<path d="M221.6 136.7L225.4 143.2L217.7 143.2Z" fill="#2222f4" stroke="#1010c4" stroke-width="0.6"/>
<path d="M193.0 111.0L196.8 117.5L189.1 117.5Z" fill="#2222f4" stroke="#1010c4" stroke-width="0.6"/>
<path d="M215.3 141.0L219.1 147.5L211.4 147.5Z" fill="#2222f4" stroke="#1010c4" stroke-width="0.6"/>
<path d="M218.7 126.8L222.5 133.3L214.8 133.3Z" fill="#2222f4" stroke="#1010c4" stroke-width="0.6"/>
<path d="M199.3 132.7L203.1 139.1L195.4 139.1Z" fill="#2222f4" stroke="#1010c4" stroke-width="0.6"/>
<path d="M181.2 114.3L185.0 120.8L177.3 120.8Z" fill="#2222f4" stroke="#1010c4" stroke-width="0.6"/>
<path d="M205.8 118.1L209.7 124.6L202.0 124.6Z" fill="#2222f4" stroke="#1010c4" stroke-width="0.6"/>
<path d="M225.3 130.5L229.1 137.0L221.4 137.0Z" fill="#2222f4" stroke="#1010c4" stroke-width="0.6"/>
<path d="M185.3 122.9L189.2 129.3L181.5 129.3Z" fill="#2222f4" stroke="#1010c4" stroke-width="0.6"/>
<path d="M212.8 106.1L216.7 112.6L209.0 112.6Z" fill="#2222f4" stroke="#1010c4" stroke-width="0.6"/>
<path d="M201.4 145.2L205.2 151.7L197.5 151.7Z" fill="#2222f4" stroke="#1010c4" stroke-width="0.6"/>
<path d="M210.1 134.4L214.0 140.9L206.3 140.9Z" fill="#2222f4" stroke="#1010c4" stroke-width="0.6"/>
<path d="M186.7 127.3L190.5 133.8L182.8 133.8Z" fill="#2222f4" stroke="#1010c4" stroke-width="0.6"/>
<path d="M227.4 140.0L231.3 146.4L223.6 146.4Z" fill="#2222f4" stroke="#1010c4" stroke-width="0.6"/>
<path d="M189.1 126.3L193.0 132.8L185.3 132.8Z" fill="#2222f4" stroke="#1010c4" stroke-width="0.6"/>
<path d="M207.4 119.7L211.3 126.2L203.6 126.2Z" fill="#2222f4" stroke="#1010c4" stroke-width="0.6"/>
<path d="M209.4 137.4L213.2 143.9L205.5 143.9Z" fill="#2222f4" stroke="#1010c4" stroke-width="0.6"/>
<path d="M213.8 112.4L217.6 118.8L209.9 118.8Z" fill="#2222f4" stroke="#1010c4" stroke-width="0.6"/>
<path d="M208.3 105.6L212.1 112.1L204.4 112.1Z" fill="#2222f4" stroke="#1010c4" stroke-width="0.6"/>
<path d="M212.7 115.2L216.5 121.7L208.8 121.7Z" fill="#2222f4" stroke="#1010c4" stroke-width="0.6"/>
<path d="M222.6 142.9L226.5 149.4L218.8 149.4Z" fill="#2222f4" stroke="#1010c4" stroke-width="0.6"/>
<path d="M184.9 111.6L188.7 118.1L181.0 118.1Z" fill="#2222f4" stroke="#1010c4" stroke-width="0.6"/>
<path d="M195.0 115.1L198.8 121.5L191.1 121.5Z" fill="#2222f4" stroke="#1010c4" stroke-width="0.6"/>
<path d="M212.6 136.4L216.4 142.9L208.7 142.9Z" fill="#2222f4" stroke="#1010c4" stroke-width="0.6"/>
<path d="M208.5 122.5L212.4 128.9L204.7 128.9Z" fill="#2222f4" stroke="#1010c4" stroke-width="0.6"/>
<path d="M223.1 114.6L227.0 121.1L219.3 121.1Z" fill="#2222f4" stroke="#1010c4" stroke-width="0.6"/>
<path d="M217.0 110.6L220.9 117.1L213.2 117.1Z" fill="#2222f4" stroke="#1010c4" stroke-width="0.6"/>
<path d="M190.4 116.2L194.3 122.7L186.6 122.7Z" fill="#2222f4" stroke="#1010c4" stroke-width="0.6"/>
<path d="M228.4 140.0L232.2 146.4L224.5 146.4Z" fill="#2222f4" stroke="#1010c4" stroke-width="0.6"/>
<path d="M190.3 116.9L194.1 123.4L186.4 123.4Z" fill="#2222f4" stroke="#1010c4" stroke-width="0.6"/>
<path d="M224.3 141.5L228.1 148.0L220.4 148.0Z" fill="#2222f4" stroke="#1010c4" stroke-width="0.6"/>
<path d="M212.2 122.5L216.0 129.0L208.3 129.0Z" fill="#2222f4" stroke="#1010c4" stroke-width="0.6"/>
<path d="M217.2 129.1L221.0 135.6L213.3 135.6Z" fill="#2222f4" stroke="#1010c4" stroke-width="0.6"/>
<path d="M198.5 131.4L202.4 137.8L194.7 137.8Z" fill="#2222f4" stroke="#1010c4" stroke-width="0.6"/>
<path d="M195.5 108.4L199.3 114.9L191.6 114.9Z" fill="#2222f4" stroke="#1010c4" stroke-width="0.6"/>
<path d="M210.2 154.4L214.0 160.9L206.3 160.9Z" fill="#2222f4" stroke="#1010c4" stroke-width="0.6"/>
<path d="M187.1 129.5L191.0 136.0L183.3 136.0Z" fill="#2222f4" stroke="#1010c4" stroke-width="0.6"/>
<path d="M205.0 145.4L208.8 151.9L201.1 151.9Z" fill="#2222f4" stroke="#1010c4" stroke-width="0.6"/>
<path d="M208.6 113.8L212.5 120.3L204.8 120.3Z" fill="#2222f4" stroke="#1010c4" stroke-width="0.6"/>
<path d="M187.6 143.0L191.5 149.5L183.8 149.5Z" fill="#2222f4" stroke="#1010c4" stroke-width="0.6"/>
<path d="M203.2 150.1L207.0 156.6L199.3 156.6Z" fill="#2222f4" stroke="#1010c4" stroke-width="0.6"/>
<path d="M211.7 144.2L215.5 150.7L207.8 150.7Z" fill="#2222f4" stroke="#1010c4" stroke-width="0.6"/>
<path d="M219.6 142.8L223.5 149.3L215.8 149.3Z" fill="#2222f4" stroke="#1010c4" stroke-width="0.6"/>
<path d="M185.3 109.2L189.1 115.7L181.4 115.7Z" fill="#2222f4" stroke="#1010c4" stroke-width="0.6"/>
<path d="M226.1 122.4L230.0 128.8L222.3 128.8Z" fill="#2222f4" stroke="#1010c4" stroke-width="0.6"/>
<path d="M224.4 135.6L228.2 142.1L220.5 142.1Z" fill="#2222f4" stroke="#1010c4" stroke-width="0.6"/>
<path d="M183.3 116.7L187.2 123.2L179.5 123.2Z" fill="#2222f4" stroke="#1010c4" stroke-width="0.6"/>
<path d="M187.7 106.2L191.5 112.7L183.8 112.7Z" fill="#2222f4" stroke="#1010c4" stroke-width="0.6"/>
<path d="M188.2 137.9L192.1 144.4L184.4 144.4Z" fill="#2222f4" stroke="#1010c4" stroke-width="0.6"/>
<path d="M186.4 109.6L190.3 116.1L182.6 116.1Z" fill="#2222f4" stroke="#1010c4" stroke-width="0.6"/>
<path d="M207.0 122.0L210.8 128.5L203.1 128.5Z" fill="#2222f4" stroke="#1010c4" stroke-width="0.6"/>
<path d="M185.4 133.6L189.2 140.1L181.5 140.1Z" fill="#2222f4" stroke="#1010c4" stroke-width="0.6"/>
<path d="M205.4 122.8L209.3 129.3L201.6 129.3Z" fill="#2222f4" stroke="#1010c4" stroke-width="0.6"/>
<path d="M211.4 111.1L215.3 117.6L207.6 117.6Z" fill="#2222f4" stroke="#1010c4" stroke-width="0.6"/>
<path d="M226.7 134.8L230.6 141.2L222.9 141.2Z" fill="#2222f4" stroke="#1010c4" stroke-width="0.6"/>
<path d="M199.0 132.0L202.8 138.5L195.1 138.5Z" fill="#2222f4" stroke="#1010c4" stroke-width="0.6"/>
<path d="M198.5 142.0L202.3 148.5L194.6 148.5Z" fill="#2222f4" stroke="#1010c4" stroke-width="0.6"/>
<path d="M197.8 141.9L201.7 148.4L194.0 148.4Z" fill="#2222f4" stroke="#1010c4" stroke-width="0.6"/>
<path d="M192.9 117.1L196.8 123.5L189.1 123.5Z" fill="#2222f4" stroke="#1010c4" stroke-width="0.6"/>
<path d="M187.4 123.1L191.2 129.6L183.5 129.6Z" fill="#2222f4" stroke="#1010c4" stroke-width="0.6"/>
<path d="M197.3 135.8L201.1 142.3L193.4 142.3Z" fill="#2222f4" stroke="#1010c4" stroke-width="0.6"/>
<path d="M209.3 152.9L213.2 159.4L205.5 159.4Z" fill="#2222f4" stroke="#1010c4" stroke-width="0.6"/>
<path d="M185.0 123.7L188.9 130.2L181.2 130.2Z" fill="#2222f4" stroke="#1010c4" stroke-width="0.6"/>
<path d="M208.6 107.4L212.4 113.9L204.7 113.9Z" fill="#2222f4" stroke="#1010c4" stroke-width="0.6"/>
<path d="M212.2 116.3L216.1 122.8L208.4 122.8Z" fill="#2222f4" stroke="#1010c4" stroke-width="0.6"/>
<path d="M195.1 135.9L198.9 142.4L191.2 142.4Z" fill="#2222f4" stroke="#1010c4" stroke-width="0.6"/>
<path d="M187.7 126.4L191.6 132.8L183.9 132.8Z" fill="#2222f4" stroke="#1010c4" stroke-width="0.6"/>
<path d="M191.7 121.4L195.6 127.9L187.9 127.9Z" fill="#2222f4" stroke="#1010c4" stroke-width="0.6"/>
<path d="M215.9 110.9L219.7 117.4L212.0 117.4Z" fill="#2222f4" stroke="#1010c4" stroke-width="0.6"/>
<path d="M208.2 119.9L212.0 126.3L204.3 126.3Z" fill="#2222f4" stroke="#1010c4" stroke-width="0.6"/>
<path d="M217.1 113.4L220.9 119.9L213.2 119.9Z" fill="#2222f4" stroke="#1010c4" stroke-width="0.6"/>
<path d="M204.0 142.9L207.8 149.3L200.1 149.3Z" fill="#2222f4" stroke="#1010c4" stroke-width="0.6"/>
<path d="M200.6 118.6L204.4 125.0L196.7 125.0Z" fill="#2222f4" stroke="#1010c4" stroke-width="0.6"/>
<path d="M199.3 118.3L203.1 124.7L195.4 124.7Z" fill="#2222f4" stroke="#1010c4" stroke-width="0.6"/>
<path d="M218.5 127.3L222.4 133.8L214.7 133.8Z" fill="#2222f4" stroke="#1010c4" stroke-width="0.6"/>
<path d="M215.4 108.6L219.2 115.1L211.5 115.1Z" fill="#2222f4" stroke="#1010c4" stroke-width="0.6"/>
<path d="M188.4 136.5L192.2 143.0L184.5 143.0Z" fill="#2222f4" stroke="#1010c4" stroke-width="0.6"/>
<path d="M200.2 110.5L204.0 117.0L196.3 117.0Z" fill="#2222f4" stroke="#1010c4" stroke-width="0.6"/>
<path d="M217.9 133.8L221.8 140.3L214.1 140.3Z" fill="#2222f4" stroke="#1010c4" stroke-width="0.6"/>
<path d="M223.2 140.5L227.0 147.0L219.3 147.0Z" fill="#2222f4" stroke="#1010c4" stroke-width="0.6"/>
<path d="M207.7 150.9L211.5 157.3L203.8 157.3Z" fill="#2222f4" stroke="#1010c4" stroke-width="0.6"/>
<path d="M206.8 107.2L210.6 113.7L202.9 113.7Z" fill="#2222f4" stroke="#1010c4" stroke-width="0.6"/>
<path d="M210.8 149.0L214.6 155.4L206.9 155.4Z" fill="#2222f4" stroke="#1010c4" stroke-width="0.6"/>
<path d="M214.6 143.2L218.4 149.7L210.7 149.7Z" fill="#2222f4" stroke="#1010c4" stroke-width="0.6"/>
<path d="M226.5 132.7L230.4 139.2L222.7 139.2Z" fill="#2222f4" stroke="#1010c4" stroke-width="0.6"/>
<path d="M209.6 151.3L213.4 157.8L205.7 157.8Z" fill="#2222f4" stroke="#1010c4" stroke-width="0.6"/>
<path d="M193.1 146.0L196.9 152.4L189.2 152.4Z" fill="#2222f4" stroke="#1010c4" stroke-width="0.6"/>
<path d="M212.4 127.6L216.3 134.1L208.6 134.1Z" fill="#2222f4" stroke="#1010c4" stroke-width="0.6"/>
<path d="M191.7 135.6L195.6 142.1L187.9 142.1Z" fill="#2222f4" stroke="#1010c4" stroke-width="0.6"/>
<path d="M205.5 130.1L209.4 136.6L201.7 136.6Z" fill="#2222f4" stroke="#1010c4" stroke-width="0.6"/>
<path d="M211.0 140.4L214.8 146.9L207.1 146.9Z" fill="#2222f4" stroke="#1010c4" stroke-width="0.6"/>
<path d="M193.2 126.8L197.1 133.3L189.4 133.3Z" fill="#2222f4" stroke="#1010c4" stroke-width="0.6"/>
<path d="M205.3 147.7L209.2 154.2L201.5 154.2Z" fill="#2222f4" stroke="#1010c4" stroke-width="0.6"/>
<path d="M199.1 154.7L202.9 161.2L195.2 161.2Z" fill="#2222f4" stroke="#1010c4" stroke-width="0.6"/>
<path d="M204.1 123.4L208.0 129.9L200.3 129.9Z" fill="#2222f4" stroke="#1010c4" stroke-width="0.6"/>
<path d="M203.9 120.9L207.7 127.4L200.0 127.4Z" fill="#2222f4" stroke="#1010c4" stroke-width="0.6"/>
<path d="M215.0 108.5L218.8 115.0L211.1 115.0Z" fill="#2222f4" stroke="#1010c4" stroke-width="0.6"/>
<path d="M185.4 124.9L189.2 131.4L181.5 131.4Z" fill="#2222f4" stroke="#1010c4" stroke-width="0.6"/>
<path d="M210.7 145.3L214.6 151.8L206.9 151.8Z" fill="#2222f4" stroke="#1010c4" stroke-width="0.6"/>
<path d="M201.9 117.2L205.7 123.7L198.0 123.7Z" fill="#2222f4" stroke="#1010c4" stroke-width="0.6"/>
<path d="M197.6 152.8L201.5 159.3L193.8 159.3Z" fill="#2222f4" stroke="#1010c4" stroke-width="0.6"/>
<path d="M226.6 128.5L230.5 135.0L222.8 135.0Z" fill="#2222f4" stroke="#1010c4" stroke-width="0.6"/>
<path d="M184.4 107.7L188.3 114.1L180.6 114.1Z" fill="#2222f4" stroke="#1010c4" stroke-width="0.6"/>
<path d="M226.9 144.4L230.7 150.9L223.0 150.9Z" fill="#2222f4" stroke="#1010c4" stroke-width="0.6"/>
<path d="M189.0 126.3L192.8 132.7L185.1 132.7Z" fill="#2222f4" stroke="#1010c4" stroke-width="0.6"/>
<path d="M229.4 119.6L233.2 126.1L225.5 126.1Z" fill="#2222f4" stroke="#1010c4" stroke-width="0.6"/>
<path d="M185.1 146.3L188.9 152.8L181.2 152.8Z" fill="#2222f4" stroke="#1010c4" stroke-width="0.6"/>
<path d="M213.5 127.7L217.4 134.2L209.7 134.2Z" fill="#2222f4" stroke="#1010c4" stroke-width="0.6"/>
<path d="M210.8 127.7L214.6 134.2L206.9 134.2Z" fill="#2222f4" stroke="#1010c4" stroke-width="0.6"/>
<path d="M193.9 154.5L197.7 161.0L190.0 161.0Z" fill="#2222f4" stroke="#1010c4" stroke-width="0.6"/>
<path d="M188.7 138.1L192.5 144.6L184.8 144.6Z" fill="#2222f4" stroke="#1010c4" stroke-width="0.6"/>
<path d="M194.9 142.9L198.8 149.4L191.1 149.4Z" fill="#2222f4" stroke="#1010c4" stroke-width="0.6"/>
<path d="M184.8 132.3L188.7 138.8L181.0 138.8Z" fill="#2222f4" stroke="#1010c4" stroke-width="0.6"/>
<path d="M190.9 132.6L194.8 139.1L187.1 139.1Z" fill="#2222f4" stroke="#1010c4" stroke-width="0.6"/>
<path d="M194.8 109.6L198.6 116.1L190.9 116.1Z" fill="#2222f4" stroke="#1010c4" stroke-width="0.6"/>
<path d="M218.6 145.1L222.5 151.5L214.8 151.5Z" fill="#2222f4" stroke="#1010c4" stroke-width="0.6"/>
<path d="M195.9 124.7L199.7 131.2L192.0 131.2Z" fill="#2222f4" stroke="#1010c4" stroke-width="0.6"/>
<path d="M216.0 143.2L219.9 149.6L212.2 149.6Z" fill="#2222f4" stroke="#1010c4" stroke-width="0.6"/>
<path d="M203.0 106.6L206.8 113.1L199.1 113.1Z" fill="#2222f4" stroke="#1010c4" stroke-width="0.6"/>
<path d="M223.3 129.3L227.1 135.8L219.4 135.8Z" fill="#2222f4" stroke="#1010c4" stroke-width="0.6"/>
<path d="M213.1 121.4L216.9 127.8L209.2 127.8Z" fill="#2222f4" stroke="#1010c4" stroke-width="0.6"/>
<path d="M197.7 110.1L201.5 116.5L193.8 116.5Z" fill="#2222f4" stroke="#1010c4" stroke-width="0.6"/>
<path d="M184.2 141.7L188.1 148.1L180.4 148.1Z" fill="#2222f4" stroke="#1010c4" stroke-width="0.6"/>
<path d="M210.5 136.3L214.3 142.8L206.6 142.8Z" fill="#2222f4" stroke="#1010c4" stroke-width="0.6"/>
<path d="M220.1 136.0L224.0 142.5L216.3 142.5Z" fill="#2222f4" stroke="#1010c4" stroke-width="0.6"/>
<path d="M199.8 138.4L203.6 144.9L195.9 144.9Z" fill="#2222f4" stroke="#1010c4" stroke-width="0.6"/>
<path d="M198.0 124.1L201.8 130.6L194.1 130.6Z" fill="#2222f4" stroke="#1010c4" stroke-width="0.6"/>
<path d="M197.5 138.3L201.4 144.8L193.7 144.8Z" fill="#2222f4" stroke="#1010c4" stroke-width="0.6"/>
<path d="M196.7 120.6L200.6 127.1L192.9 127.1Z" fill="#2222f4" stroke="#1010c4" stroke-width="0.6"/>
<path d="M198.6 138.1L202.5 144.5L194.8 144.5Z" fill="#2222f4" stroke="#1010c4" stroke-width="0.6"/>
<path d="M191.1 118.4L194.9 124.9L187.2 124.9Z" fill="#2222f4" stroke="#1010c4" stroke-width="0.6"/>
<path d="M228.6 117.7L232.4 124.1L224.7 124.1Z" fill="#2222f4" stroke="#1010c4" stroke-width="0.6"/>
<path d="M185.0 137.8L188.8 144.3L181.1 144.3Z" fill="#2222f4" stroke="#1010c4" stroke-width="0.6"/>
<path d="M191.3 145.0L195.1 151.5L187.4 151.5Z" fill="#2222f4" stroke="#1010c4" stroke-width="0.6"/>
<path d="M189.6 152.2L193.5 158.6L185.8 158.6Z" fill="#2222f4" stroke="#1010c4" stroke-width="0.6"/>
<path d="M196.8 127.9L200.6 134.4L192.9 134.4Z" fill="#2222f4" stroke="#1010c4" stroke-width="0.6"/>
<path d="M188.3 116.9L192.1 123.4L184.4 123.4Z" fill="#2222f4" stroke="#1010c4" stroke-width="0.6"/>
<path d="M200.8 116.2L204.6 122.7L196.9 122.7Z" fill="#2222f4" stroke="#1010c4" stroke-width="0.6"/>
<path d="M212.8 147.7L216.6 154.1L208.9 154.1Z" fill="#2222f4" stroke="#1010c4" stroke-width="0.6"/>
<path d="M195.3 111.0L199.1 117.5L191.4 117.5Z" fill="#2222f4" stroke="#1010c4" stroke-width="0.6"/>
<path d="M221.4 135.7L225.2 142.2L217.5 142.2Z" fill="#2222f4" stroke="#1010c4" stroke-width="0.6"/>
<path d="M210.5 118.7L214.4 125.1L206.7 125.1Z" fill="#2222f4" stroke="#1010c4" stroke-width="0.6"/>
<path d="M197.1 154.9L201.0 161.3L193.3 161.3Z" fill="#2222f4" stroke="#1010c4" stroke-width="0.6"/>
<path d="M225.6 134.0L229.5 140.4L221.8 140.4Z" fill="#2222f4" stroke="#1010c4" stroke-width="0.6"/>
<path d="M184.1 148.0L187.9 154.4L180.2 154.4Z" fill="#2222f4" stroke="#1010c4" stroke-width="0.6"/>
<path d="M182.0 132.9L185.9 139.4L178.2 139.4Z" fill="#2222f4" stroke="#1010c4" stroke-width="0.6"/>
<path d="M200.0 108.9L203.8 115.4L196.1 115.4Z" fill="#2222f4" stroke="#1010c4" stroke-width="0.6"/>
<path d="M219.4 138.2L223.3 144.7L215.6 144.7Z" fill="#2222f4" stroke="#1010c4" stroke-width="0.6"/>
<path d="M203.5 146.2L207.3 152.6L199.6 152.6Z" fill="#2222f4" stroke="#1010c4" stroke-width="0.6"/>
<path d="M214.5 109.0L218.3 115.5L210.6 115.5Z" fill="#2222f4" stroke="#1010c4" stroke-width="0.6"/>
<path d="M206.7 124.3L210.5 130.8L202.8 130.8Z" fill="#2222f4" stroke="#1010c4" stroke-width="0.6"/>
<path d="M205.9 142.3L209.7 148.8L202.0 148.8Z" fill="#2222f4" stroke="#1010c4" stroke-width="0.6"/>
<path d="M215.6 133.7L219.4 140.2L211.7 140.2Z" fill="#2222f4" stroke="#1010c4" stroke-width="0.6"/>
<path d="M201.6 127.4L205.4 133.9L197.7 133.9Z" fill="#2222f4" stroke="#1010c4" stroke-width="0.6"/>
<path d="M208.6 116.3L212.5 122.7L204.8 122.7Z" fill="#2222f4" stroke="#1010c4" stroke-width="0.6"/>
<path d="M220.6 119.4L224.5 125.9L216.8 125.9Z" fill="#2222f4" stroke="#1010c4" stroke-width="0.6"/>
<path d="M180.9 115.5L184.7 122.0L177.0 122.0Z" fill="#2222f4" stroke="#1010c4" stroke-width="0.6"/>
<path d="M220.1 135.0L223.9 141.4L216.2 141.4Z" fill="#2222f4" stroke="#1010c4" stroke-width="0.6"/>
<path d="M214.3 124.3L218.2 130.8L210.5 130.8Z" fill="#2222f4" stroke="#1010c4" stroke-width="0.6"/>
<path d="M206.2 111.7L210.0 118.2L202.3 118.2Z" fill="#2222f4" stroke="#1010c4" stroke-width="0.6"/>
<path d="M202.9 114.9L206.7 121.4L199.0 121.4Z" fill="#2222f4" stroke="#1010c4" stroke-width="0.6"/>
<path d="M214.8 105.9L218.7 112.4L211.0 112.4Z" fill="#2222f4" stroke="#1010c4" stroke-width="0.6"/>
<path d="M184.7 111.4L188.6 117.8L180.9 117.8Z" fill="#2222f4" stroke="#1010c4" stroke-width="0.6"/>
<path d="M206.8 134.4L210.7 140.9L203.0 140.9Z" fill="#2222f4" stroke="#1010c4" stroke-width="0.6"/>
<path d="M223.8 122.3L227.6 128.8L219.9 128.8Z" fill="#2222f4" stroke="#1010c4" stroke-width="0.6"/>
<path d="M185.9 149.1L189.7 155.5L182.0 155.5Z" fill="#2222f4" stroke="#1010c4" stroke-width="0.6"/>
<path d="M183.7 109.4L187.6 115.8L179.9 115.8Z" fill="#2222f4" stroke="#1010c4" stroke-width="0.6"/>
<path d="M190.0 153.5L193.8 160.0L186.1 160.0Z" fill="#2222f4" stroke="#1010c4" stroke-width="0.6"/>
<path d="M228.0 127.9L231.8 134.4L224.1 134.4Z" fill="#2222f4" stroke="#1010c4" stroke-width="0.6"/>
<path d="M184.1 120.7L188.0 127.1L180.3 127.1Z" fill="#2222f4" stroke="#1010c4" stroke-width="0.6"/>
<path d="M190.5 138.4L194.4 144.9L186.7 144.9Z" fill="#2222f4" stroke="#1010c4" stroke-width="0.6"/>
<path d="M217.3 146.1L221.2 152.5L213.5 152.5Z" fill="#2222f4" stroke="#1010c4" stroke-width="0.6"/>
<path d="M201.5 126.9L205.3 133.4L197.6 133.4Z" fill="#2222f4" stroke="#1010c4" stroke-width="0.6"/>
<path d="M203.2 121.7L207.1 128.2L199.4 128.2Z" fill="#2222f4" stroke="#1010c4" stroke-width="0.6"/>
<path d="M202.5 140.6L206.3 147.1L198.6 147.1Z" fill="#2222f4" stroke="#1010c4" stroke-width="0.6"/>
<path d="M216.8 119.1L220.7 125.6L213.0 125.6Z" fill="#2222f4" stroke="#1010c4" stroke-width="0.6"/>
<path d="M208.7 108.2L212.6 114.7L204.9 114.7Z" fill="#2222f4" stroke="#1010c4" stroke-width="0.6"/>
<path d="M181.5 125.0L185.3 131.5L177.6 131.5Z" fill="#2222f4" stroke="#1010c4" stroke-width="0.6"/>
<path d="M197.6 118.2L201.5 124.6L193.8 124.6Z" fill="#2222f4" stroke="#1010c4" stroke-width="0.6"/>
<path d="M184.7 134.9L188.5 141.4L180.8 141.4Z" fill="#2222f4" stroke="#1010c4" stroke-width="0.6"/>
<path d="M224.0 122.4L227.8 128.9L220.1 128.9Z" fill="#2222f4" stroke="#1010c4" stroke-width="0.6"/>
<path d="M186.9 105.8L190.7 112.3L183.0 112.3Z" fill="#2222f4" stroke="#1010c4" stroke-width="0.6"/>
<path d="M189.9 142.9L193.8 149.4L186.1 149.4Z" fill="#2222f4" stroke="#1010c4" stroke-width="0.6"/>
<path d="M187.6 118.4L191.4 124.9L183.7 124.9Z" fill="#2222f4" stroke="#1010c4" stroke-width="0.6"/>
<path d="M220.1 143.7L223.9 150.2L216.2 150.2Z" fill="#2222f4" stroke="#1010c4" stroke-width="0.6"/>
<path d="M194.0 126.6L197.8 133.1L190.1 133.1Z" fill="#2222f4" stroke="#1010c4" stroke-width="0.6"/>
<path d="M196.9 127.8L200.7 134.3L193.0 134.3Z" fill="#2222f4" stroke="#1010c4" stroke-width="0.6"/>
<path d="M221.4 115.2L225.3 121.7L217.6 121.7Z" fill="#2222f4" stroke="#1010c4" stroke-width="0.6"/>
<path d="M194.0 126.0L197.8 132.5L190.1 132.5Z" fill="#2222f4" stroke="#1010c4" stroke-width="0.6"/>
<path d="M224.0 140.3L227.8 146.8L220.1 146.8Z" fill="#2222f4" stroke="#1010c4" stroke-width="0.6"/>
<path d="M225.5 130.1L229.3 136.6L221.6 136.6Z" fill="#2222f4" stroke="#1010c4" stroke-width="0.6"/>
<path d="M248.4 127.8L252.3 134.2L244.6 134.2Z" fill="#2222f4" stroke="#1010c4" stroke-width="0.6"/>
<path d="M245.5 142.1L249.3 148.6L241.6 148.6Z" fill="#2222f4" stroke="#1010c4" stroke-width="0.6"/>
<path d="M251.4 119.0L255.3 125.4L247.6 125.4Z" fill="#2222f4" stroke="#1010c4" stroke-width="0.6"/>
<path d="M256.0 133.6L259.8 140.1L252.1 140.1Z" fill="#2222f4" stroke="#1010c4" stroke-width="0.6"/>
<path d="M255.2 134.5L259.0 141.0L251.3 141.0Z" fill="#2222f4" stroke="#1010c4" stroke-width="0.6"/>
<path d="M272.5 123.9L276.3 130.4L268.6 130.4Z" fill="#2222f4" stroke="#1010c4" stroke-width="0.6"/>
<path d="M261.0 125.9L264.8 132.3L257.1 132.3Z" fill="#2222f4" stroke="#1010c4" stroke-width="0.6"/>
<path d="M248.7 122.2L252.5 128.7L244.8 128.7Z" fill="#2222f4" stroke="#1010c4" stroke-width="0.6"/>
<path d="M258.0 132.7L261.8 139.2L254.1 139.2Z" fill="#2222f4" stroke="#1010c4" stroke-width="0.6"/>
<path d="M279.5 134.1L283.3 140.6L275.6 140.6Z" fill="#2222f4" stroke="#1010c4" stroke-width="0.6"/>
<path d="M261.1 124.3L264.9 130.8L257.2 130.8Z" fill="#2222f4" stroke="#1010c4" stroke-width="0.6"/>
<path d="M277.3 131.6L281.2 138.1L273.5 138.1Z" fill="#2222f4" stroke="#1010c4" stroke-width="0.6"/>
<path d="M286.3 141.9L290.2 148.4L282.5 148.4Z" fill="#2222f4" stroke="#1010c4" stroke-width="0.6"/>
<path d="M272.5 129.7L276.3 136.2L268.6 136.2Z" fill="#2222f4" stroke="#1010c4" stroke-width="0.6"/>
<path d="M263.6 135.1L267.5 141.6L259.8 141.6Z" fill="#2222f4" stroke="#1010c4" stroke-width="0.6"/>
<path d="M263.1 146.2L266.9 152.7L259.2 152.7Z" fill="#2222f4" stroke="#1010c4" stroke-width="0.6"/>
<path d="M277.4 136.8L281.2 143.3L273.5 143.3Z" fill="#2222f4" stroke="#1010c4" stroke-width="0.6"/>
<path d="M240.4 134.4L244.2 140.9L236.5 140.9Z" fill="#2222f4" stroke="#1010c4" stroke-width="0.6"/>
<path d="M239.1 143.2L242.9 149.7L235.2 149.7Z" fill="#2222f4" stroke="#1010c4" stroke-width="0.6"/>
<path d="M260.8 142.3L264.7 148.8L257.0 148.8Z" fill="#2222f4" stroke="#1010c4" stroke-width="0.6"/>
<path d="M235.1 141.1L238.9 147.6L231.2 147.6Z" fill="#2222f4" stroke="#1010c4" stroke-width="0.6"/>
<path d="M237.8 129.0L241.7 135.5L234.0 135.5Z" fill="#2222f4" stroke="#1010c4" stroke-width="0.6"/>
<path d="M247.2 139.4L251.1 145.9L243.4 145.9Z" fill="#2222f4" stroke="#1010c4" stroke-width="0.6"/>
<path d="M236.9 123.8L240.8 130.3L233.1 130.3Z" fill="#2222f4" stroke="#1010c4" stroke-width="0.6"/>
<path d="M255.8 130.2L259.7 136.7L252.0 136.7Z" fill="#2222f4" stroke="#1010c4" stroke-width="0.6"/>
<path d="M257.4 135.9L261.3 142.4L253.6 142.4Z" fill="#2222f4" stroke="#1010c4" stroke-width="0.6"/>
<path d="M244.4 119.7L248.2 126.2L240.5 126.2Z" fill="#2222f4" stroke="#1010c4" stroke-width="0.6"/>
<path d="M259.0 138.1L262.8 144.6L255.1 144.6Z" fill="#2222f4" stroke="#1010c4" stroke-width="0.6"/>
<path d="M268.2 124.6L272.0 131.1L264.3 131.1Z" fill="#2222f4" stroke="#1010c4" stroke-width="0.6"/>
<path d="M243.2 142.1L247.0 148.6L239.3 148.6Z" fill="#2222f4" stroke="#1010c4" stroke-width="0.6"/>
<path d="M244.9 119.6L248.8 126.1L241.1 126.1Z" fill="#2222f4" stroke="#1010c4" stroke-width="0.6"/>
<path d="M275.1 130.2L279.0 136.7L271.3 136.7Z" fill="#2222f4" stroke="#1010c4" stroke-width="0.6"/>
<path d="M277.0 143.8L280.9 150.3L273.2 150.3Z" fill="#2222f4" stroke="#1010c4" stroke-width="0.6"/>
<path d="M262.1 121.0L265.9 127.5L258.2 127.5Z" fill="#2222f4" stroke="#1010c4" stroke-width="0.6"/>
<path d="M263.1 139.0L266.9 145.4L259.2 145.4Z" fill="#2222f4" stroke="#1010c4" stroke-width="0.6"/>
<path d="M250.4 137.9L254.3 144.4L246.6 144.4Z" fill="#2222f4" stroke="#1010c4" stroke-width="0.6"/>
<path d="M243.3 118.9L247.2 125.4L239.5 125.4Z" fill="#2222f4" stroke="#1010c4" stroke-width="0.6"/>
<path d="M233.9 142.1L237.7 148.6L230.0 148.6Z" fill="#2222f4" stroke="#1010c4" stroke-width="0.6"/>
<path d="M260.7 149.6L264.6 156.1L256.9 156.1Z" fill="#2222f4" stroke="#1010c4" stroke-width="0.6"/>
<path d="M272.6 139.1L276.4 145.6L268.7 145.6Z" fill="#2222f4" stroke="#1010c4" stroke-width="0.6"/>
<path d="M273.7 125.4L277.6 131.9L269.9 131.9Z" fill="#2222f4" stroke="#1010c4" stroke-width="0.6"/>
<path d="M286.7 141.8L290.6 148.3L282.9 148.3Z" fill="#2222f4" stroke="#1010c4" stroke-width="0.6"/>
<path d="M280.6 129.8L284.4 136.2L276.7 136.2Z" fill="#2222f4" stroke="#1010c4" stroke-width="0.6"/>
<path d="M242.9 129.3L246.8 135.7L239.1 135.7Z" fill="#2222f4" stroke="#1010c4" stroke-width="0.6"/>
<path d="M272.9 133.7L276.7 140.2L269.0 140.2Z" fill="#2222f4" stroke="#1010c4" stroke-width="0.6"/>
<path d="M255.1 119.8L258.9 126.2L251.2 126.2Z" fill="#2222f4" stroke="#1010c4" stroke-width="0.6"/>
<path d="M244.3 118.7L248.1 125.2L240.4 125.2Z" fill="#2222f4" stroke="#1010c4" stroke-width="0.6"/>
<path d="M256.2 140.5L260.0 147.0L252.3 147.0Z" fill="#2222f4" stroke="#1010c4" stroke-width="0.6"/>
<path d="M287.5 139.6L291.4 146.1L283.7 146.1Z" fill="#2222f4" stroke="#1010c4" stroke-width="0.6"/>
<path d="M268.4 142.2L272.2 148.6L264.5 148.6Z" fill="#2222f4" stroke="#1010c4" stroke-width="0.6"/>
<path d="M268.7 124.8L272.5 131.3L264.8 131.3Z" fill="#2222f4" stroke="#1010c4" stroke-width="0.6"/>
<path d="M272.1 136.4L275.9 142.9L268.2 142.9Z" fill="#2222f4" stroke="#1010c4" stroke-width="0.6"/>
<path d="M268.7 137.9L272.6 144.3L264.9 144.3Z" fill="#2222f4" stroke="#1010c4" stroke-width="0.6"/>
<path d="M284.4 136.7L288.2 143.1L280.5 143.1Z" fill="#2222f4" stroke="#1010c4" stroke-width="0.6"/>
<path d="M282.3 137.2L286.2 143.7L278.5 143.7Z" fill="#2222f4" stroke="#1010c4" stroke-width="0.6"/>
<path d="M283.7 144.0L287.6 150.5L279.9 150.5Z" fill="#2222f4" stroke="#1010c4" stroke-width="0.6"/>
<path d="M254.9 121.1L258.7 127.6L251.0 127.6Z" fill="#2222f4" stroke="#1010c4" stroke-width="0.6"/>
<path d="M249.2 126.7L253.1 133.1L245.4 133.1Z" fill="#2222f4" stroke="#1010c4" stroke-width="0.6"/>
<path d="M237.8 136.0L241.7 142.5L234.0 142.5Z" fill="#2222f4" stroke="#1010c4" stroke-width="0.6"/>
<path d="M256.6 145.4L260.5 151.9L252.8 151.9Z" fill="#2222f4" stroke="#1010c4" stroke-width="0.6"/>
<path d="M242.3 132.9L246.2 139.4L238.5 139.4Z" fill="#2222f4" stroke="#1010c4" stroke-width="0.6"/>
<path d="M248.4 131.0L252.2 137.4L244.5 137.4Z" fill="#2222f4" stroke="#1010c4" stroke-width="0.6"/>
<path d="M263.0 120.7L266.9 127.2L259.2 127.2Z" fill="#2222f4" stroke="#1010c4" stroke-width="0.6"/>
<path d="M252.0 121.6L255.9 128.1L248.2 128.1Z" fill="#2222f4" stroke="#1010c4" stroke-width="0.6"/>
<path d="M281.4 143.9L285.2 150.4L277.5 150.4Z" fill="#2222f4" stroke="#1010c4" stroke-width="0.6"/>
<path d="M274.1 135.9L278.0 142.3L270.3 142.3Z" fill="#2222f4" stroke="#1010c4" stroke-width="0.6"/>
<path d="M284.6 142.6L288.4 149.1L280.7 149.1Z" fill="#2222f4" stroke="#1010c4" stroke-width="0.6"/>
<path d="M233.5 114.5L237.3 121.0L229.6 121.0Z" fill="#2222f4" stroke="#1010c4" stroke-width="0.6"/>
<path d="M239.9 134.6L243.8 141.1L236.1 141.1Z" fill="#2222f4" stroke="#1010c4" stroke-width="0.6"/>
<path d="M269.3 136.3L273.2 142.8L265.5 142.8Z" fill="#2222f4" stroke="#1010c4" stroke-width="0.6"/>
<path d="M262.2 120.9L266.0 127.3L258.3 127.3Z" fill="#2222f4" stroke="#1010c4" stroke-width="0.6"/>
<path d="M234.4 139.3L238.3 145.8L230.6 145.8Z" fill="#2222f4" stroke="#1010c4" stroke-width="0.6"/>
<path d="M246.4 118.5L250.2 125.0L242.5 125.0Z" fill="#2222f4" stroke="#1010c4" stroke-width="0.6"/>
<path d="M249.1 136.4L252.9 142.9L245.2 142.9Z" fill="#2222f4" stroke="#1010c4" stroke-width="0.6"/>
<path d="M250.1 139.1L254.0 145.5L246.3 145.5Z" fill="#2222f4" stroke="#1010c4" stroke-width="0.6"/>
<path d="M235.7 135.3L239.5 141.7L231.8 141.7Z" fill="#2222f4" stroke="#1010c4" stroke-width="0.6"/>
<path d="M234.8 113.1L238.6 119.5L230.9 119.5Z" fill="#2222f4" stroke="#1010c4" stroke-width="0.6"/>
<path d="M275.2 132.7L279.0 139.2L271.3 139.2Z" fill="#2222f4" stroke="#1010c4" stroke-width="0.6"/>
<path d="M281.6 131.3L285.4 137.8L277.7 137.8Z" fill="#2222f4" stroke="#1010c4" stroke-width="0.6"/>
<path d="M275.4 140.8L279.3 147.2L271.6 147.2Z" fill="#2222f4" stroke="#1010c4" stroke-width="0.6"/>
<path d="M250.7 144.0L254.6 150.5L246.9 150.5Z" fill="#2222f4" stroke="#1010c4" stroke-width="0.6"/>
<path d="M266.5 127.5L270.3 134.0L262.6 134.0Z" fill="#2222f4" stroke="#1010c4" stroke-width="0.6"/>
<path d="M263.1 121.2L267.0 127.7L259.3 127.7Z" fill="#2222f4" stroke="#1010c4" stroke-width="0.6"/>
<path d="M252.0 144.0L255.9 150.5L248.2 150.5Z" fill="#2222f4" stroke="#1010c4" stroke-width="0.6"/>
<path d="M253.1 117.3L257.0 123.7L249.3 123.7Z" fill="#2222f4" stroke="#1010c4" stroke-width="0.6"/>
<path d="M268.6 137.1L272.4 143.6L264.7 143.6Z" fill="#2222f4" stroke="#1010c4" stroke-width="0.6"/>
<path d="M244.7 118.7L248.5 125.1L240.8 125.1Z" fill="#2222f4" stroke="#1010c4" stroke-width="0.6"/>
<path d="M261.1 127.8L265.0 134.3L257.3 134.3Z" fill="#2222f4" stroke="#1010c4" stroke-width="0.6"/>
<path d="M234.2 122.1L238.1 128.6L230.4 128.6Z" fill="#2222f4" stroke="#1010c4" stroke-width="0.6"/>
<path d="M252.4 117.9L256.3 124.3L248.6 124.3Z" fill="#2222f4" stroke="#1010c4" stroke-width="0.6"/>
<path d="M257.3 136.8L261.2 143.3L253.5 143.3Z" fill="#2222f4" stroke="#1010c4" stroke-width="0.6"/>
<path d="M257.8 145.7L261.7 152.1L254.0 152.1Z" fill="#2222f4" stroke="#1010c4" stroke-width="0.6"/>
<path d="M245.4 126.6L249.2 133.1L241.5 133.1Z" fill="#2222f4" stroke="#1010c4" stroke-width="0.6"/>
<path d="M264.9 133.2L268.8 139.7L261.1 139.7Z" fill="#2222f4" stroke="#1010c4" stroke-width="0.6"/>
<path d="M242.5 130.7L246.4 137.1L238.7 137.1Z" fill="#2222f4" stroke="#1010c4" stroke-width="0.6"/>
<path d="M247.7 133.9L251.6 140.4L243.9 140.4Z" fill="#2222f4" stroke="#1010c4" stroke-width="0.6"/>
<path d="M235.6 140.4L239.5 146.9L231.8 146.9Z" fill="#2222f4" stroke="#1010c4" stroke-width="0.6"/>
<path d="M240.7 141.9L244.6 148.4L236.9 148.4Z" fill="#2222f4" stroke="#1010c4" stroke-width="0.6"/>
<path d="M268.2 130.4L272.0 136.9L264.3 136.9Z" fill="#2222f4" stroke="#1010c4" stroke-width="0.6"/>
<path d="M237.2 138.1L241.1 144.5L233.4 144.5Z" fill="#2222f4" stroke="#1010c4" stroke-width="0.6"/>
<path d="M238.6 114.6L242.5 121.1L234.8 121.1Z" fill="#2222f4" stroke="#1010c4" stroke-width="0.6"/>
<path d="M267.4 138.1L271.3 144.6L263.6 144.6Z" fill="#2222f4" stroke="#1010c4" stroke-width="0.6"/>
<path d="M238.6 122.5L242.5 129.0L234.8 129.0Z" fill="#2222f4" stroke="#1010c4" stroke-width="0.6"/>
<path d="M239.1 131.1L242.9 137.6L235.2 137.6Z" fill="#2222f4" stroke="#1010c4" stroke-width="0.6"/>
<path d="M260.8 150.5L264.6 156.9L256.9 156.9Z" fill="#2222f4" stroke="#1010c4" stroke-width="0.6"/>
<path d="M278.2 130.3L282.0 136.8L274.3 136.8Z" fill="#2222f4" stroke="#1010c4" stroke-width="0.6"/>
<path d="M257.2 148.4L261.0 154.8L253.3 154.8Z" fill="#2222f4" stroke="#1010c4" stroke-width="0.6"/>
<path d="M247.1 136.9L251.0 143.3L243.3 143.3Z" fill="#2222f4" stroke="#1010c4" stroke-width="0.6"/>
<path d="M234.0 139.6L237.9 146.1L230.2 146.1Z" fill="#2222f4" stroke="#1010c4" stroke-width="0.6"/>
<path d="M239.2 134.7L243.0 141.2L235.3 141.2Z" fill="#2222f4" stroke="#1010c4" stroke-width="0.6"/>
<path d="M234.1 129.7L238.0 136.2L230.3 136.2Z" fill="#2222f4" stroke="#1010c4" stroke-width="0.6"/>
<path d="M235.0 127.7L238.9 134.2L231.2 134.2Z" fill="#2222f4" stroke="#1010c4" stroke-width="0.6"/>
<path d="M281.5 142.5L285.4 149.0L277.7 149.0Z" fill="#2222f4" stroke="#1010c4" stroke-width="0.6"/>
<path d="M283.8 129.5L287.6 136.0L279.9 136.0Z" fill="#2222f4" stroke="#1010c4" stroke-width="0.6"/>
<path d="M279.7 134.7L283.6 141.2L275.9 141.2Z" fill="#2222f4" stroke="#1010c4" stroke-width="0.6"/>
<path d="M130.7 88.2L134.5 94.7L126.8 94.7Z" fill="#2222f4" stroke="#1010c4" stroke-width="0.6"/>
<path d="M144.7 90.9L148.5 97.4L140.8 97.4Z" fill="#2222f4" stroke="#1010c4" stroke-width="0.6"/>
<path d="M152.1 90.2L155.9 96.7L148.2 96.7Z" fill="#2222f4" stroke="#1010c4" stroke-width="0.6"/>
<path d="M152.1 94.9L155.9 101.4L148.2 101.4Z" fill="#2222f4" stroke="#1010c4" stroke-width="0.6"/>
<path d="M130.7 100.2L134.5 106.7L126.8 106.7Z" fill="#2222f4" stroke="#1010c4" stroke-width="0.6"/>
<path d="M138.7 102.2L142.5 108.7L134.8 108.7Z" fill="#2222f4" stroke="#1010c4" stroke-width="0.6"/>
<path d="M152.1 102.2L155.9 108.7L148.2 108.7Z" fill="#2222f4" stroke="#1010c4" stroke-width="0.6"/>
<path d="M168.1 99.5L171.9 106.0L164.2 106.0Z" fill="#2222f4" stroke="#1010c4" stroke-width="0.6"/>
<path d="M166.8 104.9L170.7 111.4L163.0 111.4Z" fill="#2222f4" stroke="#1010c4" stroke-width="0.6"/>
<path d="M184.1 104.9L187.9 111.4L180.2 111.4Z" fill="#2222f4" stroke="#1010c4" stroke-width="0.6"/>
<path d="M192.1 107.5L195.9 114.0L188.2 114.0Z" fill="#2222f4" stroke="#1010c4" stroke-width="0.6"/>
<path d="M134.7 107.5L138.5 114.0L130.8 114.0Z" fill="#2222f4" stroke="#1010c4" stroke-width="0.6"/>
<path d="M144.1 104.9L147.9 111.4L140.2 111.4Z" fill="#2222f4" stroke="#1010c4" stroke-width="0.6"/>
<path d="M183.7 104.9L187.5 111.4L179.8 111.4Z" fill="#2222f4" stroke="#1010c4" stroke-width="0.6"/>
<path d="M192.4 106.9L196.2 113.4L188.6 113.4Z" fill="#2222f4" stroke="#1010c4" stroke-width="0.6"/>
<path d="M207.7 100.9L211.5 107.4L203.8 107.4Z" fill="#2222f4" stroke="#1010c4" stroke-width="0.6"/>
<path d="M202.4 106.9L206.2 113.4L198.6 113.4Z" fill="#2222f4" stroke="#1010c4" stroke-width="0.6"/>
<path d="M216.4 104.9L220.2 111.4L212.6 111.4Z" fill="#2222f4" stroke="#1010c4" stroke-width="0.6"/>
<path d="M225.1 111.5L228.9 118.0L221.2 118.0Z" fill="#2222f4" stroke="#1010c4" stroke-width="0.6"/>
<path d="M238.4 110.9L242.2 117.4L234.6 117.4Z" fill="#2222f4" stroke="#1010c4" stroke-width="0.6"/>
<path d="M257.8 113.5L261.7 120.0L254.0 120.0Z" fill="#2222f4" stroke="#1010c4" stroke-width="0.6"/>
<path d="M267.1 93.5L271.0 100.0L263.2 100.0Z" fill="#2222f4" stroke="#1010c4" stroke-width="0.6"/>
<path d="M268.5 104.9L272.4 111.4L264.6 111.4Z" fill="#2222f4" stroke="#1010c4" stroke-width="0.6"/>
<path d="M272.5 98.2L276.4 104.7L268.6 104.7Z" fill="#2222f4" stroke="#1010c4" stroke-width="0.6"/>
<path d="M272.0 99.8L275.9 106.3L268.1 106.3Z" fill="#2222f4" stroke="#1010c4" stroke-width="0.6"/>
<path d="M268.7 105.2L272.6 111.7L264.8 111.7Z" fill="#2222f4" stroke="#1010c4" stroke-width="0.6"/>
<path d="M282.0 104.5L285.9 111.0L278.1 111.0Z" fill="#2222f4" stroke="#1010c4" stroke-width="0.6"/>
<path d="M294.7 100.5L298.6 107.0L290.8 107.0Z" fill="#2222f4" stroke="#1010c4" stroke-width="0.6"/>
<path d="M306.7 100.5L310.6 107.0L302.8 107.0Z" fill="#2222f4" stroke="#1010c4" stroke-width="0.6"/>
<path d="M314.8 105.8L318.7 112.3L310.9 112.3Z" fill="#2222f4" stroke="#1010c4" stroke-width="0.6"/>
<path d="M290.0 107.2L293.9 113.7L286.1 113.7Z" fill="#2222f4" stroke="#1010c4" stroke-width="0.6"/>
<path d="M299.4 108.5L303.2 115.0L295.5 115.0Z" fill="#2222f4" stroke="#1010c4" stroke-width="0.6"/>
<path d="M304.7 107.8L308.6 114.3L300.8 114.3Z" fill="#2222f4" stroke="#1010c4" stroke-width="0.6"/>
<path d="M284.0 110.5L287.9 117.0L280.1 117.0Z" fill="#2222f4" stroke="#1010c4" stroke-width="0.6"/>
<path d="M277.4 113.2L281.2 119.7L273.5 119.7Z" fill="#2222f4" stroke="#1010c4" stroke-width="0.6"/>
<path d="M277.4 118.5L281.2 125.0L273.5 125.0Z" fill="#2222f4" stroke="#1010c4" stroke-width="0.6"/>
<path d="M288.7 115.9L292.6 122.4L284.8 122.4Z" fill="#2222f4" stroke="#1010c4" stroke-width="0.6"/>
<path d="M296.7 115.2L300.6 121.7L292.8 121.7Z" fill="#2222f4" stroke="#1010c4" stroke-width="0.6"/>
<path d="M302.7 113.9L306.6 120.4L298.8 120.4Z" fill="#2222f4" stroke="#1010c4" stroke-width="0.6"/>
<path d="M308.7 113.2L312.6 119.7L304.8 119.7Z" fill="#2222f4" stroke="#1010c4" stroke-width="0.6"/>
<path d="M315.4 111.2L319.2 117.7L311.5 117.7Z" fill="#2222f4" stroke="#1010c4" stroke-width="0.6"/>
<path d="M322.8 113.9L326.7 120.4L318.9 120.4Z" fill="#2222f4" stroke="#1010c4" stroke-width="0.6"/>
<path d="M328.8 111.2L332.7 117.7L324.9 117.7Z" fill="#2222f4" stroke="#1010c4" stroke-width="0.6"/>
<path d="M317.4 117.9L321.2 124.4L313.5 124.4Z" fill="#2222f4" stroke="#1010c4" stroke-width="0.6"/>
<path d="M297.4 119.2L301.2 125.7L293.5 125.7Z" fill="#2222f4" stroke="#1010c4" stroke-width="0.6"/>
<path d="M306.1 121.2L310.0 127.7L302.2 127.7Z" fill="#2222f4" stroke="#1010c4" stroke-width="0.6"/>
<path d="M289.4 122.5L293.2 129.0L285.5 129.0Z" fill="#2222f4" stroke="#1010c4" stroke-width="0.6"/>
<path d="M320.8 122.5L324.7 129.0L316.9 129.0Z" fill="#2222f4" stroke="#1010c4" stroke-width="0.6"/>
<path d="M327.4 122.5L331.2 129.0L323.5 129.0Z" fill="#2222f4" stroke="#1010c4" stroke-width="0.6"/>
<path d="M300.7 127.9L304.6 134.4L296.8 134.4Z" fill="#2222f4" stroke="#1010c4" stroke-width="0.6"/>
<path d="M312.1 126.5L316.0 133.0L308.2 133.0Z" fill="#2222f4" stroke="#1010c4" stroke-width="0.6"/>
<path d="M257.3 112.5L261.2 119.0L253.5 119.0Z" fill="#2222f4" stroke="#1010c4" stroke-width="0.6"/>
<path d="M266.7 93.9L270.6 100.4L262.8 100.4Z" fill="#2222f4" stroke="#1010c4" stroke-width="0.6"/>
<path d="M272.7 99.2L276.6 105.7L268.8 105.7Z" fill="#2222f4" stroke="#1010c4" stroke-width="0.6"/>
<path d="M282.0 103.9L285.9 110.4L278.1 110.4Z" fill="#2222f4" stroke="#1010c4" stroke-width="0.6"/>
<path d="M294.7 99.2L298.6 105.7L290.8 105.7Z" fill="#2222f4" stroke="#1010c4" stroke-width="0.6"/>
<path d="M306.7 99.9L310.6 106.4L302.8 106.4Z" fill="#2222f4" stroke="#1010c4" stroke-width="0.6"/>
<path d="M314.1 104.5L318.0 111.0L310.2 111.0Z" fill="#2222f4" stroke="#1010c4" stroke-width="0.6"/>
<path d="M268.7 104.5L272.6 111.0L264.8 111.0Z" fill="#2222f4" stroke="#1010c4" stroke-width="0.6"/>
<path d="M290.0 105.2L293.9 111.7L286.1 111.7Z" fill="#2222f4" stroke="#1010c4" stroke-width="0.6"/>
<path d="M296.7 103.9L300.6 110.4L292.8 110.4Z" fill="#2222f4" stroke="#1010c4" stroke-width="0.6"/>
<path d="M289.4 122.8L293.2 129.3L285.5 129.3Z" fill="#2222f4" stroke="#1010c4" stroke-width="0.6"/>
<path d="M300.0 127.5L303.9 134.0L296.1 134.0Z" fill="#2222f4" stroke="#1010c4" stroke-width="0.6"/>
<path d="M312.0 126.8L315.9 133.3L308.1 133.3Z" fill="#2222f4" stroke="#1010c4" stroke-width="0.6"/>
<path d="M306.7 122.2L310.6 128.7L302.8 128.7Z" fill="#2222f4" stroke="#1010c4" stroke-width="0.6"/>
<path d="M321.4 122.8L325.2 129.3L317.5 129.3Z" fill="#2222f4" stroke="#1010c4" stroke-width="0.6"/>
<path d="M327.4 122.8L331.2 129.3L323.5 129.3Z" fill="#2222f4" stroke="#1010c4" stroke-width="0.6"/>
<path d="M112.7 152.5L116.5 159.0L108.9 159.0Z" fill="#2222f4" stroke="#1010c4" stroke-width="0.6"/>
<path d="M196.0 161.2L199.8 167.7L192.2 167.7Z" fill="#2222f4" stroke="#1010c4" stroke-width="0.6"/>
<path d="M197.0 160.5L200.8 167.0L193.2 167.0Z" fill="#2222f4" stroke="#1010c4" stroke-width="0.6"/>
<path d="M202.4 160.5L206.2 167.0L198.6 167.0Z" fill="#2222f4" stroke="#1010c4" stroke-width="0.6"/>
<path d="M207.0 160.5L210.8 167.0L203.2 167.0Z" fill="#2222f4" stroke="#1010c4" stroke-width="0.6"/>
<path d="M260.4 153.9L264.2 160.4L256.5 160.4Z" fill="#2222f4" stroke="#1010c4" stroke-width="0.6"/>
<path d="M269.8 147.2L273.7 153.7L265.9 153.7Z" fill="#2222f4" stroke="#1010c4" stroke-width="0.6"/>
<path d="M248.0 147.5L251.8 154.0L244.2 154.0Z" fill="#2222f4" stroke="#1010c4" stroke-width="0.6"/>
<path d="M269.4 147.5L273.2 154.0L265.5 154.0Z" fill="#2222f4" stroke="#1010c4" stroke-width="0.6"/>
<path d="M260.7 153.5L264.6 160.0L256.8 160.0Z" fill="#2222f4" stroke="#1010c4" stroke-width="0.6"/>
<ellipse cx="161.20" cy="135.85" rx="98.5" ry="110.5" fill="none" stroke="#5aa6dc" stroke-width="1.3" stroke-dasharray="6 4"/>
<rect x="53.8" y="15.0" width="313.00" height="242.30" fill="none" stroke="#444444" stroke-width="1.1"/>
<line x1="75.90" y1="257.3" x2="75.90" y2="254.70000000000002" stroke="#444444" stroke-width="1"/>
<line x1="75.90" y1="15.0" x2="75.90" y2="17.6" stroke="#444444" stroke-width="1"/>
<text x="75.90" y="276" font-size="13.6" text-anchor="middle" fill="#262626">-5</text>
<line x1="161.20" y1="257.3" x2="161.20" y2="254.70000000000002" stroke="#444444" stroke-width="1"/>
<line x1="161.20" y1="15.0" x2="161.20" y2="17.6" stroke="#444444" stroke-width="1"/>
<text x="161.20" y="276" font-size="13.6" text-anchor="middle" fill="#262626">0</text>
<line x1="246.50" y1="257.3" x2="246.50" y2="254.70000000000002" stroke="#444444" stroke-width="1"/>
<line x1="246.50" y1="15.0" x2="246.50" y2="17.6" stroke="#444444" stroke-width="1"/>
<text x="246.50" y="276" font-size="13.6" text-anchor="middle" fill="#262626">5</text>
<line x1="331.80" y1="257.3" x2="331.80" y2="254.70000000000002" stroke="#444444" stroke-width="1"/>
<line x1="331.80" y1="15.0" x2="331.80" y2="17.6" stroke="#444444" stroke-width="1"/>
<text x="331.80" y="276" font-size="13.6" text-anchor="middle" fill="#262626">10</text>
<line x1="53.8" y1="252.40" x2="56.4" y2="252.40" stroke="#444444" stroke-width="1"/>
<line x1="366.8" y1="252.40" x2="364.2" y2="252.40" stroke="#444444" stroke-width="1"/>
<text x="48.8" y="257.30" font-size="13.6" text-anchor="end" fill="#262626">-1</text>
<line x1="53.8" y1="194.12" x2="56.4" y2="194.12" stroke="#444444" stroke-width="1"/>
<line x1="366.8" y1="194.12" x2="364.2" y2="194.12" stroke="#444444" stroke-width="1"/>
<text x="48.8" y="199.03" font-size="13.6" text-anchor="end" fill="#262626">-0.5</text>
<line x1="53.8" y1="135.85" x2="56.4" y2="135.85" stroke="#444444" stroke-width="1"/>
<line x1="366.8" y1="135.85" x2="364.2" y2="135.85" stroke="#444444" stroke-width="1"/>
<text x="48.8" y="140.75" font-size="13.6" text-anchor="end" fill="#262626">0</text>
<line x1="53.8" y1="77.57" x2="56.4" y2="77.57" stroke="#444444" stroke-width="1"/>
<line x1="366.8" y1="77.57" x2="364.2" y2="77.57" stroke="#444444" stroke-width="1"/>
<text x="48.8" y="82.47" font-size="13.6" text-anchor="end" fill="#262626">0.5</text>
<line x1="53.8" y1="19.30" x2="56.4" y2="19.30" stroke="#444444" stroke-width="1"/>
<line x1="366.8" y1="19.30" x2="364.2" y2="19.30" stroke="#444444" stroke-width="1"/>
<text x="48.8" y="24.20" font-size="13.6" text-anchor="end" fill="#262626">1</text>
<rect x="299.6" y="197.3" width="68" height="60" fill="#fff" stroke="#444444" stroke-width="1"/>
<path d="M316.8 202.5L319.9 206.2L316.8 209.9L313.7 206.2Z" fill="#ff1c1c" stroke="#dd0a0a" stroke-width="0.6"/>
<rect x="314.6" y="218.8" width="4.5" height="4.5" fill="#22dd22" stroke="#14a314" stroke-width="0.6"/>
<path d="M316.8 232.0L320.7 238.5L312.9 238.5Z" fill="#2222f4" stroke="#1010c4" stroke-width="0.6"/>
<line x1="302.4" y1="250.1" x2="332" y2="250.1" stroke="#5aa6dc" stroke-width="1.3" stroke-dasharray="6 4"/>
<text x="332.4" y="210.40" font-size="12.3" fill="#262626">APB1</text>
<text x="332.4" y="225.15" font-size="12.3" fill="#262626">APB2</text>
<text x="332.4" y="239.90" font-size="12.3" fill="#262626">APB3</text>
<text x="210.6" y="293.8" font-size="14.8" text-anchor="middle" fill="#262626">Scores on PC 1 (61.02%)</text>
<text transform="translate(18.5,136) rotate(-90)" x="0" y="0" font-size="14.8" text-anchor="middle" fill="#262626">Scores on PC 5 (1.68%)</text>
<text x="61.8" y="37.8" font-size="24.3" font-weight="bold" style="font-family:&quot;Liberation Serif&quot;,serif" fill="#111">(A)</text>
<line x1="428.6" y1="136.00" x2="742.4" y2="136.00" stroke="#444444" stroke-width="1"/>
<rect x="435.57" y="136.00" width="8.05" height="51.70" fill="#0072bd"/>
<rect x="445.63" y="136.00" width="8.05" height="16.47" fill="#d95319"/>
<rect x="470.74" y="73.93" width="8.05" height="62.07" fill="#0072bd"/>
<rect x="480.80" y="130.05" width="8.05" height="5.95" fill="#d95319"/>
<rect x="505.91" y="121.66" width="8.05" height="14.34" fill="#0072bd"/>
<rect x="515.97" y="136.00" width="8.05" height="7.93" fill="#d95319"/>
<rect x="541.08" y="71.95" width="8.05" height="64.05" fill="#0072bd"/>
<rect x="551.14" y="136.00" width="8.05" height="0.46" fill="#d95319"/>
<rect x="576.25" y="74.24" width="8.05" height="61.76" fill="#0072bd"/>
<rect x="586.31" y="136.00" width="8.05" height="4.73" fill="#d95319"/>
<rect x="611.42" y="72.41" width="8.05" height="63.59" fill="#0072bd"/>
<rect x="621.48" y="136.00" width="8.05" height="6.56" fill="#d95319"/>
<rect x="646.59" y="71.64" width="8.05" height="64.36" fill="#0072bd"/>
<rect x="656.65" y="132.03" width="8.05" height="3.97" fill="#d95319"/>
<rect x="681.76" y="136.00" width="8.05" height="11.74" fill="#0072bd"/>
<rect x="691.82" y="136.00" width="8.05" height="105.99" fill="#d95319"/>
<rect x="716.93" y="136.00" width="8.05" height="17.23" fill="#0072bd"/>
<rect x="726.99" y="28.18" width="8.05" height="107.82" fill="#d95319"/>
<rect x="428.6" y="13.9" width="313.80" height="244.20" fill="none" stroke="#444444" stroke-width="1.1"/>
<line x1="479.80" y1="258.1" x2="479.80" y2="255.50000000000003" stroke="#444444" stroke-width="1"/>
<line x1="479.80" y1="13.9" x2="479.80" y2="16.5" stroke="#444444" stroke-width="1"/>
<text x="479.80" y="276" font-size="13.6" text-anchor="middle" fill="#262626">2</text>
<line x1="550.14" y1="258.1" x2="550.14" y2="255.50000000000003" stroke="#444444" stroke-width="1"/>
<line x1="550.14" y1="13.9" x2="550.14" y2="16.5" stroke="#444444" stroke-width="1"/>
<text x="550.14" y="276" font-size="13.6" text-anchor="middle" fill="#262626">4</text>
<line x1="620.48" y1="258.1" x2="620.48" y2="255.50000000000003" stroke="#444444" stroke-width="1"/>
<line x1="620.48" y1="13.9" x2="620.48" y2="16.5" stroke="#444444" stroke-width="1"/>
<text x="620.48" y="276" font-size="13.6" text-anchor="middle" fill="#262626">6</text>
<line x1="690.82" y1="258.1" x2="690.82" y2="255.50000000000003" stroke="#444444" stroke-width="1"/>
<line x1="690.82" y1="13.9" x2="690.82" y2="16.5" stroke="#444444" stroke-width="1"/>
<text x="690.82" y="276" font-size="13.6" text-anchor="middle" fill="#262626">8</text>
<line x1="428.6" y1="258.00" x2="431.20000000000005" y2="258.00" stroke="#444444" stroke-width="1"/>
<line x1="742.4" y1="258.00" x2="739.8" y2="258.00" stroke="#444444" stroke-width="1"/>
<text x="423.8" y="262.90" font-size="13.6" text-anchor="end" fill="#262626">-0.8</text>
<line x1="428.6" y1="227.50" x2="431.20000000000005" y2="227.50" stroke="#444444" stroke-width="1"/>
<line x1="742.4" y1="227.50" x2="739.8" y2="227.50" stroke="#444444" stroke-width="1"/>
<text x="423.8" y="232.40" font-size="13.6" text-anchor="end" fill="#262626">-0.6</text>
<line x1="428.6" y1="197.00" x2="431.20000000000005" y2="197.00" stroke="#444444" stroke-width="1"/>
<line x1="742.4" y1="197.00" x2="739.8" y2="197.00" stroke="#444444" stroke-width="1"/>
<text x="423.8" y="201.90" font-size="13.6" text-anchor="end" fill="#262626">-0.4</text>
<line x1="428.6" y1="166.50" x2="431.20000000000005" y2="166.50" stroke="#444444" stroke-width="1"/>
<line x1="742.4" y1="166.50" x2="739.8" y2="166.50" stroke="#444444" stroke-width="1"/>
<text x="423.8" y="171.40" font-size="13.6" text-anchor="end" fill="#262626">-0.2</text>
<line x1="428.6" y1="136.00" x2="431.20000000000005" y2="136.00" stroke="#444444" stroke-width="1"/>
<line x1="742.4" y1="136.00" x2="739.8" y2="136.00" stroke="#444444" stroke-width="1"/>
<text x="423.8" y="140.90" font-size="13.6" text-anchor="end" fill="#262626">0</text>
<line x1="428.6" y1="105.50" x2="431.20000000000005" y2="105.50" stroke="#444444" stroke-width="1"/>
<line x1="742.4" y1="105.50" x2="739.8" y2="105.50" stroke="#444444" stroke-width="1"/>
<text x="423.8" y="110.40" font-size="13.6" text-anchor="end" fill="#262626">0.2</text>
<line x1="428.6" y1="75.00" x2="431.20000000000005" y2="75.00" stroke="#444444" stroke-width="1"/>
<line x1="742.4" y1="75.00" x2="739.8" y2="75.00" stroke="#444444" stroke-width="1"/>
<text x="423.8" y="79.90" font-size="13.6" text-anchor="end" fill="#262626">0.4</text>
<line x1="428.6" y1="44.50" x2="431.20000000000005" y2="44.50" stroke="#444444" stroke-width="1"/>
<line x1="742.4" y1="44.50" x2="739.8" y2="44.50" stroke="#444444" stroke-width="1"/>
<text x="423.8" y="49.40" font-size="13.6" text-anchor="end" fill="#262626">0.6</text>
<line x1="428.6" y1="14.00" x2="431.20000000000005" y2="14.00" stroke="#444444" stroke-width="1"/>
<line x1="742.4" y1="14.00" x2="739.8" y2="14.00" stroke="#444444" stroke-width="1"/>
<text x="423.8" y="18.90" font-size="13.6" text-anchor="end" fill="#262626">0.8</text>
<text x="585.3" y="293.4" font-size="13.4" text-anchor="middle" fill="#262626">Variable</text>
<text transform="translate(394.4,136.3) rotate(-90)" x="0" y="0" font-size="13.5" text-anchor="middle" fill="#262626">PC 1 (61.02%), PC 5 (1.68%)</text>
<text x="437.8" y="34.3" font-size="24.3" font-weight="bold" style="font-family:&quot;Liberation Serif&quot;,serif" fill="#111">(B)</text>
<text x="477.7" y="69.4" font-size="9.5" text-anchor="middle" fill="#262626">Area</text>
<text x="544.5" y="69.8" font-size="9.5" text-anchor="middle" fill="#262626">M axis</text>
<text x="579.6" y="69.8" font-size="9.5" text-anchor="middle" fill="#262626">m axis</text>
<text x="616.7" y="57.7" font-size="9.5" text-anchor="middle" fill="#262626">Eq.</text>
<text x="617.6" y="69.8" font-size="9.5" text-anchor="middle" fill="#262626">diameter</text>
<text x="654.8" y="145.6" font-size="9.5" text-anchor="middle" fill="#262626">Perimeter</text>
<text x="695.4" y="119.5" font-size="9.5" text-anchor="middle" fill="#262626">F.</text>
<text x="694.9" y="131.7" font-size="9.5" text-anchor="middle" fill="#262626">Haus</text>
<text x="510.8" y="158.4" font-size="9.5" text-anchor="middle" fill="#262626">Eccentricity</text>
<text x="449.5" y="208.1" font-size="9.5" text-anchor="middle" fill="#262626">Circulaity</text>
<text x="721.4" y="163.9" font-size="9.5" text-anchor="middle" fill="#262626">F.</text>
<text x="721.8" y="175.8" font-size="9.5" text-anchor="middle" fill="#262626">Boxcount</text>
<rect x="531.4" y="186.9" width="118.9" height="30.9" fill="#fff" stroke="#444444" stroke-width="1"/>
<rect x="534.9" y="189.5" width="27.9" height="10.5" fill="#0072bd"/>
<rect x="534.9" y="204.3" width="27.9" height="10.4" fill="#d95319"/>
<text x="568.2" y="199.4" font-size="12" fill="#262626">PC 1 (61.02%)</text>
<text x="568.2" y="213.8" font-size="12" fill="#262626">PC 5 (1.68%)</text>
</svg></body></html>
